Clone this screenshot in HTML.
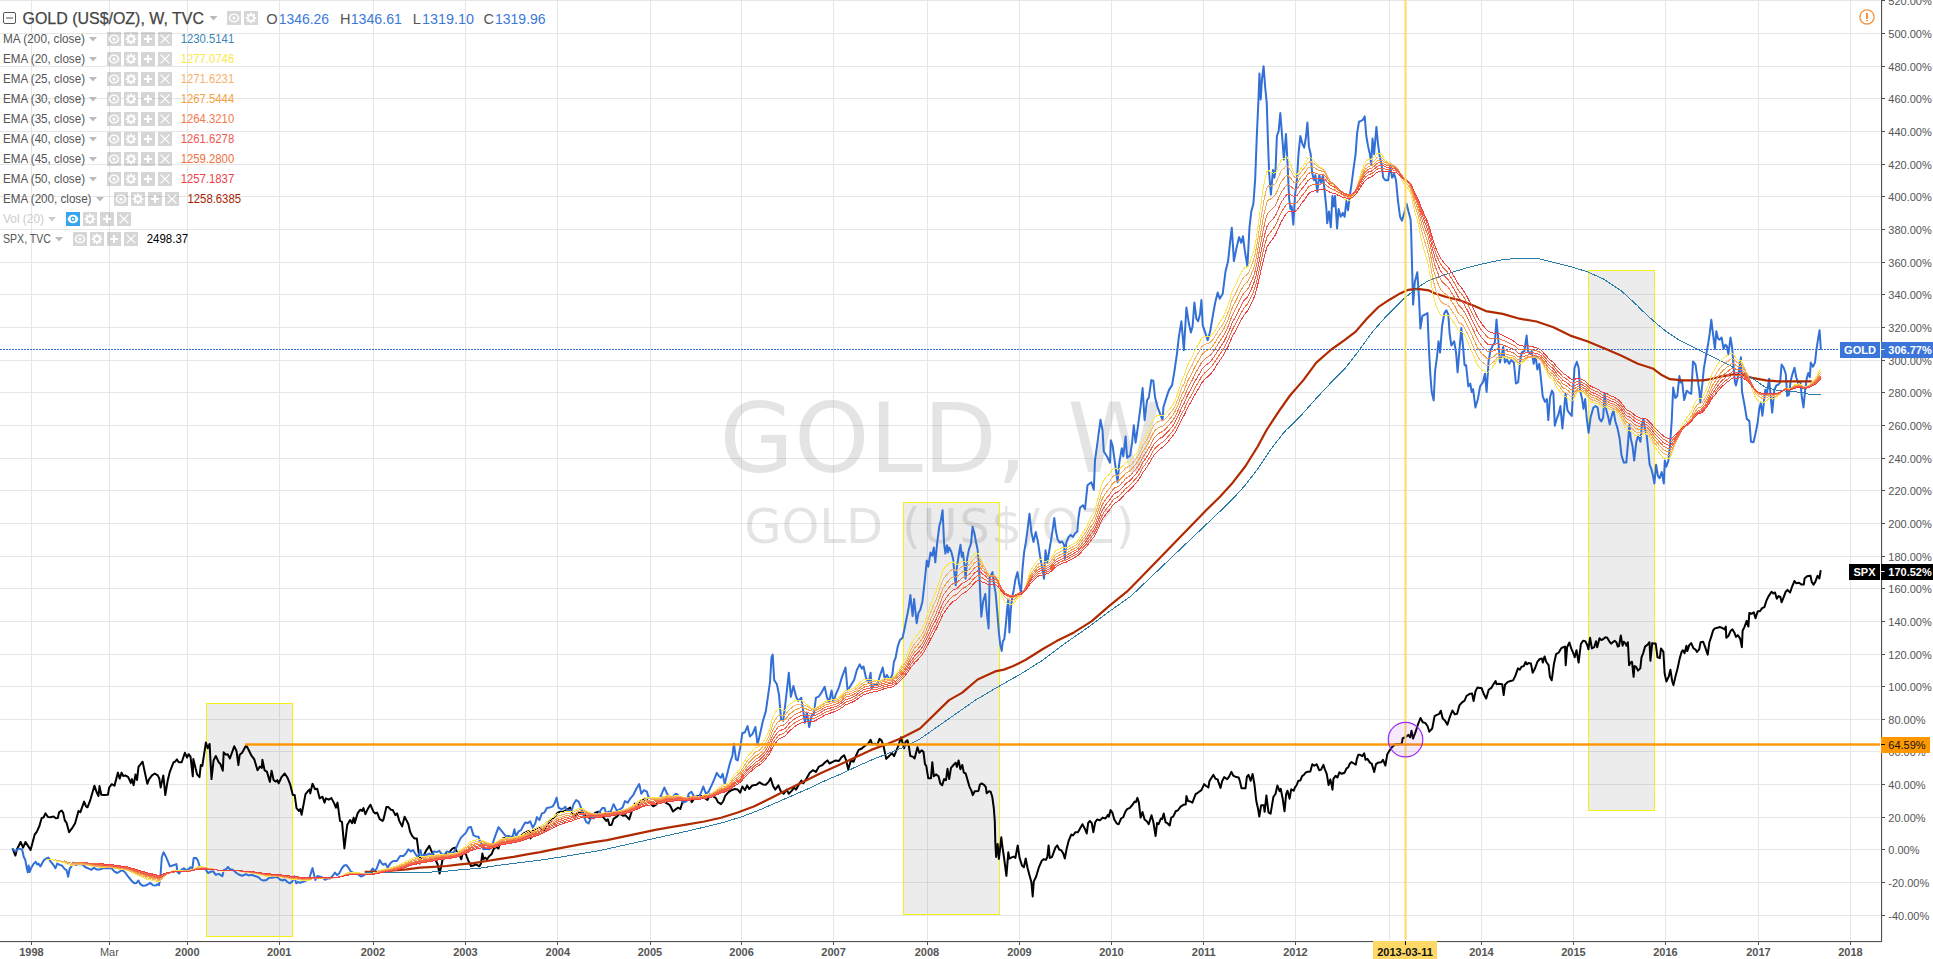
<!DOCTYPE html>
<html lang="en"><head><meta charset="utf-8"><title>GOLD (US$/OZ), W, TVC</title>
<style>html,body{margin:0;padding:0;background:#fff;overflow:hidden}body{width:1933px;height:959px;position:relative;font-family:"Liberation Sans",Arial,sans-serif}</style>
</head><body>
<svg width="1933" height="959" viewBox="0 0 1933 959" style="display:block;position:absolute;left:0;top:0">
<rect width="1933" height="959" fill="#fff"/>
<rect x="0" y="0" width="1880" height="1" fill="#e6e6e6"/>
<rect x="0" y="33" width="1880" height="1" fill="#e6e6e6"/>
<rect x="0" y="66" width="1880" height="1" fill="#e6e6e6"/>
<rect x="0" y="98" width="1880" height="1" fill="#e6e6e6"/>
<rect x="0" y="131" width="1880" height="1" fill="#e6e6e6"/>
<rect x="0" y="164" width="1880" height="1" fill="#e6e6e6"/>
<rect x="0" y="196" width="1880" height="1" fill="#e6e6e6"/>
<rect x="0" y="229" width="1880" height="1" fill="#e6e6e6"/>
<rect x="0" y="262" width="1880" height="1" fill="#e6e6e6"/>
<rect x="0" y="294" width="1880" height="1" fill="#e6e6e6"/>
<rect x="0" y="327" width="1880" height="1" fill="#e6e6e6"/>
<rect x="0" y="360" width="1880" height="1" fill="#e6e6e6"/>
<rect x="0" y="392" width="1880" height="1" fill="#e6e6e6"/>
<rect x="0" y="425" width="1880" height="1" fill="#e6e6e6"/>
<rect x="0" y="458" width="1880" height="1" fill="#e6e6e6"/>
<rect x="0" y="490" width="1880" height="1" fill="#e6e6e6"/>
<rect x="0" y="523" width="1880" height="1" fill="#e6e6e6"/>
<rect x="0" y="556" width="1880" height="1" fill="#e6e6e6"/>
<rect x="0" y="588" width="1880" height="1" fill="#e6e6e6"/>
<rect x="0" y="621" width="1880" height="1" fill="#e6e6e6"/>
<rect x="0" y="654" width="1880" height="1" fill="#e6e6e6"/>
<rect x="0" y="686" width="1880" height="1" fill="#e6e6e6"/>
<rect x="0" y="719" width="1880" height="1" fill="#e6e6e6"/>
<rect x="0" y="751" width="1880" height="1" fill="#e6e6e6"/>
<rect x="0" y="784" width="1880" height="1" fill="#e6e6e6"/>
<rect x="0" y="817" width="1880" height="1" fill="#e6e6e6"/>
<rect x="0" y="849" width="1880" height="1" fill="#e6e6e6"/>
<rect x="0" y="882" width="1880" height="1" fill="#e6e6e6"/>
<rect x="0" y="915" width="1880" height="1" fill="#e6e6e6"/>
<rect x="31" y="0" width="1" height="940" fill="#e6e6e6"/>
<rect x="109" y="0" width="1" height="940" fill="#e6e6e6"/>
<rect x="187" y="0" width="1" height="940" fill="#e6e6e6"/>
<rect x="279" y="0" width="1" height="940" fill="#e6e6e6"/>
<rect x="373" y="0" width="1" height="940" fill="#e6e6e6"/>
<rect x="465" y="0" width="1" height="940" fill="#e6e6e6"/>
<rect x="557" y="0" width="1" height="940" fill="#e6e6e6"/>
<rect x="650" y="0" width="1" height="940" fill="#e6e6e6"/>
<rect x="741" y="0" width="1" height="940" fill="#e6e6e6"/>
<rect x="833" y="0" width="1" height="940" fill="#e6e6e6"/>
<rect x="927" y="0" width="1" height="940" fill="#e6e6e6"/>
<rect x="1019" y="0" width="1" height="940" fill="#e6e6e6"/>
<rect x="1111" y="0" width="1" height="940" fill="#e6e6e6"/>
<rect x="1203" y="0" width="1" height="940" fill="#e6e6e6"/>
<rect x="1295" y="0" width="1" height="940" fill="#e6e6e6"/>
<rect x="1389" y="0" width="1" height="940" fill="#e6e6e6"/>
<rect x="1481" y="0" width="1" height="940" fill="#e6e6e6"/>
<rect x="1573" y="0" width="1" height="940" fill="#e6e6e6"/>
<rect x="1665" y="0" width="1" height="940" fill="#e6e6e6"/>
<rect x="1758" y="0" width="1" height="940" fill="#e6e6e6"/>
<rect x="1850" y="0" width="1" height="940" fill="#e6e6e6"/>
<g font-family="'DejaVu Sans', Verdana, sans-serif" fill="#555" fill-opacity="0.16">
<text x="719.5" y="472.3" font-size="96">GOLD,</text>
<text x="1067.3" y="472.3" font-size="96">W</text>
<text x="744.2" y="542.6" font-size="48">GOLD</text>
<text x="901.9" y="542.6" font-size="48" textLength="232.4">(US$/OZ)</text>
</g>
<rect x="206.5" y="703.5" width="86.0" height="233.0" fill="rgba(120,120,120,0.14)" stroke="#f5f014" stroke-width="1"/>
<rect x="903.5" y="502.5" width="96.0" height="412.0" fill="rgba(120,120,120,0.14)" stroke="#f5f014" stroke-width="1"/>
<rect x="1588.5" y="270.5" width="66.0" height="540.0" fill="rgba(120,120,120,0.14)" stroke="#f5f014" stroke-width="1"/>
<line x1="0" y1="349.5" x2="1839" y2="349.5" stroke="#3370d6" stroke-width="1" stroke-dasharray="2 1"/>
<path d="M12.8 849.1 L15.4 855.5 L16.9 849.5 L20.6 842.0 L23.1 847.6 L25.5 842.0 L30.6 849.9 L34.7 834.5 L36.6 832.2 L39.4 826.0 L41.7 818.0 L43.5 817.6 L45.4 813.3 L47.9 817.0 L50.7 817.2 L53.5 816.5 L55.9 818.3 L57.8 818.0 L59.1 812.3 L61.6 810.5 L63.2 812.9 L64.8 820.4 L66.6 822.9 L69.1 832.2 L72.3 827.9 L75.1 823.2 L78.5 811.0 L80.3 812.3 L84.1 801.6 L86.0 806.3 L87.5 807.3 L90.1 800.7 L94.4 785.7 L96.7 792.3 L98.5 796.0 L99.5 786.1 L101.3 794.7 L104.2 795.1 L107.9 794.7 L109.2 787.6 L111.7 784.2 L114.5 785.7 L117.9 772.6 L119.7 778.6 L121.6 772.6 L123.1 775.9 L125.4 775.4 L128.2 777.2 L130.8 782.9 L131.9 779.1 L133.6 785.3 L135.5 774.4 L137.0 780.1 L138.5 766.9 L142.6 761.7 L144.5 770.7 L147.3 783.8 L149.2 779.1 L152.0 775.4 L154.8 773.5 L157.7 775.4 L159.2 778.2 L160.7 787.6 L163.3 775.4 L165.3 795.1 L167.6 781.0 L169.9 771.6 L173.6 762.2 L175.1 761.7 L177.0 759.4 L178.7 762.2 L181.7 762.2 L184.9 752.8 L187.1 757.5 L188.6 754.2 L190.5 756.6 L192.8 776.3 L193.3 759.0 L197.1 774.4 L199.5 777.2 L200.8 765.0 L202.3 766.0 L205.9 742.5 L207.8 748.2 L209.6 744.0 L211.5 779.1 L213.6 760.4 L215.8 756.0 L218.7 762.2 L220.5 764.1 L222.8 770.7 L223.7 752.3 L225.8 754.7 L227.7 754.3 L229.9 758.5 L234.2 746.3 L236.5 751.0 L238.4 765.0 L239.7 754.7 L242.1 752.8 L246.2 745.3 L248.7 750.0 L251.5 755.7 L254.3 759.4 L257.5 770.3 L259.9 766.5 L261.8 767.9 L262.4 759.8 L264.6 770.3 L266.9 771.6 L269.9 781.9 L271.6 770.7 L273.6 780.1 L275.9 781.6 L277.4 780.1 L278.7 783.4 L281.5 777.2 L284.7 773.5 L287.2 777.2 L290.0 783.8 L292.8 795.1 L294.7 795.1 L296.5 808.2 L299.0 811.0 L300.3 809.1 L301.6 814.8 L305.5 794.1 L307.8 791.3 L309.7 789.4 L310.3 793.4 L312.5 783.7 L315.0 789.2 L317.2 788.7 L319.7 798.4 L322.5 796.7 L324.5 802.6 L325.9 798.4 L328.7 799.7 L331.4 798.1 L334.2 803.4 L335.9 807.6 L337.5 802.6 L340.0 820.9 L342.0 821.8 L344.4 848.4 L347.2 825.1 L350.1 820.1 L352.1 823.1 L353.7 817.6 L354.7 823.1 L357.6 813.4 L360.1 809.7 L362.1 810.9 L363.4 808.1 L365.4 814.2 L368.1 808.4 L370.4 804.7 L373.4 811.7 L375.4 813.4 L377.1 812.6 L379.7 819.2 L382.6 820.9 L383.4 819.7 L386.4 807.1 L388.4 807.1 L390.9 809.7 L392.8 810.1 L395.4 815.1 L397.1 813.4 L399.3 820.9 L402.1 826.4 L404.6 816.7 L406.8 820.9 L408.4 824.3 L410.1 831.8 L412.1 835.9 L414.3 838.4 L416.8 838.4 L418.8 853.5 L419.8 863.5 L421.0 856.8 L423.5 856.0 L426.0 850.9 L429.3 845.9 L431.8 851.8 L433.5 855.1 L436.0 861.0 L437.6 864.3 L439.6 873.5 L441.8 863.5 L443.1 856.8 L446.0 854.3 L448.5 853.5 L451.0 850.1 L452.7 848.4 L455.2 847.6 L456.8 852.1 L459.3 855.1 L461.3 859.3 L463.5 849.3 L465.2 851.8 L466.8 856.8 L468.5 861.0 L471.0 866.0 L473.5 865.5 L476.0 864.3 L479.4 866.3 L481.0 863.5 L482.4 853.5 L483.5 859.3 L485.2 857.6 L486.9 859.3 L489.4 856.0 L491.5 854.3 L493.5 849.3 L496.0 846.8 L498.5 848.4 L500.2 841.8 L502.7 838.4 L505.2 838.1 L508.6 837.1 L511.1 836.8 L513.6 838.4 L516.9 837.6 L520.2 836.8 L523.6 833.4 L526.9 831.8 L529.4 830.9 L530.6 838.4 L531.9 831.4 L535.2 829.3 L537.7 828.4 L540.3 826.8 L543.6 830.9 L546.1 826.8 L549.4 821.8 L551.9 820.1 L554.4 816.7 L557.8 812.6 L560.3 811.7 L563.6 811.7 L566.9 809.7 L570.3 807.6 L571.6 811.7 L573.6 815.1 L575.3 816.7 L577.8 812.6 L581.1 811.7 L583.6 813.4 L587.0 816.7 L590.3 818.4 L592.8 815.1 L595.3 812.6 L598.6 811.7 L601.1 814.2 L603.6 817.6 L606.2 820.9 L607.8 819.2 L609.5 825.1 L611.5 825.0 L613.6 818.8 L616.7 816.7 L619.8 813.6 L622.9 815.7 L625.4 815.2 L629.2 819.4 L631.7 811.5 L634.8 803.6 L637.5 805.2 L641.7 800.6 L644.9 799.4 L646.9 800.0 L650.1 803.1 L653.2 806.3 L655.9 804.8 L659.5 801.1 L662.6 796.9 L665.7 802.7 L669.9 805.2 L673.0 811.5 L675.5 809.4 L678.2 807.7 L680.3 809.0 L682.8 801.1 L685.5 800.6 L688.7 796.9 L691.8 802.1 L693.9 799.0 L696.4 796.5 L700.1 795.8 L703.3 796.9 L707.4 800.0 L710.6 793.8 L713.7 796.9 L715.8 797.9 L717.9 802.1 L721.0 804.2 L723.1 801.5 L725.2 795.8 L728.3 792.3 L731.4 790.2 L734.6 789.0 L737.7 789.6 L740.2 792.7 L742.3 786.5 L745.0 790.2 L747.1 785.4 L749.2 789.0 L752.3 785.4 L756.5 784.8 L759.6 782.3 L762.7 784.4 L765.8 784.8 L768.6 781.9 L770.6 778.1 L773.1 786.0 L775.2 789.6 L778.4 785.4 L780.4 790.6 L783.6 793.8 L786.7 789.6 L788.8 793.8 L791.9 790.6 L794.0 787.5 L796.1 789.6 L799.2 784.0 L801.3 780.6 L803.4 783.3 L806.5 778.5 L809.6 772.9 L812.8 770.2 L815.9 771.9 L819.0 766.6 L822.2 765.2 L824.9 762.5 L827.4 760.4 L829.5 763.5 L832.6 761.8 L835.7 760.4 L838.9 761.0 L841.6 757.2 L844.1 755.2 L846.2 760.4 L848.2 769.3 L851.0 760.4 L853.5 761.8 L856.2 755.2 L858.7 749.9 L861.8 748.5 L864.9 745.8 L868.1 743.7 L870.6 739.9 L872.2 744.3 L874.9 743.7 L877.4 744.7 L879.5 738.9 L881.6 740.6 L883.7 746.8 L886.2 758.9 L888.9 756.2 L892.0 753.1 L894.1 756.2 L896.2 751.0 L898.3 745.8 L901.0 737.4 L904.1 748.2 L905.6 741.6 L907.5 740.3 L909.0 747.2 L910.3 756.0 L912.8 756.6 L914.6 758.5 L917.5 747.2 L919.3 752.8 L921.6 750.4 L923.5 751.9 L925.0 764.1 L926.3 766.0 L928.2 778.2 L931.0 778.2 L932.3 762.2 L933.8 776.3 L936.0 774.4 L938.5 776.3 L940.4 783.8 L942.2 785.3 L944.1 779.1 L946.0 780.1 L947.5 768.8 L949.2 779.1 L951.0 767.9 L953.5 765.0 L955.7 762.8 L956.9 766.9 L958.6 760.4 L960.4 769.2 L962.3 765.0 L963.8 772.6 L965.7 773.5 L967.6 780.1 L969.4 786.6 L971.3 790.4 L972.8 795.1 L974.7 791.3 L978.5 790.9 L979.8 784.8 L981.6 783.4 L984.1 784.8 L985.8 787.2 L986.7 793.2 L989.1 791.3 L990.7 791.7 L992.3 797.0 L993.8 808.2 L994.8 821.3 L995.3 842.0 L996.1 857.0 L997.6 843.9 L998.9 858.9 L1000.0 849.5 L1001.3 837.3 L1002.7 848.6 L1004.2 858.9 L1006.4 875.8 L1008.3 852.3 L1009.4 858.5 L1011.7 857.4 L1013.9 856.6 L1015.4 857.9 L1017.7 845.4 L1019.6 857.9 L1022.0 865.5 L1023.9 867.3 L1025.7 858.5 L1027.6 868.3 L1029.9 876.7 L1031.4 882.3 L1032.7 896.4 L1033.8 881.4 L1036.1 876.7 L1038.9 867.3 L1041.7 860.8 L1043.6 859.3 L1046.0 859.8 L1047.3 857.0 L1048.6 845.4 L1049.8 857.9 L1052.0 857.0 L1055.4 847.6 L1057.3 845.4 L1059.2 849.5 L1061.4 850.4 L1063.3 853.6 L1064.8 858.5 L1066.7 848.6 L1068.9 840.1 L1071.4 834.5 L1073.0 835.4 L1075.5 832.2 L1077.9 832.2 L1079.8 828.9 L1082.4 824.2 L1084.9 828.9 L1086.7 833.5 L1088.2 822.9 L1089.9 821.0 L1091.8 823.2 L1093.3 832.2 L1095.2 822.3 L1097.1 819.5 L1099.9 820.4 L1102.7 817.6 L1105.5 818.5 L1108.0 814.8 L1108.9 816.7 L1110.6 810.1 L1112.5 812.9 L1114.3 819.5 L1116.8 823.6 L1118.7 824.2 L1121.1 818.5 L1123.3 817.2 L1125.2 812.0 L1127.1 809.1 L1129.9 807.8 L1132.7 804.5 L1134.6 801.6 L1135.9 802.2 L1137.4 797.9 L1138.9 802.6 L1140.6 817.6 L1142.5 812.0 L1144.6 819.5 L1146.8 821.3 L1148.7 824.2 L1151.5 815.3 L1153.4 822.3 L1155.6 836.0 L1157.1 822.9 L1158.6 824.2 L1160.9 818.5 L1162.2 819.1 L1163.7 813.5 L1165.6 822.3 L1167.4 823.2 L1169.7 825.5 L1171.2 817.6 L1173.1 816.7 L1175.9 811.0 L1177.8 810.5 L1180.6 806.7 L1183.4 804.8 L1185.7 804.5 L1186.4 796.0 L1188.1 801.1 L1190.5 801.6 L1192.4 802.6 L1195.6 794.1 L1198.4 792.3 L1200.0 791.1 L1201.4 790.2 L1204.2 784.1 L1206.1 786.0 L1208.4 787.4 L1209.4 781.3 L1211.7 777.5 L1213.4 774.9 L1215.5 778.7 L1217.6 779.4 L1218.8 783.2 L1220.5 787.9 L1222.1 781.3 L1224.2 777.1 L1227.2 779.2 L1229.1 776.6 L1231.4 771.9 L1233.3 775.7 L1236.1 777.1 L1238.7 777.5 L1239.9 781.3 L1241.5 788.3 L1245.5 788.3 L1246.9 776.6 L1248.5 774.9 L1250.7 780.8 L1252.6 774.0 L1254.4 784.1 L1256.3 801.0 L1258.0 808.5 L1259.3 816.5 L1261.2 805.2 L1263.8 805.2 L1264.6 811.8 L1266.4 795.4 L1268.5 812.3 L1270.6 813.7 L1273.4 796.8 L1275.5 794.0 L1277.4 785.5 L1279.6 791.1 L1280.7 788.8 L1282.6 798.2 L1284.5 811.3 L1286.1 794.4 L1287.5 790.7 L1289.6 798.7 L1291.2 789.3 L1293.7 790.7 L1295.0 787.4 L1296.7 785.0 L1298.3 780.8 L1300.4 780.4 L1302.1 776.1 L1304.0 774.7 L1305.9 772.4 L1307.9 771.7 L1310.3 771.4 L1312.3 764.2 L1314.3 765.8 L1316.6 764.2 L1319.2 770.2 L1321.1 769.6 L1323.4 764.9 L1324.8 769.1 L1326.7 773.8 L1328.6 785.0 L1330.3 779.4 L1331.4 784.1 L1332.5 789.7 L1333.4 778.9 L1335.6 775.7 L1337.5 777.5 L1339.4 772.4 L1341.7 773.8 L1344.5 772.8 L1346.4 768.6 L1348.3 767.2 L1349.9 763.5 L1351.6 762.1 L1353.9 763.5 L1355.8 764.6 L1356.9 758.8 L1358.3 754.8 L1360.0 754.8 L1362.3 756.1 L1364.2 753.3 L1365.5 759.8 L1367.4 758.9 L1369.9 762.6 L1371.7 763.6 L1374.2 772.0 L1376.0 764.1 L1378.3 762.6 L1381.1 762.3 L1383.0 759.8 L1385.4 765.5 L1387.3 754.2 L1389.6 750.4 L1392.4 746.7 L1395.2 744.2 L1398.9 744.2 L1401.8 743.5 L1402.7 738.2 L1405.5 737.3 L1408.3 734.9 L1410.2 737.3 L1411.5 730.7 L1413.0 738.6 L1415.5 732.2 L1417.7 725.1 L1420.5 718.0 L1422.8 722.3 L1425.2 722.9 L1427.5 726.0 L1429.3 731.7 L1432.2 728.5 L1434.6 716.1 L1436.9 714.8 L1439.3 713.8 L1440.8 710.7 L1442.7 718.5 L1444.9 720.4 L1447.4 724.7 L1449.6 717.6 L1452.4 710.5 L1454.9 714.4 L1457.1 713.8 L1459.4 705.4 L1461.8 702.6 L1464.6 700.7 L1466.5 696.0 L1469.3 694.1 L1472.1 693.6 L1473.6 701.1 L1475.5 691.3 L1477.4 687.6 L1479.6 687.9 L1481.5 687.9 L1483.8 694.1 L1486.2 698.5 L1488.7 689.8 L1491.3 687.9 L1493.7 683.8 L1495.6 681.0 L1496.5 684.2 L1498.4 683.8 L1502.2 684.2 L1503.7 695.1 L1505.0 684.8 L1507.8 681.9 L1510.6 681.0 L1513.1 680.4 L1515.3 675.9 L1518.0 668.4 L1519.8 669.7 L1521.5 666.7 L1523.8 666.1 L1525.6 662.0 L1526.8 664.3 L1528.6 663.1 L1530.9 663.5 L1532.7 672.7 L1534.8 668.8 L1537.5 661.7 L1539.8 659.0 L1541.9 658.5 L1542.8 662.6 L1544.6 656.4 L1546.3 662.0 L1548.6 665.2 L1549.9 676.8 L1551.7 680.3 L1554.0 663.5 L1556.1 654.2 L1558.8 652.5 L1561.1 648.4 L1563.2 647.2 L1565.0 646.6 L1565.7 665.2 L1567.1 647.2 L1569.4 642.5 L1571.2 648.4 L1573.5 653.7 L1574.7 657.3 L1576.5 650.2 L1578.6 662.6 L1580.9 644.0 L1583.0 640.8 L1585.3 641.3 L1587.1 644.8 L1588.4 649.3 L1590.1 637.8 L1591.9 648.4 L1594.2 647.2 L1596.0 641.3 L1597.2 647.2 L1599.5 638.3 L1601.3 640.1 L1603.4 639.0 L1605.4 637.2 L1607.2 637.8 L1609.3 641.3 L1611.1 643.6 L1612.8 642.2 L1614.6 640.8 L1616.4 642.2 L1617.8 646.6 L1619.0 646.1 L1620.8 635.5 L1622.6 645.7 L1623.8 641.8 L1625.2 643.1 L1626.5 645.7 L1627.9 642.2 L1629.1 665.2 L1630.6 662.6 L1632.0 661.7 L1633.6 676.8 L1634.5 666.1 L1636.2 667.0 L1638.0 670.6 L1640.3 668.4 L1641.5 657.3 L1643.3 652.8 L1645.1 646.6 L1647.4 644.8 L1649.5 642.2 L1650.4 660.8 L1652.2 643.1 L1654.0 643.6 L1655.7 643.6 L1657.5 657.3 L1659.8 658.1 L1661.0 648.4 L1663.4 651.9 L1664.6 673.2 L1666.4 681.5 L1668.7 676.8 L1670.4 669.7 L1672.2 681.2 L1673.5 685.1 L1675.2 677.6 L1677.5 668.8 L1679.8 658.1 L1681.6 651.9 L1682.9 650.2 L1684.6 653.2 L1686.4 645.7 L1687.3 651.1 L1689.1 645.4 L1691.2 643.1 L1693.5 648.4 L1695.3 649.3 L1697.0 651.9 L1699.2 649.3 L1700.6 642.2 L1703.2 641.8 L1705.0 646.6 L1707.7 654.6 L1709.4 642.2 L1711.2 636.9 L1713.0 630.7 L1714.8 628.4 L1717.4 627.7 L1720.1 627.1 L1722.4 628.0 L1724.5 629.4 L1725.8 626.6 L1726.3 637.8 L1728.4 636.0 L1730.7 630.7 L1732.5 629.4 L1734.3 632.4 L1736.0 636.9 L1737.8 635.1 L1740.1 638.6 L1741.9 647.2 L1742.6 630.7 L1744.4 627.1 L1746.7 620.9 L1748.4 626.6 L1749.3 612.9 L1751.5 613.8 L1753.8 612.4 L1755.5 618.3 L1757.7 611.2 L1760.0 611.2 L1762.1 608.1 L1764.4 607.1 L1766.5 600.5 L1768.5 596.4 L1771.5 591.7 L1773.3 593.4 L1775.0 592.5 L1776.8 598.8 L1778.6 596.1 L1780.4 597.0 L1781.6 602.3 L1783.4 597.9 L1785.7 591.7 L1787.5 589.9 L1790.1 592.5 L1792.2 586.3 L1794.5 581.0 L1796.3 583.3 L1799.0 582.8 L1801.6 584.6 L1803.8 584.6 L1804.6 578.4 L1807.0 576.2 L1810.5 575.7 L1811.7 581.9 L1813.5 584.6 L1815.3 581.9 L1817.6 575.7 L1819.4 578.4 L1820.6 570.9" fill="none" stroke="#000" stroke-width="2" stroke-linejoin="round" stroke-linecap="round"/>
<path d="M12.8 849.1 L15.4 851.4 L18.8 848.6 L22.1 849.5 L23.8 857.0 L25.3 859.8 L26.8 868.3 L27.8 872.4 L28.7 865.5 L29.7 872.0 L31.0 868.3 L33.8 863.6 L35.7 861.7 L37.2 864.5 L38.5 863.6 L40.4 866.4 L44.1 859.8 L46.5 858.5 L48.4 857.6 L50.7 861.7 L53.1 864.5 L55.4 868.3 L57.2 863.6 L59.7 864.9 L61.9 865.5 L64.8 869.2 L66.6 870.1 L68.1 876.7 L69.8 868.3 L70.9 867.3 L73.2 862.6 L75.1 864.9 L78.8 864.1 L82.6 864.5 L85.4 867.3 L88.2 868.3 L91.6 869.8 L93.8 867.7 L96.7 869.6 L99.5 869.6 L102.9 868.3 L106.0 868.3 L111.7 868.3 L114.5 871.6 L117.3 873.0 L122.0 870.1 L124.8 872.0 L127.6 875.8 L131.4 880.5 L134.2 883.3 L136.6 882.9 L138.3 880.5 L140.4 884.2 L142.6 885.7 L145.5 885.5 L148.3 884.2 L150.1 882.9 L153.0 885.2 L155.8 885.5 L157.3 884.2 L159.0 885.2 L160.5 875.8 L161.8 857.0 L163.5 852.3 L166.1 857.0 L168.0 861.7 L169.9 866.4 L172.7 865.5 L176.4 864.1 L177.4 872.0 L179.2 873.5 L181.1 870.1 L183.9 868.3 L185.8 870.1 L188.6 869.2 L190.5 867.3 L192.4 868.3 L193.7 857.9 L196.1 857.9 L198.0 860.8 L199.9 867.3 L202.7 868.3 L205.5 869.2 L208.0 873.0 L210.2 872.0 L213.0 871.1 L215.8 874.8 L218.7 873.9 L222.4 876.2 L223.7 870.1 L226.2 869.2 L228.0 867.0 L229.9 869.2 L232.7 869.8 L236.5 873.0 L239.3 874.8 L242.1 875.8 L245.9 874.3 L248.7 875.4 L251.5 874.8 L254.3 875.8 L257.1 876.7 L259.0 877.7 L261.3 879.9 L263.7 880.5 L266.5 879.9 L269.3 877.7 L272.1 877.7 L275.0 877.3 L277.8 877.3 L280.0 879.5 L282.5 880.5 L284.7 879.5 L287.2 881.8 L290.0 883.3 L292.4 881.4 L294.3 876.2 L296.2 883.3 L298.4 881.8 L300.3 882.9 L303.1 881.8 L305.9 880.5 L308.7 879.5 L310.0 876.0 L312.5 868.1 L315.3 880.1 L317.5 876.0 L321.7 877.1 L325.0 879.8 L327.5 878.5 L330.0 878.5 L332.5 876.0 L335.0 872.6 L337.0 875.1 L339.2 873.5 L341.7 868.5 L344.2 865.5 L346.4 865.1 L348.4 867.6 L350.9 871.8 L353.4 872.6 L356.7 873.5 L360.9 876.5 L363.4 875.5 L366.7 873.5 L369.7 873.5 L372.6 868.5 L374.7 871.0 L376.7 868.5 L379.7 860.1 L381.8 863.5 L383.4 864.8 L385.4 863.5 L387.6 867.6 L390.9 862.6 L393.4 861.0 L396.8 861.0 L400.1 856.0 L403.4 856.0 L405.9 853.5 L408.4 849.3 L410.9 851.4 L413.1 850.1 L415.1 853.5 L416.8 856.0 L418.8 855.1 L420.6 850.1 L421.8 856.8 L424.3 854.8 L426.8 854.8 L429.3 853.5 L431.8 855.1 L434.3 851.4 L436.8 852.1 L439.3 850.9 L441.8 854.3 L444.3 854.8 L446.8 851.4 L449.3 852.1 L451.8 853.5 L454.3 851.4 L456.0 848.4 L458.5 842.6 L461.0 837.6 L463.5 835.1 L466.0 832.6 L468.5 827.6 L471.0 827.1 L473.5 835.4 L476.0 836.4 L478.5 836.8 L479.9 840.9 L481.9 844.3 L483.5 849.3 L486.0 848.8 L489.4 849.3 L491.9 845.9 L494.4 838.4 L496.9 831.4 L498.5 827.1 L501.0 830.1 L503.5 833.4 L506.0 836.4 L508.6 835.9 L511.1 837.6 L512.7 836.8 L514.4 829.3 L516.1 835.9 L518.6 831.4 L521.1 830.1 L522.7 826.8 L525.2 822.6 L527.7 823.1 L530.2 821.4 L532.7 827.6 L535.2 823.4 L536.9 817.1 L539.4 820.1 L541.9 813.4 L544.4 812.6 L546.9 808.1 L549.4 807.6 L552.8 806.4 L554.9 802.6 L556.6 797.6 L558.6 807.6 L561.1 809.2 L563.6 808.4 L565.3 806.7 L566.9 810.1 L569.4 810.9 L571.9 809.7 L573.6 804.2 L576.1 800.1 L578.6 801.7 L580.3 805.9 L582.0 810.9 L583.6 815.9 L586.1 821.8 L588.6 823.4 L591.1 817.6 L593.6 818.4 L596.1 815.9 L598.6 813.4 L600.3 810.9 L602.3 808.1 L604.5 808.1 L606.2 813.4 L608.7 811.7 L610.8 811.5 L613.6 804.2 L616.7 810.4 L619.8 809.4 L622.5 807.7 L625.0 801.1 L627.7 802.7 L630.2 798.6 L633.4 794.8 L636.5 788.5 L639.2 784.0 L641.3 793.8 L643.8 790.2 L646.9 791.7 L648.4 796.9 L651.1 798.6 L654.7 797.9 L657.4 799.4 L659.5 798.6 L662.2 792.7 L664.3 787.5 L667.2 793.8 L669.9 798.6 L673.0 796.9 L675.5 793.8 L677.6 794.4 L679.3 798.6 L681.8 800.6 L683.4 802.7 L686.6 801.1 L688.7 793.8 L691.4 791.7 L693.5 795.8 L696.0 797.9 L699.1 796.9 L701.8 790.6 L703.3 786.5 L706.0 793.8 L708.5 791.7 L711.6 785.4 L714.3 779.2 L716.8 772.9 L718.9 776.0 L721.0 777.7 L722.7 773.9 L724.7 784.0 L727.2 773.9 L729.8 763.5 L732.5 755.2 L733.9 743.7 L736.0 759.3 L737.7 760.4 L740.2 747.9 L742.3 733.3 L745.0 732.2 L747.5 726.0 L749.8 736.4 L752.3 734.3 L755.4 727.0 L757.5 744.7 L760.2 733.3 L762.7 721.8 L765.8 711.4 L767.9 696.8 L770.0 682.2 L771.5 657.1 L772.7 654.6 L774.2 680.1 L776.9 684.2 L779.0 694.7 L781.1 719.7 L783.2 720.7 L785.2 705.1 L787.1 688.4 L788.8 672.8 L790.9 696.8 L793.4 685.9 L796.1 696.8 L798.2 700.9 L801.3 697.8 L803.4 712.4 L804.9 722.8 L806.9 712.4 L809.2 727.0 L811.7 715.5 L813.8 714.5 L815.9 697.8 L819.0 696.3 L821.5 692.6 L824.7 686.7 L826.8 696.8 L829.0 702.0 L831.6 690.5 L833.2 702.0 L835.7 694.7 L838.9 687.4 L842.0 676.9 L845.5 667.5 L847.6 690.5 L850.3 686.3 L854.1 680.1 L857.0 669.6 L859.7 664.4 L861.8 668.6 L863.5 666.5 L866.0 678.0 L868.7 682.2 L870.6 672.8 L871.6 688.4 L874.3 684.2 L877.4 685.3 L879.5 676.9 L882.7 667.5 L884.7 679.0 L886.8 674.9 L890.0 680.1 L892.5 673.8 L893.9 661.9 L895.5 658.2 L897.7 646.6 L899.9 640.0 L902.5 637.9 L904.2 630.2 L906.4 619.2 L908.6 608.3 L910.4 595.1 L912.6 615.9 L914.1 599.1 L916.7 623.2 L918.5 612.7 L920.2 610.0 L922.4 601.7 L924.6 582.0 L926.8 560.5 L928.3 566.7 L930.5 552.4 L932.3 555.7 L933.8 547.4 L935.3 562.3 L937.1 543.7 L939.3 526.1 L940.8 520.7 L942.6 510.2 L944.1 543.7 L945.4 553.5 L947.0 545.2 L948.0 552.4 L949.1 547.4 L951.3 551.8 L953.1 559.0 L954.2 571.0 L955.7 585.3 L956.8 567.8 L959.0 553.5 L960.5 544.8 L961.8 556.8 L962.9 552.4 L964.5 565.6 L965.6 578.7 L967.1 559.0 L968.9 549.6 L971.0 543.7 L972.6 526.8 L974.3 532.7 L975.9 541.5 L977.6 549.6 L978.7 562.3 L979.8 584.2 L981.3 616.6 L983.1 601.7 L985.3 594.0 L986.8 612.7 L988.6 628.4 L989.7 577.6 L992.5 572.1 L994.0 584.2 L995.6 592.9 L997.3 612.7 L998.9 632.4 L1000.2 644.4 L1001.7 651.0 L1002.8 641.6 L1004.3 638.9 L1005.7 625.8 L1007.2 608.3 L1008.3 599.5 L1009.4 632.4 L1010.9 608.3 L1012.2 597.3 L1013.8 589.7 L1015.3 579.8 L1017.5 572.1 L1019.2 584.2 L1021.0 591.9 L1022.5 568.9 L1024.1 552.4 L1025.8 542.6 L1027.6 529.4 L1029.5 513.7 L1031.3 531.6 L1033.5 542.1 L1035.7 532.1 L1037.9 541.5 L1040.0 555.7 L1041.8 565.6 L1044.0 578.7 L1045.5 550.2 L1047.3 562.3 L1048.8 553.5 L1051.0 540.4 L1053.2 526.1 L1054.3 518.0 L1055.8 530.5 L1057.6 539.3 L1059.8 542.6 L1061.9 541.5 L1064.1 544.8 L1064.8 559.0 L1066.3 542.6 L1068.5 537.1 L1070.7 534.9 L1072.9 537.1 L1075.1 533.4 L1077.3 531.6 L1078.4 518.5 L1080.0 507.8 L1083.0 505.3 L1085.0 509.0 L1087.5 485.2 L1091.3 482.2 L1093.8 489.7 L1095.0 460.2 L1097.5 442.7 L1100.5 419.7 L1102.5 430.2 L1103.8 451.5 L1107.0 456.5 L1110.0 462.7 L1110.8 440.2 L1112.5 445.2 L1114.6 460.2 L1117.6 482.2 L1119.3 462.7 L1121.8 448.2 L1123.3 456.5 L1125.6 436.4 L1127.1 457.7 L1130.1 455.7 L1132.1 442.7 L1133.8 425.2 L1135.6 442.7 L1138.1 425.2 L1140.6 406.4 L1142.6 388.1 L1144.6 420.2 L1147.1 400.1 L1148.8 397.6 L1151.3 380.1 L1153.3 380.6 L1155.1 397.6 L1157.6 407.2 L1160.1 413.9 L1162.6 420.2 L1163.4 407.2 L1166.4 397.6 L1168.9 390.1 L1172.1 385.1 L1174.6 370.1 L1177.1 352.6 L1178.9 336.3 L1181.4 321.3 L1183.9 350.1 L1186.4 307.5 L1188.9 323.8 L1190.9 332.6 L1192.6 326.3 L1194.4 302.5 L1196.4 318.8 L1198.1 321.3 L1200.1 313.8 L1201.4 300.0 L1202.7 325.1 L1205.2 332.6 L1207.7 340.1 L1210.2 331.3 L1212.7 316.3 L1215.2 302.5 L1217.7 292.5 L1219.7 298.8 L1222.7 293.8 L1225.5 271.5 L1228.1 261.1 L1230.0 242.8 L1231.8 227.7 L1233.9 261.1 L1236.5 248.0 L1239.1 237.1 L1241.2 242.8 L1243.0 236.3 L1244.8 250.7 L1247.4 266.3 L1249.5 227.2 L1251.3 211.6 L1253.4 203.7 L1255.2 179.0 L1256.8 136.0 L1258.6 96.9 L1259.4 73.5 L1260.7 99.5 L1262.0 78.7 L1263.6 66.2 L1265.1 86.5 L1266.7 102.1 L1267.8 136.0 L1269.1 172.5 L1270.9 194.6 L1273.0 169.9 L1274.5 177.7 L1275.6 168.6 L1276.9 136.0 L1278.7 130.8 L1280.3 113.1 L1282.1 136.0 L1283.9 159.4 L1286.0 133.9 L1287.6 164.7 L1289.1 198.5 L1290.4 209.0 L1291.7 206.4 L1293.3 224.6 L1295.1 194.6 L1296.9 180.3 L1298.5 154.2 L1300.3 136.0 L1302.4 143.8 L1304.2 147.7 L1306.1 136.0 L1307.4 122.4 L1308.9 146.4 L1310.7 154.2 L1312.1 172.5 L1313.9 180.3 L1315.4 175.1 L1317.3 192.0 L1319.3 175.1 L1321.2 182.9 L1323.0 175.1 L1324.6 190.7 L1326.4 209.0 L1327.2 223.3 L1329.0 211.6 L1330.8 227.2 L1332.4 195.9 L1333.9 206.4 L1335.0 195.9 L1337.1 228.5 L1338.6 209.0 L1340.7 216.8 L1342.8 212.9 L1344.6 216.8 L1346.4 201.1 L1348.0 210.3 L1349.8 195.9 L1351.7 182.9 L1353.7 167.3 L1355.6 154.2 L1357.1 133.4 L1359.0 121.7 L1361.0 120.9 L1362.9 119.8 L1364.7 116.4 L1366.3 136.0 L1368.1 146.4 L1369.9 154.2 L1371.2 164.7 L1372.5 138.6 L1374.1 154.2 L1376.4 126.9 L1378.0 143.8 L1379.8 156.8 L1381.6 164.7 L1383.2 177.7 L1385.5 180.3 L1388.1 180.3 L1390.2 166.0 L1392.1 177.7 L1394.1 173.8 L1396.0 180.3 L1398.0 201.1 L1400.1 216.8 L1402.0 220.7 L1404.6 211.6 L1406.6 203.7 L1408.5 211.6 L1410.6 219.4 L1411.1 230.0 L1412.0 263.8 L1413.1 304.6 L1414.8 282.1 L1417.3 272.3 L1419.0 297.6 L1420.4 328.6 L1422.4 315.9 L1425.2 314.5 L1427.5 313.1 L1428.9 348.3 L1430.3 373.7 L1431.7 392.0 L1433.7 400.4 L1435.1 370.8 L1437.0 356.8 L1438.5 341.3 L1440.1 352.5 L1442.1 325.8 L1444.4 313.1 L1446.3 310.3 L1448.3 314.5 L1449.7 334.2 L1451.4 345.5 L1454.2 341.3 L1456.2 353.9 L1457.6 372.3 L1459.6 348.3 L1461.3 328.0 L1463.2 348.3 L1464.6 365.2 L1466.1 365.2 L1468.3 386.3 L1470.3 383.5 L1471.7 392.0 L1473.1 389.2 L1475.4 407.5 L1477.9 399.0 L1480.1 386.3 L1483.0 382.1 L1484.9 373.7 L1486.6 392.0 L1488.6 361.0 L1490.6 349.7 L1492.8 345.5 L1494.8 342.7 L1496.5 319.6 L1498.5 342.7 L1499.9 362.4 L1501.8 355.4 L1503.2 346.9 L1504.9 362.4 L1506.9 359.6 L1509.2 363.8 L1511.1 360.1 L1513.9 362.4 L1515.9 383.5 L1518.2 382.1 L1520.1 361.0 L1521.8 352.5 L1524.4 351.1 L1526.6 335.6 L1528.0 351.1 L1530.0 353.9 L1531.7 351.1 L1533.7 363.8 L1535.6 355.4 L1537.3 369.4 L1539.3 363.8 L1541.3 382.1 L1542.7 396.2 L1544.9 401.8 L1546.9 399.0 L1548.3 420.1 L1550.0 397.6 L1552.0 390.6 L1553.4 393.4 L1554.8 425.8 L1556.8 418.7 L1558.5 414.5 L1560.4 406.1 L1562.4 428.6 L1564.1 410.3 L1565.5 393.4 L1567.5 410.3 L1569.4 413.1 L1571.7 415.9 L1573.1 390.6 L1574.5 368.0 L1576.8 361.8 L1578.7 368.0 L1580.1 390.6 L1582.1 399.0 L1583.5 408.9 L1585.2 399.0 L1586.6 417.3 L1588.6 432.8 L1590.6 417.3 L1593.4 407.5 L1595.6 406.1 L1597.6 407.5 L1599.3 418.7 L1601.3 421.5 L1603.2 417.3 L1604.6 393.4 L1606.3 410.3 L1608.3 417.3 L1609.7 424.4 L1611.7 415.9 L1613.4 410.3 L1615.4 421.5 L1617.6 428.6 L1619.6 438.5 L1621.5 455.4 L1623.8 462.6 L1626.3 462.6 L1627.9 443.9 L1629.4 425.1 L1630.8 438.7 L1632.5 446.0 L1634.2 460.6 L1636.3 441.8 L1638.3 435.5 L1640.4 441.8 L1641.9 425.1 L1643.4 418.9 L1645.0 429.3 L1646.7 435.5 L1648.2 450.1 L1649.6 464.7 L1651.3 468.9 L1652.9 475.2 L1654.4 483.5 L1656.1 464.7 L1658.0 476.2 L1659.6 478.3 L1661.7 472.0 L1663.8 483.5 L1664.8 460.6 L1666.3 466.8 L1668.4 460.6 L1670.0 446.0 L1671.7 420.9 L1673.2 387.6 L1675.3 398.0 L1677.3 395.9 L1679.4 376.1 L1680.5 382.4 L1682.1 381.3 L1684.2 400.1 L1686.7 390.7 L1689.2 392.8 L1691.3 393.8 L1693.0 361.5 L1695.5 364.6 L1697.6 379.2 L1699.2 389.7 L1700.3 402.2 L1702.4 383.4 L1703.8 368.8 L1705.9 356.3 L1708.0 344.8 L1709.7 333.4 L1711.3 319.8 L1713.2 335.4 L1714.9 349.0 L1716.3 331.3 L1718.0 338.6 L1719.7 339.6 L1721.6 337.5 L1723.6 349.0 L1725.3 344.8 L1726.8 345.9 L1728.4 354.2 L1730.5 337.5 L1732.2 348.0 L1733.6 366.7 L1734.7 380.3 L1735.9 385.5 L1737.4 379.2 L1739.3 368.8 L1740.9 357.3 L1742.0 391.7 L1743.4 399.0 L1745.1 408.4 L1746.8 418.9 L1749.3 420.9 L1751.0 441.8 L1753.5 442.2 L1755.5 433.5 L1757.6 423.0 L1759.3 408.4 L1760.8 403.2 L1762.4 415.7 L1763.9 402.2 L1765.3 389.7 L1767.0 392.8 L1769.1 378.8 L1770.6 395.9 L1772.2 412.6 L1774.3 389.7 L1776.4 385.5 L1778.5 384.5 L1780.1 382.4 L1781.6 364.6 L1783.7 367.8 L1785.8 374.0 L1787.2 395.9 L1788.9 394.9 L1790.6 381.3 L1792.7 373.0 L1794.5 367.8 L1796.2 377.2 L1798.3 383.4 L1800.4 382.4 L1801.8 397.0 L1803.5 407.4 L1805.2 389.7 L1807.0 377.2 L1808.3 373.0 L1809.8 377.2 L1810.8 362.6 L1812.9 366.7 L1815.0 362.6 L1816.4 350.0 L1818.1 338.6 L1819.6 330.2 L1820.8 349.0" fill="none" stroke="#3370d6" stroke-width="2" stroke-linejoin="round" stroke-linecap="round"/>
<path d="M364.7 871.8 L378.4 871.5 L393.4 870.5 L406.8 869.3 L420.1 867.6 L433.5 866.8 L446.8 866.0 L460.2 864.3 L473.5 863.1 L486.9 861.0 L500.2 858.8 L513.6 856.8 L526.9 854.3 L540.3 852.1 L553.6 849.3 L566.9 846.8 L580.3 844.3 L593.6 842.1 L607.0 840.1 L655.3 829.8 L670.9 827.1 L687.6 824.4 L704.3 821.5 L721.0 817.7 L737.7 812.5 L754.4 806.3 L771.1 797.9 L787.7 789.6 L804.4 781.2 L821.1 772.9 L837.8 765.6 L854.5 757.7 L871.2 749.9 L887.9 743.7 L900.4 738.5 L910.8 733.3 L920.0 728.5 L949.1 700.1 L962.3 692.6 L977.6 679.5 L995.1 671.4 L1003.9 669.6 L1012.7 666.3 L1025.8 659.8 L1043.3 648.8 L1056.5 641.1 L1074.0 632.4 L1091.5 621.4 L1109.0 606.1 L1126.6 591.9 L1139.7 578.7 L1206.4 510.0 L1220.2 496.5 L1232.7 482.7 L1245.2 466.5 L1257.7 446.5 L1266.6 430.0 L1278.8 411.4 L1290.0 395.5 L1303.2 380.4 L1316.3 362.6 L1331.3 349.5 L1344.5 340.1 L1355.7 331.6 L1367.0 318.5 L1378.2 307.2 L1389.5 299.7 L1398.9 294.1 L1408.3 289.8 L1417.7 288.9 L1428.9 290.4 L1435.1 293.4 L1446.3 297.0 L1460.4 300.4 L1474.5 306.1 L1485.8 311.1 L1502.7 313.9 L1519.6 318.7 L1536.5 321.5 L1553.4 327.2 L1570.3 335.6 L1587.2 341.3 L1604.1 348.3 L1621.0 355.4 L1637.9 363.8 L1653.4 368.8 L1661.7 375.1 L1670.0 379.2 L1682.6 380.3 L1703.4 380.3 L1711.7 378.8 L1720.1 376.7 L1732.6 374.7 L1743.0 375.1 L1753.5 378.2 L1766.0 380.3 L1778.5 381.3 L1797.2 381.3 L1811.8 381.3" fill="none" stroke="#b02a00" stroke-width="2.2" stroke-linejoin="round"/>
<path d="M364.7 872.1 L393.4 872.6 L420.1 872.3 L440.1 871.8 L460.2 869.8 L480.2 868.1 L500.2 865.1 L520.2 862.6 L540.3 860.1 L560.3 857.1 L580.3 853.8 L600.3 850.4 L691.8 830.1 L708.5 826.1 L725.2 821.9 L741.9 816.7 L758.5 810.4 L775.2 803.1 L791.9 795.8 L808.6 788.5 L825.3 780.6 L842.0 773.5 L858.7 765.6 L875.4 758.3 L892.0 752.0 L904.6 746.8 L920.0 738.9 L975.4 700.1 L999.5 686.0 L1021.4 673.6 L1043.3 659.8 L1065.2 643.3 L1087.1 628.0 L1109.0 611.6 L1130.9 596.2 L1221.4 510.0 L1232.7 499.0 L1245.2 485.2 L1257.7 469.0 L1270.2 450.2 L1282.7 433.9 L1286.3 430.0 L1301.3 415.2 L1316.3 398.3 L1331.3 382.3 L1344.5 369.2 L1357.6 352.3 L1372.6 331.6 L1387.6 314.8 L1402.6 299.7 L1417.7 287.5 L1428.9 280.4 L1452.0 272.3 L1468.9 267.2 L1485.8 263.2 L1502.7 259.6 L1519.6 258.2 L1536.5 258.2 L1553.4 262.4 L1570.3 266.6 L1587.2 271.7 L1604.1 279.3 L1621.0 290.6 L1637.9 306.1 L1640.9 309.4 L1653.4 320.9 L1665.9 331.3 L1678.4 339.6 L1690.9 345.9 L1703.4 352.1 L1715.9 358.4 L1728.4 364.6 L1740.9 371.9 L1753.5 379.2 L1766.0 387.6 L1778.5 390.7 L1791.0 391.3 L1803.5 392.8 L1809.8 394.5 L1820.8 394.5" fill="none" stroke="#2a7ba8" stroke-width="1" stroke-linejoin="round" shape-rendering="crispEdges"/>
<path d="M46.4 859.1 L48.2 859.0 L49.9 859.1 L51.7 859.5 L53.5 860.0 L55.3 860.8 L57.0 861.1 L58.8 861.4 L60.6 861.8 L62.3 862.2 L64.1 862.8 L65.9 863.4 L67.6 864.5 L69.4 865.0 L71.2 865.2 L72.9 865.0 L74.7 865.0 L76.5 864.9 L78.2 864.9 L80.0 864.8 L81.8 864.8 L83.6 864.8 L85.3 865.1 L87.1 865.3 L88.9 865.6 L90.6 866.0 L92.4 866.3 L94.2 866.4 L95.9 866.7 L97.7 867.0 L99.5 867.2 L101.2 867.4 L103.0 867.5 L104.8 867.5 L106.6 867.6 L108.3 867.7 L110.1 867.7 L111.9 867.8 L113.6 868.1 L115.4 868.5 L117.2 868.9 L118.9 869.2 L120.7 869.3 L122.5 869.4 L124.2 869.7 L126.0 870.0 L127.8 870.6 L129.5 871.3 L131.3 872.2 L133.1 873.1 L134.9 874.1 L136.6 874.9 L138.4 875.5 L140.2 876.3 L141.9 877.1 L143.7 877.9 L145.5 878.7 L147.2 879.2 L149.0 879.7 L150.8 880.0 L152.5 880.5 L154.3 880.9 L156.1 881.3 L157.8 881.7 L159.6 881.6 L161.4 879.8 L163.2 877.3 L164.9 875.2 L166.7 873.6 L168.5 872.6 L170.2 872.0 L172.0 871.4 L173.8 870.8 L175.5 870.2 L177.3 870.3 L179.1 870.6 L180.8 870.6 L182.6 870.4 L184.4 870.3 L186.1 870.2 L187.9 870.2 L189.7 870.0 L191.5 869.8 L193.2 869.0 L195.0 867.9 L196.8 867.1 L198.5 866.7 L200.3 866.7 L202.1 866.9 L203.8 867.0 L205.6 867.3 L207.4 867.7 L209.1 868.2 L210.9 868.5 L212.7 868.8 L214.5 869.2 L216.2 869.7 L218.0 870.1 L219.8 870.5 L221.5 871.0 L223.3 871.1 L225.1 871.0 L226.8 870.7 L228.6 870.4 L230.4 870.3 L232.1 870.3 L233.9 870.3 L235.7 870.5 L237.4 870.8 L239.2 871.2 L241.0 871.6 L242.8 872.0 L244.5 872.2 L246.3 872.4 L248.1 872.7 L249.8 872.9 L251.6 873.1 L253.4 873.3 L255.1 873.6 L256.9 873.9 L258.7 874.2 L260.4 874.7 L262.2 875.2 L264.0 875.7 L265.7 876.1 L267.5 876.4 L269.3 876.5 L271.1 876.6 L272.8 876.7 L274.6 876.8 L276.4 876.8 L278.1 876.9 L279.9 877.2 L281.7 877.4 L283.4 877.7 L285.2 877.9 L287.0 878.3 L288.7 878.7 L290.5 879.1 L292.3 879.3 L294.1 879.1 L295.8 879.3 L297.6 879.6 L299.4 879.9 L301.1 880.1 L302.9 880.3 L304.7 880.4 L306.4 880.4 L308.2 880.3 L310.0 879.9 L311.7 879.0 L313.5 878.4 L315.3 878.5 L317.0 878.4 L318.8 878.2 L320.6 878.1 L322.4 878.0 L324.1 878.1 L325.9 878.2 L327.7 878.3 L329.4 878.3 L331.2 878.2 L333.0 877.9 L334.7 877.4 L336.5 877.2 L338.3 876.9 L340.0 876.4 L341.8 875.6 L343.6 874.7 L345.3 873.8 L347.1 873.1 L348.9 872.6 L350.7 872.5 L352.4 872.5 L354.2 872.5 L356.0 872.6 L357.7 872.8 L359.5 873.0 L361.3 873.3 L363.0 873.6 L364.8 873.7 L366.6 873.7 L368.3 873.6 L370.1 873.6 L371.9 873.2 L373.7 872.9 L375.4 872.6 L377.2 872.1 L379.0 871.1 L380.7 870.2 L382.5 869.7 L384.3 869.1 L386.0 868.7 L387.8 868.6 L389.6 868.2 L391.3 867.6 L393.1 867.0 L394.9 866.5 L396.6 865.9 L398.4 865.2 L400.2 864.4 L402.0 863.6 L403.7 862.8 L405.5 862.0 L407.3 860.9 L409.0 859.9 L410.8 859.1 L412.6 858.2 L414.3 857.7 L416.1 857.4 L417.9 857.2 L419.6 856.8 L421.4 856.6 L423.2 856.5 L424.9 856.3 L426.7 856.2 L428.5 856.0 L430.3 855.8 L432.0 855.7 L433.8 855.4 L435.6 855.0 L437.3 854.7 L439.1 854.4 L440.9 854.2 L442.6 854.3 L444.4 854.3 L446.2 854.1 L447.9 853.9 L449.7 853.7 L451.5 853.7 L453.3 853.6 L455.0 853.2 L456.8 852.6 L458.6 851.6 L460.3 850.4 L462.1 849.1 L463.9 847.7 L465.6 846.3 L467.4 844.8 L469.2 843.1 L470.9 841.6 L472.7 840.7 L474.5 840.3 L476.2 839.9 L478.0 839.6 L479.8 839.7 L481.6 840.1 L483.3 840.9 L485.1 841.7 L486.9 842.4 L488.6 843.0 L490.4 843.5 L492.2 843.6 L493.9 843.3 L495.7 842.5 L497.5 841.3 L499.2 840.0 L501.0 839.1 L502.8 838.4 L504.5 838.1 L506.3 837.9 L508.1 837.7 L509.9 837.6 L511.6 837.6 L513.4 837.2 L515.2 836.8 L516.9 836.5 L518.7 836.0 L520.5 835.5 L522.2 834.8 L524.0 833.8 L525.8 832.7 L527.5 831.8 L529.3 830.9 L531.1 830.2 L532.8 829.9 L534.6 829.4 L536.4 828.4 L538.2 827.5 L539.9 826.6 L541.7 825.4 L543.5 824.2 L545.2 823.0 L547.0 821.6 L548.8 820.2 L550.5 819.0 L552.3 817.8 L554.1 816.5 L555.8 814.9 L557.6 813.8 L559.4 813.2 L561.2 812.8 L562.9 812.4 L564.7 811.9 L566.5 811.7 L568.2 811.6 L570.0 811.5 L571.8 811.3 L573.5 810.7 L575.3 809.8 L577.1 808.9 L578.8 808.3 L580.6 808.1 L582.4 808.5 L584.1 809.3 L585.9 810.5 L587.7 811.7 L589.5 812.6 L591.2 813.1 L593.0 813.6 L594.8 813.9 L596.5 814.1 L598.3 814.0 L600.1 813.8 L601.8 813.3 L603.6 812.8 L605.4 812.6 L607.1 812.6 L608.9 812.5 L610.7 812.4 L612.4 811.9 L614.2 811.3 L616.0 811.1 L617.8 811.0 L619.5 810.9 L621.3 810.6 L623.1 810.2 L624.8 809.4 L626.6 808.7 L628.4 808.0 L630.1 807.1 L631.9 806.1 L633.7 805.0 L635.4 803.6 L637.2 802.1 L639.0 800.4 L640.8 799.5 L642.5 798.8 L644.3 798.0 L646.1 797.4 L647.8 797.1 L649.6 797.2 L651.4 797.3 L653.1 797.4 L654.9 797.5 L656.7 797.6 L658.4 797.7 L660.2 797.7 L662.0 797.2 L663.7 796.4 L665.5 795.8 L667.3 795.7 L669.1 795.8 L670.8 796.0 L672.6 796.1 L674.4 796.0 L676.1 795.8 L677.9 795.8 L679.7 796.1 L681.4 796.5 L683.2 797.0 L685.0 797.5 L686.7 797.8 L688.5 797.5 L690.3 797.0 L692.0 796.6 L693.8 796.6 L695.6 796.7 L697.4 796.7 L699.1 796.8 L700.9 796.4 L702.7 795.6 L704.4 795.0 L706.2 794.9 L708.0 794.6 L709.7 794.1 L711.5 793.3 L713.3 792.2 L715.0 790.8 L716.8 789.1 L718.6 787.8 L720.4 786.8 L722.1 785.7 L723.9 785.1 L725.7 784.6 L727.4 783.5 L729.2 781.9 L731.0 779.8 L732.7 777.2 L734.5 774.5 L736.3 773.0 L738.0 771.7 L739.8 769.6 L741.6 766.6 L743.3 763.4 L745.1 760.4 L746.9 757.3 L748.7 754.8 L750.4 753.0 L752.2 751.2 L754.0 749.2 L755.7 747.4 L757.5 747.1 L759.3 746.2 L761.0 744.6 L762.8 742.4 L764.6 739.8 L766.3 736.8 L768.1 732.8 L769.9 728.1 L771.6 721.3 L773.4 716.1 L775.2 712.8 L777.0 710.1 L778.7 708.5 L780.5 708.9 L782.3 710.0 L784.0 710.4 L785.8 709.4 L787.6 707.0 L789.3 704.3 L791.1 703.5 L792.9 702.0 L794.6 701.0 L796.4 700.6 L798.2 700.7 L800.0 700.5 L801.7 700.5 L803.5 701.7 L805.3 703.6 L807.0 704.5 L808.8 706.4 L810.6 707.7 L812.3 708.5 L814.1 708.8 L815.9 707.8 L817.6 706.7 L819.4 705.7 L821.2 704.5 L822.9 703.1 L824.7 701.5 L826.5 701.0 L828.3 700.9 L830.0 700.6 L831.8 699.7 L833.6 699.8 L835.3 699.5 L837.1 698.7 L838.9 697.6 L840.6 696.1 L842.4 694.2 L844.2 692.0 L845.9 690.1 L847.7 690.1 L849.5 689.9 L851.2 689.4 L853.0 688.7 L854.8 687.6 L856.6 686.1 L858.3 684.2 L860.1 682.4 L861.9 681.1 L863.6 679.8 L865.4 679.3 L867.2 679.4 L868.9 679.5 L870.7 679.1 L872.5 679.8 L874.2 680.2 L876.0 680.7 L877.8 681.0 L879.5 680.6 L881.3 679.7 L883.1 678.8 L884.9 678.8 L886.6 678.4 L888.4 678.3 L890.2 678.5 L891.9 678.2 L893.7 676.8 L895.5 675.0 L897.2 672.5 L899.0 669.7 L900.8 666.8 L902.5 664.0 L904.3 660.7 L906.1 656.9 L907.9 652.7 L909.6 647.7 L911.4 643.6 L913.2 640.4 L914.9 637.2 L916.7 635.8 L918.5 633.7 L920.2 631.4 L922.0 628.7 L923.8 625.0 L925.5 620.0 L927.3 614.5 L929.1 609.5 L930.8 604.1 L932.6 599.3 L934.4 594.9 L936.2 591.0 L937.9 585.9 L939.7 580.0 L941.5 574.0 L943.2 569.3 L945.0 567.5 L946.8 565.5 L948.5 564.0 L950.3 562.7 L952.1 561.9 L953.8 562.4 L955.6 564.5 L957.4 564.5 L959.1 563.3 L960.9 561.9 L962.7 561.1 L964.5 561.5 L966.2 562.4 L968.0 561.6 L969.8 560.2 L971.5 558.1 L973.3 555.4 L975.1 553.6 L976.8 552.9 L978.6 553.7 L980.4 557.8 L982.1 562.7 L983.9 566.1 L985.7 569.3 L987.5 573.9 L989.2 576.4 L991.0 576.3 L992.8 576.1 L994.5 577.1 L996.3 579.4 L998.1 583.5 L999.8 588.9 L1001.6 594.8 L1003.4 599.2 L1005.1 602.2 L1006.9 603.1 L1008.7 603.8 L1010.4 605.0 L1012.2 604.2 L1014.0 602.7 L1015.8 600.4 L1017.5 597.7 L1019.3 596.5 L1021.1 595.9 L1022.8 593.0 L1024.6 588.9 L1026.4 584.1 L1028.1 578.5 L1029.9 572.7 L1031.7 568.9 L1033.4 566.4 L1035.2 563.3 L1037.0 560.9 L1038.7 559.6 L1040.5 559.5 L1042.3 560.3 L1044.1 562.0 L1045.8 561.1 L1047.6 561.0 L1049.4 560.0 L1051.1 558.0 L1052.9 555.2 L1054.7 551.9 L1056.4 550.2 L1058.2 549.2 L1060.0 548.6 L1061.7 547.9 L1063.5 547.5 L1065.3 548.1 L1067.1 547.4 L1068.8 546.4 L1070.6 545.3 L1072.4 544.5 L1074.1 543.6 L1075.9 542.6 L1077.7 541.1 L1079.4 538.3 L1081.2 535.3 L1083.0 532.4 L1084.7 530.2 L1086.5 526.8 L1088.3 522.8 L1090.0 519.0 L1091.8 515.6 L1093.6 513.1 L1095.4 507.8 L1097.1 501.9 L1098.9 495.2 L1100.7 488.1 L1102.4 482.6 L1104.2 479.7 L1106.0 477.3 L1107.7 475.5 L1109.5 474.2 L1111.3 471.1 L1113.0 469.0 L1114.8 468.3 L1116.6 468.9 L1118.3 469.3 L1120.1 468.3 L1121.9 466.4 L1123.7 465.2 L1125.4 462.6 L1127.2 462.1 L1129.0 461.6 L1130.7 460.6 L1132.5 458.5 L1134.3 455.8 L1136.0 454.2 L1137.8 451.7 L1139.6 448.1 L1141.3 443.5 L1143.1 439.0 L1144.9 437.0 L1146.7 433.8 L1148.4 430.4 L1150.2 426.4 L1152.0 422.0 L1153.7 418.4 L1155.5 416.6 L1157.3 415.6 L1159.0 415.1 L1160.8 415.2 L1162.6 415.7 L1164.3 414.6 L1166.1 413.0 L1167.9 411.1 L1169.6 409.0 L1171.4 406.9 L1173.2 404.2 L1175.0 400.7 L1176.7 396.4 L1178.5 391.0 L1180.3 385.0 L1182.0 379.6 L1183.8 376.7 L1185.6 371.5 L1187.3 366.0 L1189.1 362.0 L1190.9 359.2 L1192.6 356.0 L1194.4 350.9 L1196.2 347.7 L1197.9 345.2 L1199.7 342.3 L1201.5 338.4 L1203.3 337.3 L1205.0 336.8 L1206.8 336.9 L1208.6 336.9 L1210.3 336.3 L1212.1 334.7 L1213.9 332.4 L1215.6 329.4 L1217.4 326.0 L1219.2 323.2 L1220.9 320.7 L1222.7 318.1 L1224.5 314.5 L1226.2 310.1 L1228.0 305.4 L1229.8 299.7 L1231.6 293.0 L1233.3 289.1 L1235.1 285.9 L1236.9 282.1 L1238.6 278.0 L1240.4 274.5 L1242.2 271.1 L1243.9 268.5 L1245.7 267.3 L1247.5 267.1 L1249.2 263.7 L1251.0 259.0 L1252.8 254.0 L1254.6 247.7 L1256.3 238.3 L1258.1 225.9 L1259.9 212.2 L1261.6 200.1 L1263.4 187.5 L1265.2 177.9 L1266.9 171.4 L1268.7 170.4 L1270.5 172.2 L1272.2 172.9 L1274.0 173.1 L1275.8 172.2 L1277.5 168.6 L1279.3 164.3 L1281.1 160.4 L1282.9 159.0 L1284.6 158.2 L1286.4 156.6 L1288.2 158.6 L1289.9 163.0 L1291.7 167.2 L1293.5 172.4 L1295.2 174.4 L1297.0 174.8 L1298.8 172.6 L1300.5 169.2 L1302.3 166.7 L1304.1 164.9 L1305.8 162.3 L1307.6 158.8 L1309.4 157.8 L1311.2 158.1 L1312.9 159.8 L1314.7 161.5 L1316.5 163.7 L1318.2 165.6 L1320.0 166.8 L1321.8 168.1 L1323.5 169.3 L1325.3 172.0 L1327.1 176.7 L1328.8 180.1 L1330.6 184.4 L1332.4 185.5 L1334.2 187.3 L1335.9 189.5 L1337.7 192.5 L1339.5 194.3 L1341.2 196.4 L1343.0 198.0 L1344.8 199.7 L1346.5 199.9 L1348.3 200.6 L1350.1 200.0 L1351.8 198.3 L1353.6 195.4 L1355.4 191.6 L1357.1 186.0 L1358.9 180.0 L1360.7 174.3 L1362.5 169.2 L1364.2 164.2 L1366.0 161.2 L1367.8 159.6 L1369.5 158.9 L1371.3 159.3 L1373.1 157.8 L1374.8 156.7 L1376.6 154.0 L1378.4 153.3 L1380.1 153.8 L1381.9 155.1 L1383.7 157.3 L1385.4 159.5 L1387.2 161.5 L1389.0 162.7 L1390.8 163.3 L1392.5 164.6 L1394.3 165.5 L1396.1 167.0 L1397.8 170.1 L1399.6 174.2 L1401.4 178.5 L1403.1 182.1 L1404.9 184.8 L1406.7 186.6 L1408.4 189.0 L1410.2 191.8 L1412.0 198.6 L1413.8 207.8 L1415.5 214.6 L1417.3 220.1 L1419.1 227.6 L1420.8 237.0 L1422.6 244.5 L1424.4 251.2 L1426.1 257.2 L1427.9 263.5 L1429.7 272.9 L1431.4 283.9 L1433.2 294.8 L1435.0 302.3 L1436.7 307.7 L1438.5 310.9 L1440.3 314.6 L1442.1 315.7 L1443.8 315.8 L1445.6 315.4 L1447.4 315.1 L1449.1 316.1 L1450.9 318.6 L1452.7 321.0 L1454.4 323.1 L1456.2 326.0 L1458.0 330.0 L1459.7 331.6 L1461.5 331.5 L1463.3 333.1 L1465.0 336.2 L1466.8 339.6 L1468.6 344.0 L1470.4 347.8 L1472.1 351.9 L1473.9 356.1 L1475.7 360.9 L1477.4 364.7 L1479.2 367.2 L1481.0 368.9 L1482.7 370.2 L1484.5 370.7 L1486.3 372.4 L1488.0 372.1 L1489.8 370.4 L1491.6 368.3 L1493.4 366.0 L1495.1 363.4 L1496.9 359.7 L1498.7 358.3 L1500.4 358.5 L1502.2 357.9 L1504.0 357.6 L1505.7 357.9 L1507.5 358.2 L1509.3 358.7 L1511.0 358.8 L1512.8 359.1 L1514.6 360.1 L1516.3 362.3 L1518.1 364.2 L1519.9 364.1 L1521.7 363.1 L1523.4 362.0 L1525.2 360.4 L1527.0 358.4 L1528.7 357.8 L1530.5 357.4 L1532.3 357.1 L1534.0 357.6 L1535.8 357.6 L1537.6 358.6 L1539.3 359.1 L1541.1 361.2 L1542.9 364.5 L1544.6 368.0 L1546.4 371.0 L1548.2 375.6 L1550.0 377.7 L1551.7 379.0 L1553.5 380.6 L1555.3 384.8 L1557.0 387.9 L1558.8 390.3 L1560.6 392.0 L1562.3 395.4 L1564.1 396.8 L1565.9 396.8 L1567.6 398.1 L1569.4 399.5 L1571.2 401.0 L1572.9 400.3 L1574.7 397.2 L1576.5 393.9 L1578.3 391.3 L1580.0 391.1 L1581.8 391.7 L1583.6 393.3 L1585.3 394.0 L1587.1 396.6 L1588.9 399.9 L1590.6 401.5 L1592.4 402.4 L1594.2 402.9 L1595.9 403.2 L1597.7 403.7 L1599.5 405.1 L1601.3 406.7 L1603.0 407.7 L1604.8 406.5 L1606.6 407.0 L1608.3 408.0 L1610.1 409.4 L1611.9 410.0 L1613.6 410.1 L1615.4 411.2 L1617.2 412.7 L1618.9 414.9 L1620.7 418.1 L1622.5 421.9 L1624.2 425.8 L1626.0 429.3 L1627.8 430.8 L1629.6 430.4 L1631.3 431.4 L1633.1 433.3 L1634.9 435.3 L1636.6 435.8 L1638.4 435.8 L1640.2 436.3 L1641.9 435.3 L1643.7 433.9 L1645.5 433.6 L1647.2 434.3 L1649.0 436.6 L1650.8 439.6 L1652.5 442.8 L1654.3 446.7 L1656.1 448.4 L1657.9 451.0 L1659.6 453.5 L1661.4 455.4 L1663.2 457.7 L1664.9 458.1 L1666.7 458.8 L1668.5 458.9 L1670.2 457.3 L1672.0 453.2 L1673.8 447.2 L1675.5 442.5 L1677.3 438.1 L1679.1 432.5 L1680.9 427.7 L1682.6 423.7 L1684.4 421.4 L1686.2 418.7 L1687.9 416.1 L1689.7 413.9 L1691.5 411.7 L1693.2 406.9 L1695.0 402.8 L1696.8 400.0 L1698.5 398.6 L1700.3 399.0 L1702.1 397.8 L1703.8 395.0 L1705.6 391.5 L1707.4 387.3 L1709.2 382.5 L1710.9 376.9 L1712.7 372.5 L1714.5 370.0 L1716.2 366.4 L1718.0 363.7 L1719.8 361.4 L1721.5 359.1 L1723.3 358.0 L1725.1 356.8 L1726.8 355.8 L1728.6 355.5 L1730.4 353.9 L1732.1 353.3 L1733.9 354.9 L1735.7 357.7 L1737.5 359.8 L1739.2 360.7 L1741.0 360.6 L1742.8 364.0 L1744.5 367.9 L1746.3 372.5 L1748.1 377.0 L1749.8 381.8 L1751.6 387.5 L1753.4 392.7 L1755.1 396.7 L1756.9 399.6 L1758.7 400.9 L1760.5 401.3 L1762.2 402.5 L1764.0 402.4 L1765.8 401.3 L1767.5 400.1 L1769.3 398.3 L1771.1 398.5 L1772.8 399.2 L1774.6 398.3 L1776.4 397.0 L1778.1 395.9 L1779.9 394.6 L1781.7 391.8 L1783.4 389.4 L1785.2 387.8 L1787.0 388.3 L1788.8 388.9 L1790.5 388.2 L1792.3 386.9 L1794.1 385.2 L1795.8 384.3 L1797.6 384.0 L1799.4 383.9 L1801.1 384.5 L1802.9 386.3 L1804.7 387.2 L1806.4 386.6 L1808.2 385.3 L1810.0 384.3 L1811.7 382.4 L1813.5 380.8 L1815.3 378.8 L1817.1 375.7 L1818.8 371.7 L1820.6 369.3" fill="none" stroke="#f9e84a" stroke-width="1" stroke-linejoin="round" shape-rendering="crispEdges"/>
<path d="M55.3 859.9 L57.0 860.2 L58.8 860.5 L60.6 860.9 L62.3 861.3 L64.1 861.8 L65.9 862.4 L67.6 863.4 L69.4 863.9 L71.2 864.1 L72.9 864.0 L74.7 864.1 L76.5 864.1 L78.2 864.1 L80.0 864.1 L81.8 864.1 L83.6 864.2 L85.3 864.5 L87.1 864.7 L88.9 865.0 L90.6 865.4 L92.4 865.7 L94.2 865.8 L95.9 866.1 L97.7 866.4 L99.5 866.6 L101.2 866.8 L103.0 866.9 L104.8 867.0 L106.6 867.1 L108.3 867.2 L110.1 867.3 L111.9 867.4 L113.6 867.6 L115.4 868.0 L117.2 868.3 L118.9 868.6 L120.7 868.8 L122.5 868.9 L124.2 869.1 L126.0 869.5 L127.8 870.0 L129.5 870.6 L131.3 871.4 L133.1 872.2 L134.9 873.0 L136.6 873.8 L138.4 874.3 L140.2 875.1 L141.9 875.8 L143.7 876.6 L145.5 877.3 L147.2 877.8 L149.0 878.3 L150.8 878.7 L152.5 879.2 L154.3 879.6 L156.1 880.1 L157.8 880.4 L159.6 880.5 L161.4 879.1 L163.2 877.1 L164.9 875.4 L166.7 874.1 L168.5 873.3 L170.2 872.7 L172.0 872.2 L173.8 871.6 L175.5 871.1 L177.3 871.1 L179.1 871.3 L180.8 871.2 L182.6 871.1 L184.4 870.9 L186.1 870.8 L187.9 870.7 L189.7 870.5 L191.5 870.3 L193.2 869.6 L195.0 868.7 L196.8 868.0 L198.5 867.6 L200.3 867.6 L202.1 867.6 L203.8 867.7 L205.6 867.8 L207.4 868.1 L209.1 868.5 L210.9 868.7 L212.7 868.9 L214.5 869.2 L216.2 869.6 L218.0 870.0 L219.8 870.3 L221.5 870.8 L223.3 870.8 L225.1 870.8 L226.8 870.6 L228.6 870.4 L230.4 870.3 L232.1 870.2 L233.9 870.3 L235.7 870.4 L237.4 870.7 L239.2 871.0 L241.0 871.3 L242.8 871.7 L244.5 871.9 L246.3 872.1 L248.1 872.3 L249.8 872.5 L251.6 872.7 L253.4 872.9 L255.1 873.2 L256.9 873.4 L258.7 873.8 L260.4 874.2 L262.2 874.6 L264.0 875.1 L265.7 875.5 L267.5 875.7 L269.3 875.9 L271.1 876.0 L272.8 876.1 L274.6 876.2 L276.4 876.3 L278.1 876.4 L279.9 876.7 L281.7 876.9 L283.4 877.2 L285.2 877.4 L287.0 877.7 L288.7 878.1 L290.5 878.5 L292.3 878.7 L294.1 878.5 L295.8 878.8 L297.6 879.1 L299.4 879.3 L301.1 879.6 L302.9 879.8 L304.7 879.9 L306.4 879.9 L308.2 879.9 L310.0 879.6 L311.7 878.9 L313.5 878.4 L315.3 878.5 L317.0 878.4 L318.8 878.2 L320.6 878.1 L322.4 878.1 L324.1 878.2 L325.9 878.2 L327.7 878.3 L329.4 878.3 L331.2 878.2 L333.0 878.0 L334.7 877.6 L336.5 877.4 L338.3 877.1 L340.0 876.7 L341.8 876.1 L343.6 875.3 L345.3 874.5 L347.1 873.9 L348.9 873.5 L350.7 873.3 L352.4 873.2 L354.2 873.2 L356.0 873.2 L357.7 873.3 L359.5 873.5 L361.3 873.7 L363.0 873.8 L364.8 873.9 L366.6 873.9 L368.3 873.8 L370.1 873.8 L371.9 873.4 L373.7 873.2 L375.4 872.9 L377.2 872.5 L379.0 871.7 L380.7 870.9 L382.5 870.4 L384.3 869.9 L386.0 869.5 L387.8 869.3 L389.6 869.0 L391.3 868.5 L393.1 867.9 L394.9 867.4 L396.6 866.9 L398.4 866.2 L400.2 865.5 L402.0 864.7 L403.7 864.0 L405.5 863.3 L407.3 862.3 L409.0 861.4 L410.8 860.6 L412.6 859.8 L414.3 859.2 L416.1 858.9 L417.9 858.6 L419.6 858.2 L421.4 857.9 L423.2 857.7 L424.9 857.5 L426.7 857.3 L428.5 857.0 L430.3 856.8 L432.0 856.7 L433.8 856.3 L435.6 856.0 L437.3 855.6 L439.1 855.3 L440.9 855.1 L442.6 855.1 L444.4 855.0 L446.2 854.8 L447.9 854.6 L449.7 854.4 L451.5 854.3 L453.3 854.2 L455.0 853.9 L456.8 853.3 L458.6 852.5 L460.3 851.4 L462.1 850.3 L463.9 849.1 L465.6 847.8 L467.4 846.5 L469.2 845.0 L470.9 843.6 L472.7 842.8 L474.5 842.2 L476.2 841.8 L478.0 841.4 L479.8 841.3 L481.6 841.5 L483.3 842.1 L485.1 842.6 L486.9 843.1 L488.6 843.6 L490.4 843.9 L492.2 844.0 L493.9 843.7 L495.7 843.0 L497.5 842.0 L499.2 840.9 L501.0 840.1 L502.8 839.5 L504.5 839.1 L506.3 838.9 L508.1 838.7 L509.9 838.5 L511.6 838.4 L513.4 838.1 L515.2 837.6 L516.9 837.4 L518.7 836.9 L520.5 836.4 L522.2 835.8 L524.0 834.9 L525.8 834.0 L527.5 833.1 L529.3 832.3 L531.1 831.6 L532.8 831.3 L534.6 830.7 L536.4 829.8 L538.2 829.0 L539.9 828.2 L541.7 827.1 L543.5 826.0 L545.2 824.9 L547.0 823.6 L548.8 822.3 L550.5 821.2 L552.3 820.1 L554.1 818.8 L555.8 817.4 L557.6 816.2 L559.4 815.6 L561.2 815.1 L562.9 814.6 L564.7 814.1 L566.5 813.7 L568.2 813.4 L570.0 813.2 L571.8 813.0 L573.5 812.3 L575.3 811.5 L577.1 810.6 L578.8 810.0 L580.6 809.7 L582.4 809.9 L584.1 810.5 L585.9 811.3 L587.7 812.2 L589.5 812.9 L591.2 813.3 L593.0 813.7 L594.8 813.9 L596.5 814.1 L598.3 814.0 L600.1 813.8 L601.8 813.4 L603.6 813.0 L605.4 812.8 L607.1 812.8 L608.9 812.7 L610.7 812.7 L612.4 812.2 L614.2 811.7 L616.0 811.5 L617.8 811.4 L619.5 811.2 L621.3 811.0 L623.1 810.7 L624.8 810.0 L626.6 809.3 L628.4 808.8 L630.1 808.0 L631.9 807.1 L633.7 806.1 L635.4 804.9 L637.2 803.6 L639.0 802.1 L640.8 801.3 L642.5 800.5 L644.3 799.8 L646.1 799.1 L647.8 798.8 L649.6 798.7 L651.4 798.7 L653.1 798.7 L654.9 798.6 L656.7 798.6 L658.4 798.7 L660.2 798.5 L662.0 798.1 L663.7 797.4 L665.5 796.9 L667.3 796.6 L669.1 796.7 L670.8 796.8 L672.6 796.8 L674.4 796.7 L676.1 796.5 L677.9 796.4 L679.7 796.6 L681.4 796.9 L683.2 797.3 L685.0 797.6 L686.7 797.9 L688.5 797.6 L690.3 797.2 L692.0 796.9 L693.8 796.8 L695.6 796.9 L697.4 796.9 L699.1 796.9 L700.9 796.6 L702.7 796.0 L704.4 795.5 L706.2 795.3 L708.0 795.1 L709.7 794.6 L711.5 793.9 L713.3 793.0 L715.0 791.8 L716.8 790.3 L718.6 789.2 L720.4 788.3 L722.1 787.3 L723.9 786.7 L725.7 786.2 L727.4 785.2 L729.2 783.7 L731.0 781.9 L732.7 779.7 L734.5 777.2 L736.3 775.9 L738.0 774.6 L739.8 772.7 L741.6 770.0 L743.3 767.2 L745.1 764.4 L746.9 761.6 L748.7 759.3 L750.4 757.5 L752.2 755.7 L754.0 753.7 L755.7 751.9 L757.5 751.3 L759.3 750.3 L761.0 748.7 L762.8 746.6 L764.6 744.2 L766.3 741.4 L768.1 737.8 L769.9 733.6 L771.6 727.7 L773.4 723.0 L775.2 719.8 L777.0 717.1 L778.7 715.3 L780.5 715.1 L782.3 715.5 L784.0 715.4 L785.8 714.2 L787.6 711.9 L789.3 709.3 L791.1 708.3 L792.9 706.7 L794.6 705.5 L796.4 704.9 L798.2 704.6 L800.0 704.2 L801.7 703.9 L803.5 704.6 L805.3 705.9 L807.0 706.4 L808.8 707.8 L810.6 708.8 L812.3 709.3 L814.1 709.5 L815.9 708.6 L817.6 707.7 L819.4 706.8 L821.2 705.8 L822.9 704.5 L824.7 703.2 L826.5 702.6 L828.3 702.4 L830.0 702.0 L831.8 701.2 L833.6 701.2 L835.3 700.8 L837.1 700.1 L838.9 699.1 L840.6 697.8 L842.4 696.1 L844.2 694.1 L845.9 692.5 L847.7 692.3 L849.5 691.9 L851.2 691.4 L853.0 690.7 L854.8 689.7 L856.6 688.2 L858.3 686.6 L860.1 685.0 L861.9 683.7 L863.6 682.4 L865.4 681.9 L867.2 681.7 L868.9 681.7 L870.7 681.1 L872.5 681.6 L874.2 681.8 L876.0 682.0 L877.8 682.1 L879.5 681.7 L881.3 680.9 L883.1 680.1 L884.9 680.0 L886.6 679.6 L888.4 679.4 L890.2 679.5 L891.9 679.1 L893.7 677.9 L895.5 676.4 L897.2 674.3 L899.0 671.9 L900.8 669.4 L902.5 666.9 L904.3 664.1 L906.1 660.7 L907.9 657.0 L909.6 652.7 L911.4 649.0 L913.2 645.9 L914.9 642.9 L916.7 641.4 L918.5 639.2 L920.2 637.0 L922.0 634.4 L923.8 630.9 L925.5 626.4 L927.3 621.5 L929.1 616.9 L930.8 612.0 L932.6 607.5 L934.4 603.4 L936.2 599.5 L937.9 594.7 L939.7 589.3 L941.5 583.8 L943.2 579.2 L945.0 577.0 L946.8 574.6 L948.5 572.7 L950.3 571.0 L952.1 569.7 L953.8 569.5 L955.6 570.7 L957.4 570.2 L959.1 568.8 L960.9 567.3 L962.7 566.2 L964.5 566.1 L966.2 566.4 L968.0 565.5 L969.8 564.1 L971.5 562.1 L973.3 559.6 L975.1 557.8 L976.8 556.9 L978.6 557.3 L980.4 560.3 L982.1 564.1 L983.9 566.8 L985.7 569.2 L987.5 573.0 L989.2 575.1 L991.0 575.1 L992.8 575.0 L994.5 575.9 L996.3 577.8 L998.1 581.3 L999.8 585.8 L1001.6 590.8 L1003.4 594.7 L1005.1 597.5 L1006.9 598.5 L1008.7 599.5 L1010.4 600.7 L1012.2 600.5 L1014.0 599.5 L1015.8 597.9 L1017.5 595.9 L1019.3 595.1 L1021.1 594.7 L1022.8 592.5 L1024.6 589.2 L1026.4 585.3 L1028.1 580.6 L1029.9 575.8 L1031.7 572.5 L1033.4 570.2 L1035.2 567.4 L1037.0 565.1 L1038.7 563.7 L1040.5 563.3 L1042.3 563.7 L1044.1 564.8 L1045.8 563.9 L1047.6 563.6 L1049.4 562.6 L1051.1 560.8 L1052.9 558.3 L1054.7 555.4 L1056.4 553.7 L1058.2 552.7 L1060.0 551.9 L1061.7 551.1 L1063.5 550.6 L1065.3 550.8 L1067.1 550.0 L1068.8 549.0 L1070.6 547.9 L1072.4 547.1 L1074.1 546.1 L1075.9 545.1 L1077.7 543.7 L1079.4 541.3 L1081.2 538.6 L1083.0 536.1 L1084.7 533.9 L1086.5 530.9 L1088.3 527.3 L1090.0 524.0 L1091.8 520.9 L1093.6 518.4 L1095.4 513.7 L1097.1 508.5 L1098.9 502.6 L1100.7 496.3 L1102.4 491.2 L1104.2 488.2 L1106.0 485.6 L1107.7 483.5 L1109.5 481.8 L1111.3 478.7 L1113.0 476.4 L1114.8 475.3 L1116.6 475.3 L1118.3 475.1 L1120.1 473.8 L1121.9 471.9 L1123.7 470.5 L1125.4 468.0 L1127.2 467.2 L1129.0 466.3 L1130.7 465.2 L1132.5 463.2 L1134.3 460.6 L1136.0 459.0 L1137.8 456.5 L1139.6 453.3 L1141.3 449.1 L1143.1 445.1 L1144.9 443.0 L1146.7 440.0 L1148.4 436.8 L1150.2 433.0 L1152.0 428.9 L1153.7 425.5 L1155.5 423.5 L1157.3 422.1 L1159.0 421.3 L1160.8 420.9 L1162.6 420.8 L1164.3 419.5 L1166.1 417.9 L1167.9 416.0 L1169.6 413.9 L1171.4 411.8 L1173.2 409.2 L1175.0 406.0 L1176.7 402.1 L1178.5 397.4 L1180.3 392.0 L1182.0 387.1 L1183.8 384.2 L1185.6 379.4 L1187.3 374.3 L1189.1 370.5 L1190.9 367.6 L1192.6 364.4 L1194.4 359.6 L1196.2 356.3 L1197.9 353.6 L1199.7 350.7 L1201.5 346.9 L1203.3 345.4 L1205.0 344.3 L1206.8 343.8 L1208.6 343.3 L1210.3 342.3 L1212.1 340.6 L1213.9 338.2 L1215.6 335.3 L1217.4 332.1 L1219.2 329.4 L1220.9 326.9 L1222.7 324.4 L1224.5 320.9 L1226.2 316.9 L1228.0 312.6 L1229.8 307.4 L1231.6 301.4 L1233.3 297.6 L1235.1 294.4 L1236.9 290.7 L1238.6 286.7 L1240.4 283.2 L1242.2 279.8 L1243.9 277.0 L1245.7 275.4 L1247.5 274.6 L1249.2 271.3 L1251.0 266.9 L1252.8 262.2 L1254.6 256.5 L1256.3 248.2 L1258.1 237.4 L1259.9 225.5 L1261.6 214.7 L1263.4 203.4 L1265.2 194.5 L1266.9 187.9 L1268.7 185.9 L1270.5 186.1 L1272.2 185.6 L1274.0 184.8 L1275.8 183.2 L1277.5 179.4 L1279.3 175.1 L1281.1 171.1 L1282.9 169.2 L1284.6 167.8 L1286.4 165.7 L1288.2 166.6 L1289.9 169.6 L1291.7 172.4 L1293.5 176.2 L1295.2 177.6 L1297.0 177.6 L1298.8 175.6 L1300.5 172.6 L1302.3 170.4 L1304.1 168.6 L1305.8 166.2 L1307.6 163.1 L1309.4 162.0 L1311.2 161.9 L1312.9 163.0 L1314.7 164.1 L1316.5 165.7 L1318.2 167.1 L1320.0 167.9 L1321.8 168.9 L1323.5 169.8 L1325.3 171.9 L1327.1 175.7 L1328.8 178.5 L1330.6 182.2 L1332.4 183.2 L1334.2 184.8 L1335.9 186.8 L1337.7 189.4 L1339.5 191.2 L1341.2 193.1 L1343.0 194.6 L1344.8 196.2 L1346.5 196.6 L1348.3 197.5 L1350.1 197.2 L1351.8 196.1 L1353.6 193.9 L1355.4 191.0 L1357.1 186.5 L1358.9 181.6 L1360.7 176.9 L1362.5 172.5 L1364.2 168.3 L1366.0 165.5 L1367.8 163.9 L1369.5 163.0 L1371.3 163.0 L1373.1 161.6 L1374.8 160.3 L1376.6 157.9 L1378.4 157.0 L1380.1 157.1 L1381.9 157.9 L1383.7 159.5 L1385.4 161.1 L1387.2 162.5 L1389.0 163.4 L1390.8 163.9 L1392.5 164.9 L1394.3 165.6 L1396.1 166.8 L1397.8 169.3 L1399.6 172.7 L1401.4 176.3 L1403.1 179.4 L1404.9 181.8 L1406.7 183.5 L1408.4 185.6 L1410.2 188.1 L1412.0 193.9 L1413.8 201.7 L1415.5 207.7 L1417.3 212.7 L1419.1 219.3 L1420.8 227.5 L1422.6 234.3 L1424.4 240.5 L1426.1 246.1 L1427.9 252.1 L1429.7 260.6 L1431.4 270.4 L1433.2 280.2 L1435.0 287.4 L1436.7 292.9 L1438.5 296.6 L1440.3 300.7 L1442.1 302.7 L1443.8 303.8 L1445.6 304.3 L1447.4 305.0 L1449.1 306.6 L1450.9 309.3 L1452.7 312.0 L1454.4 314.3 L1456.2 317.4 L1458.0 321.3 L1459.7 323.2 L1461.5 323.8 L1463.3 325.7 L1465.0 328.8 L1466.8 332.1 L1468.6 336.2 L1470.4 339.9 L1472.1 343.8 L1473.9 347.8 L1475.7 352.3 L1477.4 356.0 L1479.2 358.8 L1481.0 360.8 L1482.7 362.5 L1484.5 363.5 L1486.3 365.4 L1488.0 365.7 L1489.8 364.8 L1491.6 363.5 L1493.4 362.1 L1495.1 360.2 L1496.9 357.5 L1498.7 356.5 L1500.4 356.8 L1502.2 356.5 L1504.0 356.3 L1505.7 356.7 L1507.5 357.0 L1509.3 357.5 L1511.0 357.7 L1512.8 358.0 L1514.6 358.9 L1516.3 360.8 L1518.1 362.4 L1519.9 362.5 L1521.7 361.8 L1523.4 361.0 L1525.2 359.8 L1527.0 358.3 L1528.7 357.8 L1530.5 357.4 L1532.3 357.2 L1534.0 357.6 L1535.8 357.6 L1537.6 358.4 L1539.3 358.9 L1541.1 360.5 L1542.9 363.3 L1544.6 366.2 L1546.4 368.8 L1548.2 372.6 L1550.0 374.6 L1551.7 375.9 L1553.5 377.4 L1555.3 381.0 L1557.0 383.8 L1558.8 386.1 L1560.6 387.8 L1562.3 390.9 L1564.1 392.4 L1565.9 392.7 L1567.6 394.1 L1569.4 395.5 L1571.2 397.0 L1572.9 396.8 L1574.7 394.5 L1576.5 392.0 L1578.3 390.1 L1580.0 390.0 L1581.8 390.6 L1583.6 392.0 L1585.3 392.7 L1587.1 394.9 L1588.9 397.6 L1590.6 399.1 L1592.4 400.0 L1594.2 400.6 L1595.9 401.0 L1597.7 401.6 L1599.5 402.9 L1601.3 404.3 L1603.0 405.4 L1604.8 404.6 L1606.6 405.1 L1608.3 406.0 L1610.1 407.3 L1611.9 407.9 L1613.6 408.2 L1615.4 409.2 L1617.2 410.6 L1618.9 412.5 L1620.7 415.3 L1622.5 418.6 L1624.2 422.0 L1626.0 425.1 L1627.8 426.7 L1629.6 426.7 L1631.3 427.8 L1633.1 429.5 L1634.9 431.5 L1636.6 432.2 L1638.4 432.5 L1640.2 433.1 L1641.9 432.5 L1643.7 431.6 L1645.5 431.6 L1647.2 432.3 L1649.0 434.3 L1650.8 436.9 L1652.5 439.7 L1654.3 443.0 L1656.1 444.7 L1657.9 447.1 L1659.6 449.5 L1661.4 451.3 L1663.2 453.5 L1664.9 454.1 L1666.7 455.0 L1668.5 455.3 L1670.2 454.4 L1672.0 451.3 L1673.8 446.6 L1675.5 442.8 L1677.3 439.2 L1679.1 434.6 L1680.9 430.5 L1682.6 427.1 L1684.4 425.0 L1686.2 422.5 L1687.9 420.1 L1689.7 418.1 L1691.5 415.9 L1693.2 411.8 L1695.0 408.1 L1696.8 405.4 L1698.5 403.9 L1700.3 403.8 L1702.1 402.4 L1703.8 399.8 L1705.6 396.6 L1707.4 392.9 L1709.2 388.6 L1710.9 383.5 L1712.7 379.5 L1714.5 376.9 L1716.2 373.5 L1718.0 370.8 L1719.8 368.4 L1721.5 366.0 L1723.3 364.6 L1725.1 363.1 L1726.8 361.8 L1728.6 361.1 L1730.4 359.3 L1732.1 358.4 L1733.9 359.4 L1735.7 361.3 L1737.5 362.7 L1739.2 363.2 L1741.0 362.9 L1742.8 365.5 L1744.5 368.5 L1746.3 372.2 L1748.1 375.8 L1749.8 379.8 L1751.6 384.6 L1753.4 389.0 L1755.1 392.6 L1756.9 395.2 L1758.7 396.6 L1760.5 397.2 L1762.2 398.5 L1764.0 398.7 L1765.8 398.1 L1767.5 397.4 L1769.3 396.2 L1771.1 396.5 L1772.8 397.2 L1774.6 396.6 L1776.4 395.7 L1778.1 394.9 L1779.9 394.0 L1781.7 391.7 L1783.4 389.8 L1785.2 388.5 L1787.0 388.8 L1788.8 389.3 L1790.5 388.7 L1792.3 387.6 L1794.1 386.2 L1795.8 385.3 L1797.6 385.0 L1799.4 384.9 L1801.1 385.3 L1802.9 386.7 L1804.7 387.3 L1806.4 386.9 L1808.2 385.8 L1810.0 385.0 L1811.7 383.4 L1813.5 382.0 L1815.3 380.3 L1817.1 377.6 L1818.8 374.3 L1820.6 372.1" fill="none" stroke="#f6b26b" stroke-width="1" stroke-linejoin="round" shape-rendering="crispEdges"/>
<path d="M64.1 860.8 L65.9 861.4 L67.6 862.3 L69.4 862.8 L71.2 863.0 L72.9 863.0 L74.7 863.1 L76.5 863.2 L78.2 863.3 L80.0 863.3 L81.8 863.4 L83.6 863.5 L85.3 863.8 L87.1 864.0 L88.9 864.3 L90.6 864.7 L92.4 864.9 L94.2 865.1 L95.9 865.4 L97.7 865.7 L99.5 865.9 L101.2 866.1 L103.0 866.3 L104.8 866.4 L106.6 866.5 L108.3 866.6 L110.1 866.7 L111.9 866.8 L113.6 867.1 L115.4 867.4 L117.2 867.8 L118.9 868.0 L120.7 868.2 L122.5 868.4 L124.2 868.6 L126.0 868.9 L127.8 869.4 L129.5 869.9 L131.3 870.6 L133.1 871.4 L134.9 872.1 L136.6 872.8 L138.4 873.3 L140.2 874.0 L141.9 874.7 L143.7 875.4 L145.5 876.1 L147.2 876.6 L149.0 877.1 L150.8 877.5 L152.5 878.0 L154.3 878.4 L156.1 878.9 L157.8 879.2 L159.6 879.4 L161.4 878.3 L163.2 876.7 L164.9 875.3 L166.7 874.2 L168.5 873.5 L170.2 873.0 L172.0 872.5 L173.8 872.1 L175.5 871.6 L177.3 871.6 L179.1 871.7 L180.8 871.6 L182.6 871.4 L184.4 871.3 L186.1 871.2 L187.9 871.1 L189.7 870.9 L191.5 870.7 L193.2 870.1 L195.0 869.3 L196.8 868.6 L198.5 868.3 L200.3 868.2 L202.1 868.2 L203.8 868.2 L205.6 868.3 L207.4 868.5 L209.1 868.8 L210.9 869.0 L212.7 869.1 L214.5 869.4 L216.2 869.7 L218.0 870.0 L219.8 870.3 L221.5 870.6 L223.3 870.7 L225.1 870.7 L226.8 870.5 L228.6 870.3 L230.4 870.3 L232.1 870.2 L233.9 870.3 L235.7 870.4 L237.4 870.6 L239.2 870.9 L241.0 871.2 L242.8 871.4 L244.5 871.7 L246.3 871.8 L248.1 872.1 L249.8 872.3 L251.6 872.4 L253.4 872.6 L255.1 872.8 L256.9 873.1 L258.7 873.4 L260.4 873.7 L262.2 874.2 L264.0 874.6 L265.7 874.9 L267.5 875.2 L269.3 875.3 L271.1 875.5 L272.8 875.6 L274.6 875.7 L276.4 875.8 L278.1 876.0 L279.9 876.2 L281.7 876.4 L283.4 876.7 L285.2 876.9 L287.0 877.2 L288.7 877.5 L290.5 877.9 L292.3 878.1 L294.1 878.0 L295.8 878.3 L297.6 878.5 L299.4 878.8 L301.1 879.0 L302.9 879.2 L304.7 879.3 L306.4 879.4 L308.2 879.4 L310.0 879.2 L311.7 878.6 L313.5 878.2 L315.3 878.4 L317.0 878.3 L318.8 878.1 L320.6 878.1 L322.4 878.0 L324.1 878.1 L325.9 878.2 L327.7 878.2 L329.4 878.2 L331.2 878.2 L333.0 878.0 L334.7 877.7 L336.5 877.4 L338.3 877.2 L340.0 876.9 L341.8 876.3 L343.6 875.7 L345.3 875.0 L347.1 874.4 L348.9 874.0 L350.7 873.9 L352.4 873.8 L354.2 873.7 L356.0 873.7 L357.7 873.7 L359.5 873.8 L361.3 874.0 L363.0 874.1 L364.8 874.1 L366.6 874.1 L368.3 874.1 L370.1 874.0 L371.9 873.7 L373.7 873.5 L375.4 873.2 L377.2 872.8 L379.0 872.2 L380.7 871.5 L382.5 871.0 L384.3 870.6 L386.0 870.2 L387.8 870.0 L389.6 869.7 L391.3 869.2 L393.1 868.7 L394.9 868.2 L396.6 867.7 L398.4 867.1 L400.2 866.4 L402.0 865.7 L403.7 865.1 L405.5 864.4 L407.3 863.5 L409.0 862.6 L410.8 861.9 L412.6 861.2 L414.3 860.6 L416.1 860.2 L417.9 859.9 L419.6 859.5 L421.4 859.1 L423.2 858.9 L424.9 858.7 L426.7 858.4 L428.5 858.1 L430.3 857.9 L432.0 857.7 L433.8 857.3 L435.6 856.9 L437.3 856.6 L439.1 856.3 L440.9 856.0 L442.6 855.9 L444.4 855.9 L446.2 855.6 L447.9 855.4 L449.7 855.2 L451.5 855.1 L453.3 854.9 L455.0 854.6 L456.8 854.1 L458.6 853.3 L460.3 852.4 L462.1 851.4 L463.9 850.3 L465.6 849.2 L467.4 847.9 L469.2 846.6 L470.9 845.3 L472.7 844.5 L474.5 844.0 L476.2 843.5 L478.0 843.0 L479.8 842.9 L481.6 842.9 L483.3 843.3 L485.1 843.7 L486.9 844.0 L488.6 844.4 L490.4 844.6 L492.2 844.6 L493.9 844.3 L495.7 843.7 L497.5 842.8 L499.2 841.8 L501.0 841.1 L502.8 840.5 L504.5 840.1 L506.3 839.9 L508.1 839.7 L509.9 839.5 L511.6 839.3 L513.4 839.0 L515.2 838.5 L516.9 838.3 L518.7 837.8 L520.5 837.3 L522.2 836.7 L524.0 835.9 L525.8 835.1 L527.5 834.3 L529.3 833.5 L531.1 832.9 L532.8 832.5 L534.6 832.0 L536.4 831.2 L538.2 830.3 L539.9 829.6 L541.7 828.6 L543.5 827.6 L545.2 826.5 L547.0 825.3 L548.8 824.2 L550.5 823.1 L552.3 822.0 L554.1 820.9 L555.8 819.5 L557.6 818.4 L559.4 817.8 L561.2 817.2 L562.9 816.7 L564.7 816.0 L566.5 815.6 L568.2 815.3 L570.0 815.0 L571.8 814.6 L573.5 814.0 L575.3 813.2 L577.1 812.4 L578.8 811.7 L580.6 811.4 L582.4 811.4 L584.1 811.8 L585.9 812.4 L587.7 813.1 L589.5 813.6 L591.2 813.9 L593.0 814.2 L594.8 814.4 L596.5 814.4 L598.3 814.4 L600.1 814.2 L601.8 813.8 L603.6 813.5 L605.4 813.3 L607.1 813.3 L608.9 813.2 L610.7 813.1 L612.4 812.7 L614.2 812.2 L616.0 812.0 L617.8 811.9 L619.5 811.7 L621.3 811.5 L623.1 811.2 L624.8 810.5 L626.6 810.0 L628.4 809.5 L630.1 808.8 L631.9 808.0 L633.7 807.1 L635.4 806.0 L637.2 804.8 L639.0 803.5 L640.8 802.7 L642.5 802.0 L644.3 801.3 L646.1 800.6 L647.8 800.3 L649.6 800.1 L651.4 800.0 L653.1 799.9 L654.9 799.8 L656.7 799.7 L658.4 799.7 L660.2 799.5 L662.0 799.1 L663.7 798.4 L665.5 797.9 L667.3 797.6 L669.1 797.6 L670.8 797.6 L672.6 797.6 L674.4 797.4 L676.1 797.2 L677.9 797.1 L679.7 797.2 L681.4 797.4 L683.2 797.7 L685.0 798.0 L686.7 798.2 L688.5 797.9 L690.3 797.6 L692.0 797.3 L693.8 797.2 L695.6 797.2 L697.4 797.2 L699.1 797.2 L700.9 796.9 L702.7 796.4 L704.4 795.9 L706.2 795.8 L708.0 795.5 L709.7 795.1 L711.5 794.5 L713.3 793.7 L715.0 792.6 L716.8 791.4 L718.6 790.3 L720.4 789.5 L722.1 788.6 L723.9 788.0 L725.7 787.5 L727.4 786.6 L729.2 785.2 L731.0 783.6 L732.7 781.6 L734.5 779.5 L736.3 778.2 L738.0 776.9 L739.8 775.2 L741.6 772.8 L743.3 770.2 L745.1 767.8 L746.9 765.2 L748.7 763.0 L750.4 761.2 L752.2 759.5 L754.0 757.6 L755.7 755.8 L757.5 755.1 L759.3 753.9 L761.0 752.4 L762.8 750.4 L764.6 748.1 L766.3 745.5 L768.1 742.3 L769.9 738.5 L771.6 733.2 L773.4 728.9 L775.2 725.9 L777.0 723.2 L778.7 721.3 L780.5 720.7 L782.3 720.7 L784.0 720.2 L785.8 718.9 L787.6 716.7 L789.3 714.2 L791.1 713.1 L792.9 711.5 L794.6 710.1 L796.4 709.3 L798.2 708.8 L800.0 708.1 L801.7 707.7 L803.5 708.0 L805.3 708.8 L807.0 709.1 L808.8 710.1 L810.6 710.8 L812.3 711.1 L814.1 711.1 L815.9 710.3 L817.6 709.4 L819.4 708.6 L821.2 707.6 L822.9 706.4 L824.7 705.2 L826.5 704.5 L828.3 704.2 L830.0 703.8 L831.8 703.0 L833.6 702.9 L835.3 702.4 L837.1 701.7 L838.9 700.8 L840.6 699.6 L842.4 698.0 L844.2 696.3 L845.9 694.8 L847.7 694.5 L849.5 694.0 L851.2 693.4 L853.0 692.7 L854.8 691.7 L856.6 690.4 L858.3 688.9 L860.1 687.4 L861.9 686.1 L863.6 684.9 L865.4 684.3 L867.2 684.0 L868.9 683.8 L870.7 683.2 L872.5 683.4 L874.2 683.5 L876.0 683.6 L877.8 683.6 L879.5 683.2 L881.3 682.4 L883.1 681.6 L884.9 681.4 L886.6 681.0 L888.4 680.8 L890.2 680.7 L891.9 680.4 L893.7 679.3 L895.5 677.9 L897.2 676.1 L899.0 673.9 L900.8 671.7 L902.5 669.5 L904.3 666.9 L906.1 663.9 L907.9 660.6 L909.6 656.7 L911.4 653.4 L913.2 650.5 L914.9 647.7 L916.7 646.1 L918.5 644.0 L920.2 641.8 L922.0 639.3 L923.8 636.1 L925.5 632.0 L927.3 627.5 L929.1 623.3 L930.8 618.7 L932.6 614.6 L934.4 610.6 L936.2 606.9 L937.9 602.4 L939.7 597.4 L941.5 592.2 L943.2 587.8 L945.0 585.4 L946.8 582.9 L948.5 580.8 L950.3 578.8 L952.1 577.2 L953.8 576.6 L955.6 577.1 L957.4 576.2 L959.1 574.7 L960.9 573.0 L962.7 571.8 L964.5 571.3 L966.2 571.3 L968.0 570.2 L969.8 568.7 L971.5 566.7 L973.3 564.3 L975.1 562.5 L976.8 561.5 L978.6 561.5 L980.4 563.7 L982.1 566.7 L983.9 568.8 L985.7 570.7 L987.5 573.8 L989.2 575.5 L991.0 575.4 L992.8 575.3 L994.5 576.1 L996.3 577.7 L998.1 580.6 L999.8 584.5 L1001.6 588.7 L1003.4 592.1 L1005.1 594.6 L1006.9 595.7 L1008.7 596.7 L1010.4 597.9 L1012.2 597.8 L1014.0 597.2 L1015.8 596.0 L1017.5 594.5 L1019.3 593.8 L1021.1 593.7 L1022.8 591.8 L1024.6 589.1 L1026.4 585.8 L1028.1 581.9 L1029.9 577.8 L1031.7 574.9 L1033.4 572.8 L1035.2 570.3 L1037.0 568.2 L1038.7 566.8 L1040.5 566.3 L1042.3 566.4 L1044.1 567.2 L1045.8 566.2 L1047.6 565.8 L1049.4 564.8 L1051.1 563.2 L1052.9 560.9 L1054.7 558.4 L1056.4 556.8 L1058.2 555.7 L1060.0 554.8 L1061.7 554.0 L1063.5 553.3 L1065.3 553.4 L1067.1 552.6 L1068.8 551.5 L1070.6 550.5 L1072.4 549.6 L1074.1 548.6 L1075.9 547.6 L1077.7 546.3 L1079.4 544.1 L1081.2 541.7 L1083.0 539.3 L1084.7 537.3 L1086.5 534.6 L1088.3 531.3 L1090.0 528.2 L1091.8 525.4 L1093.6 523.0 L1095.4 518.8 L1097.1 514.1 L1098.9 508.8 L1100.7 503.1 L1102.4 498.4 L1104.2 495.4 L1106.0 492.8 L1107.7 490.5 L1109.5 488.7 L1111.3 485.6 L1113.0 483.3 L1114.8 481.9 L1116.6 481.4 L1118.3 480.9 L1120.1 479.4 L1121.9 477.4 L1123.7 475.9 L1125.4 473.4 L1127.2 472.4 L1129.0 471.4 L1130.7 470.1 L1132.5 468.1 L1134.3 465.6 L1136.0 463.9 L1137.8 461.6 L1139.6 458.5 L1141.3 454.7 L1143.1 450.9 L1144.9 448.8 L1146.7 445.9 L1148.4 442.8 L1150.2 439.3 L1152.0 435.5 L1153.7 432.2 L1155.5 430.1 L1157.3 428.5 L1159.0 427.4 L1160.8 426.6 L1162.6 426.2 L1164.3 424.8 L1166.1 423.1 L1167.9 421.2 L1169.6 419.1 L1171.4 417.0 L1173.2 414.5 L1175.0 411.5 L1176.7 407.8 L1178.5 403.5 L1180.3 398.6 L1182.0 394.1 L1183.8 391.2 L1185.6 386.7 L1187.3 382.0 L1189.1 378.3 L1190.9 375.3 L1192.6 372.1 L1194.4 367.6 L1196.2 364.4 L1197.9 361.6 L1199.7 358.6 L1201.5 354.9 L1203.3 353.1 L1205.0 351.7 L1206.8 350.8 L1208.6 349.9 L1210.3 348.7 L1212.1 346.8 L1213.9 344.4 L1215.6 341.6 L1217.4 338.5 L1219.2 335.9 L1220.9 333.3 L1222.7 330.8 L1224.5 327.5 L1226.2 323.7 L1228.0 319.7 L1229.8 314.8 L1231.6 309.3 L1233.3 305.6 L1235.1 302.4 L1236.9 298.8 L1238.6 294.9 L1240.4 291.4 L1242.2 288.1 L1243.9 285.2 L1245.7 283.3 L1247.5 282.1 L1249.2 278.9 L1251.0 274.7 L1252.8 270.3 L1254.6 265.0 L1256.3 257.5 L1258.1 247.8 L1259.9 237.2 L1261.6 227.3 L1263.4 217.0 L1265.2 208.7 L1266.9 202.3 L1268.7 199.6 L1270.5 199.0 L1272.2 197.7 L1274.0 196.2 L1275.8 194.1 L1277.5 190.3 L1279.3 186.0 L1281.1 181.9 L1282.9 179.6 L1284.6 177.7 L1286.4 175.4 L1288.2 175.5 L1289.9 177.4 L1291.7 179.3 L1293.5 182.0 L1295.2 182.8 L1297.0 182.5 L1298.8 180.5 L1300.5 177.7 L1302.3 175.5 L1304.1 173.7 L1305.8 171.3 L1307.6 168.4 L1309.4 167.1 L1311.2 166.7 L1312.9 167.3 L1314.7 167.9 L1316.5 169.0 L1318.2 170.0 L1320.0 170.5 L1321.8 171.1 L1323.5 171.7 L1325.3 173.4 L1327.1 176.5 L1328.8 178.8 L1330.6 181.8 L1332.4 182.8 L1334.2 184.1 L1335.9 185.8 L1337.7 188.1 L1339.5 189.6 L1341.2 191.3 L1343.0 192.7 L1344.8 194.2 L1346.5 194.7 L1348.3 195.6 L1350.1 195.5 L1351.8 194.6 L1353.6 192.9 L1355.4 190.5 L1357.1 186.8 L1358.9 182.6 L1360.7 178.6 L1362.5 174.8 L1364.2 171.1 L1366.0 168.6 L1367.8 167.1 L1369.5 166.1 L1371.3 165.9 L1373.1 164.5 L1374.8 163.3 L1376.6 161.1 L1378.4 160.1 L1380.1 160.0 L1381.9 160.5 L1383.7 161.6 L1385.4 162.8 L1387.2 164.0 L1389.0 164.6 L1390.8 164.9 L1392.5 165.7 L1394.3 166.3 L1396.1 167.2 L1397.8 169.3 L1399.6 172.1 L1401.4 175.2 L1403.1 177.8 L1404.9 179.9 L1406.7 181.5 L1408.4 183.4 L1410.2 185.6 L1412.0 190.6 L1413.8 197.4 L1415.5 202.7 L1417.3 207.2 L1419.1 213.1 L1420.8 220.4 L1422.6 226.6 L1424.4 232.3 L1426.1 237.5 L1427.9 243.1 L1429.7 250.7 L1431.4 259.6 L1433.2 268.6 L1435.0 275.3 L1436.7 280.7 L1438.5 284.6 L1440.3 288.9 L1442.1 291.3 L1443.8 292.9 L1445.6 294.1 L1447.4 295.3 L1449.1 297.3 L1450.9 300.2 L1452.7 303.0 L1454.4 305.5 L1456.2 308.7 L1458.0 312.5 L1459.7 314.7 L1461.5 315.7 L1463.3 317.8 L1465.0 320.9 L1466.8 324.2 L1468.6 328.2 L1470.4 331.8 L1472.1 335.6 L1473.9 339.5 L1475.7 343.8 L1477.4 347.5 L1479.2 350.3 L1481.0 352.5 L1482.7 354.5 L1484.5 355.8 L1486.3 357.9 L1488.0 358.7 L1489.8 358.4 L1491.6 357.7 L1493.4 356.9 L1495.1 355.7 L1496.9 353.6 L1498.7 353.1 L1500.4 353.6 L1502.2 353.5 L1504.0 353.5 L1505.7 354.0 L1507.5 354.5 L1509.3 355.1 L1511.0 355.4 L1512.8 355.8 L1514.6 356.7 L1516.3 358.4 L1518.1 359.9 L1519.9 360.1 L1521.7 359.7 L1523.4 359.2 L1525.2 358.3 L1527.0 357.1 L1528.7 356.8 L1530.5 356.5 L1532.3 356.4 L1534.0 356.8 L1535.8 356.8 L1537.6 357.6 L1539.3 358.0 L1541.1 359.4 L1542.9 361.8 L1544.6 364.4 L1546.4 366.7 L1548.2 370.0 L1550.0 371.8 L1551.7 373.1 L1553.5 374.5 L1555.3 377.7 L1557.0 380.3 L1558.8 382.5 L1560.6 384.1 L1562.3 386.9 L1564.1 388.4 L1565.9 389.0 L1567.6 390.4 L1569.4 391.8 L1571.2 393.3 L1572.9 393.3 L1574.7 391.7 L1576.5 389.8 L1578.3 388.3 L1580.0 388.4 L1581.8 389.0 L1583.6 390.2 L1585.3 390.9 L1587.1 392.9 L1588.9 395.3 L1590.6 396.7 L1592.4 397.6 L1594.2 398.2 L1595.9 398.8 L1597.7 399.4 L1599.5 400.6 L1601.3 402.0 L1603.0 403.0 L1604.8 402.5 L1606.6 403.1 L1608.3 404.0 L1610.1 405.2 L1611.9 405.8 L1613.6 406.2 L1615.4 407.2 L1617.2 408.5 L1618.9 410.2 L1620.7 412.7 L1622.5 415.6 L1624.2 418.7 L1626.0 421.5 L1627.8 423.0 L1629.6 423.3 L1631.3 424.4 L1633.1 426.1 L1634.9 428.0 L1636.6 428.8 L1638.4 429.2 L1640.2 430.0 L1641.9 429.7 L1643.7 429.1 L1645.5 429.2 L1647.2 430.0 L1649.0 431.8 L1650.8 434.1 L1652.5 436.7 L1654.3 439.7 L1656.1 441.3 L1657.9 443.5 L1659.6 445.7 L1661.4 447.5 L1663.2 449.6 L1664.9 450.3 L1666.7 451.3 L1668.5 451.9 L1670.2 451.3 L1672.0 448.9 L1673.8 445.1 L1675.5 442.1 L1677.3 439.1 L1679.1 435.2 L1680.9 431.8 L1682.6 428.8 L1684.4 426.9 L1686.2 424.7 L1687.9 422.6 L1689.7 420.7 L1691.5 418.7 L1693.2 415.1 L1695.0 411.8 L1696.8 409.3 L1698.5 407.8 L1700.3 407.4 L1702.1 406.0 L1703.8 403.6 L1705.6 400.7 L1707.4 397.3 L1709.2 393.4 L1710.9 388.9 L1712.7 385.1 L1714.5 382.6 L1716.2 379.3 L1718.0 376.7 L1719.8 374.3 L1721.5 371.9 L1723.3 370.3 L1725.1 368.7 L1726.8 367.3 L1728.6 366.3 L1730.4 364.5 L1732.1 363.4 L1733.9 363.9 L1735.7 365.2 L1737.5 366.1 L1739.2 366.3 L1741.0 365.9 L1742.8 367.8 L1744.5 370.3 L1746.3 373.2 L1748.1 376.2 L1749.8 379.5 L1751.6 383.5 L1753.4 387.3 L1755.1 390.4 L1756.9 392.7 L1758.7 394.1 L1760.5 394.7 L1762.2 396.0 L1764.0 396.4 L1765.8 396.0 L1767.5 395.6 L1769.3 394.6 L1771.1 395.0 L1772.8 395.7 L1774.6 395.3 L1776.4 394.6 L1778.1 394.0 L1779.9 393.3 L1781.7 391.4 L1783.4 389.9 L1785.2 388.7 L1787.0 389.0 L1788.8 389.4 L1790.5 388.9 L1792.3 388.0 L1794.1 386.8 L1795.8 386.0 L1797.6 385.7 L1799.4 385.5 L1801.1 385.8 L1802.9 387.0 L1804.7 387.5 L1806.4 387.1 L1808.2 386.2 L1810.0 385.4 L1811.7 384.1 L1813.5 382.9 L1815.3 381.4 L1817.1 379.1 L1818.8 376.2 L1820.6 374.3" fill="none" stroke="#f5a142" stroke-width="1" stroke-linejoin="round" shape-rendering="crispEdges"/>
<path d="M72.9 862.0 L74.7 862.1 L76.5 862.3 L78.2 862.4 L80.0 862.5 L81.8 862.6 L83.6 862.7 L85.3 863.0 L87.1 863.3 L88.9 863.6 L90.6 863.9 L92.4 864.2 L94.2 864.4 L95.9 864.6 L97.7 864.9 L99.5 865.2 L101.2 865.4 L103.0 865.5 L104.8 865.7 L106.6 865.8 L108.3 866.0 L110.1 866.1 L111.9 866.2 L113.6 866.5 L115.4 866.8 L117.2 867.1 L118.9 867.4 L120.7 867.6 L122.5 867.8 L124.2 868.0 L126.0 868.3 L127.8 868.7 L129.5 869.2 L131.3 869.9 L133.1 870.5 L134.9 871.2 L136.6 871.9 L138.4 872.4 L140.2 873.0 L141.9 873.7 L143.7 874.4 L145.5 875.0 L147.2 875.5 L149.0 876.0 L150.8 876.4 L152.5 876.9 L154.3 877.3 L156.1 877.8 L157.8 878.1 L159.6 878.3 L161.4 877.5 L163.2 876.1 L164.9 874.9 L166.7 874.0 L168.5 873.4 L170.2 873.0 L172.0 872.6 L173.8 872.2 L175.5 871.8 L177.3 871.7 L179.1 871.8 L180.8 871.8 L182.6 871.6 L184.4 871.4 L186.1 871.4 L187.9 871.3 L189.7 871.1 L191.5 870.9 L193.2 870.4 L195.0 869.7 L196.8 869.1 L198.5 868.7 L200.3 868.7 L202.1 868.6 L203.8 868.6 L205.6 868.7 L207.4 868.9 L209.1 869.1 L210.9 869.2 L212.7 869.3 L214.5 869.5 L216.2 869.8 L218.0 870.1 L219.8 870.3 L221.5 870.6 L223.3 870.7 L225.1 870.6 L226.8 870.5 L228.6 870.3 L230.4 870.3 L232.1 870.3 L233.9 870.3 L235.7 870.4 L237.4 870.6 L239.2 870.8 L241.0 871.1 L242.8 871.3 L244.5 871.5 L246.3 871.7 L248.1 871.9 L249.8 872.0 L251.6 872.2 L253.4 872.4 L255.1 872.6 L256.9 872.8 L258.7 873.1 L260.4 873.4 L262.2 873.8 L264.0 874.2 L265.7 874.5 L267.5 874.7 L269.3 874.9 L271.1 875.1 L272.8 875.2 L274.6 875.3 L276.4 875.4 L278.1 875.6 L279.9 875.8 L281.7 876.0 L283.4 876.2 L285.2 876.4 L287.0 876.7 L288.7 877.1 L290.5 877.4 L292.3 877.6 L294.1 877.6 L295.8 877.8 L297.6 878.1 L299.4 878.3 L301.1 878.5 L302.9 878.7 L304.7 878.9 L306.4 878.9 L308.2 879.0 L310.0 878.8 L311.7 878.4 L313.5 878.0 L315.3 878.1 L317.0 878.1 L318.8 878.0 L320.6 877.9 L322.4 877.9 L324.1 878.0 L325.9 878.0 L327.7 878.1 L329.4 878.1 L331.2 878.0 L333.0 877.9 L334.7 877.6 L336.5 877.4 L338.3 877.3 L340.0 877.0 L341.8 876.5 L343.6 875.9 L345.3 875.3 L347.1 874.8 L348.9 874.4 L350.7 874.3 L352.4 874.2 L354.2 874.1 L356.0 874.0 L357.7 874.1 L359.5 874.1 L361.3 874.3 L363.0 874.3 L364.8 874.4 L366.6 874.3 L368.3 874.3 L370.1 874.2 L371.9 873.9 L373.7 873.7 L375.4 873.5 L377.2 873.2 L379.0 872.5 L380.7 871.9 L382.5 871.5 L384.3 871.1 L386.0 870.7 L387.8 870.6 L389.6 870.2 L391.3 869.8 L393.1 869.3 L394.9 868.8 L396.6 868.4 L398.4 867.9 L400.2 867.2 L402.0 866.6 L403.7 866.0 L405.5 865.3 L407.3 864.5 L409.0 863.7 L410.8 863.0 L412.6 862.3 L414.3 861.8 L416.1 861.4 L417.9 861.1 L419.6 860.6 L421.4 860.3 L423.2 860.0 L424.9 859.7 L426.7 859.4 L428.5 859.1 L430.3 858.9 L432.0 858.6 L433.8 858.3 L435.6 857.9 L437.3 857.6 L439.1 857.2 L440.9 857.0 L442.6 856.8 L444.4 856.7 L446.2 856.5 L447.9 856.2 L449.7 856.0 L451.5 855.8 L453.3 855.6 L455.0 855.3 L456.8 854.8 L458.6 854.2 L460.3 853.3 L462.1 852.4 L463.9 851.4 L465.6 850.4 L467.4 849.2 L469.2 848.0 L470.9 846.9 L472.7 846.1 L474.5 845.5 L476.2 845.0 L478.0 844.5 L479.8 844.3 L481.6 844.3 L483.3 844.5 L485.1 844.8 L486.9 845.0 L488.6 845.2 L490.4 845.4 L492.2 845.4 L493.9 845.1 L495.7 844.5 L497.5 843.7 L499.2 842.8 L501.0 842.1 L502.8 841.6 L504.5 841.2 L506.3 840.9 L508.1 840.6 L509.9 840.4 L511.6 840.3 L513.4 839.9 L515.2 839.5 L516.9 839.2 L518.7 838.8 L520.5 838.3 L522.2 837.7 L524.0 837.0 L525.8 836.2 L527.5 835.5 L529.3 834.7 L531.1 834.1 L532.8 833.7 L534.6 833.2 L536.4 832.4 L538.2 831.6 L539.9 830.9 L541.7 830.0 L543.5 829.0 L545.2 828.0 L547.0 826.9 L548.8 825.9 L550.5 824.8 L552.3 823.8 L554.1 822.7 L555.8 821.4 L557.6 820.4 L559.4 819.7 L561.2 819.1 L562.9 818.5 L564.7 817.9 L566.5 817.4 L568.2 817.1 L570.0 816.7 L571.8 816.3 L573.5 815.6 L575.3 814.9 L577.1 814.1 L578.8 813.4 L580.6 813.1 L582.4 813.0 L584.1 813.2 L585.9 813.7 L587.7 814.2 L589.5 814.6 L591.2 814.8 L593.0 815.0 L594.8 815.1 L596.5 815.1 L598.3 815.0 L600.1 814.8 L601.8 814.5 L603.6 814.1 L605.4 813.9 L607.1 813.9 L608.9 813.8 L610.7 813.6 L612.4 813.3 L614.2 812.8 L616.0 812.6 L617.8 812.5 L619.5 812.3 L621.3 812.1 L623.1 811.8 L624.8 811.2 L626.6 810.7 L628.4 810.2 L630.1 809.6 L631.9 808.8 L633.7 808.0 L635.4 807.1 L637.2 806.0 L639.0 804.8 L640.8 804.0 L642.5 803.3 L644.3 802.6 L646.1 802.0 L647.8 801.6 L649.6 801.4 L651.4 801.2 L653.1 801.1 L654.9 800.9 L656.7 800.8 L658.4 800.7 L660.2 800.5 L662.0 800.1 L663.7 799.5 L665.5 798.9 L667.3 798.7 L669.1 798.6 L670.8 798.5 L672.6 798.5 L674.4 798.3 L676.1 798.0 L677.9 797.9 L679.7 797.9 L681.4 798.1 L683.2 798.3 L685.0 798.5 L686.7 798.6 L688.5 798.4 L690.3 798.1 L692.0 797.8 L693.8 797.7 L695.6 797.7 L697.4 797.7 L699.1 797.6 L700.9 797.4 L702.7 796.9 L704.4 796.4 L706.2 796.3 L708.0 796.1 L709.7 795.7 L711.5 795.1 L713.3 794.4 L715.0 793.4 L716.8 792.3 L718.6 791.3 L720.4 790.6 L722.1 789.7 L723.9 789.2 L725.7 788.7 L727.4 787.8 L729.2 786.6 L731.0 785.1 L732.7 783.3 L734.5 781.4 L736.3 780.2 L738.0 779.0 L739.8 777.3 L741.6 775.2 L743.3 772.8 L745.1 770.6 L746.9 768.2 L748.7 766.1 L750.4 764.4 L752.2 762.8 L754.0 761.0 L755.7 759.2 L757.5 758.4 L759.3 757.2 L761.0 755.7 L762.8 753.8 L764.6 751.7 L766.3 749.2 L768.1 746.2 L769.9 742.7 L771.6 737.9 L773.4 734.0 L775.2 731.1 L777.0 728.5 L778.7 726.5 L780.5 725.8 L782.3 725.5 L784.0 724.8 L785.8 723.4 L787.6 721.3 L789.3 718.9 L791.1 717.6 L792.9 716.0 L794.6 714.6 L796.4 713.6 L798.2 712.9 L800.0 712.2 L801.7 711.5 L803.5 711.6 L805.3 712.1 L807.0 712.2 L808.8 712.9 L810.6 713.3 L812.3 713.4 L814.1 713.3 L815.9 712.5 L817.6 711.6 L819.4 710.7 L821.2 709.8 L822.9 708.7 L824.7 707.4 L826.5 706.8 L828.3 706.4 L830.0 705.9 L831.8 705.1 L833.6 704.9 L835.3 704.4 L837.1 703.7 L838.9 702.8 L840.6 701.6 L842.4 700.2 L844.2 698.5 L845.9 697.1 L847.7 696.7 L849.5 696.2 L851.2 695.6 L853.0 694.8 L854.8 693.9 L856.6 692.6 L858.3 691.2 L860.1 689.7 L861.9 688.6 L863.6 687.4 L865.4 686.7 L867.2 686.3 L868.9 686.0 L870.7 685.4 L872.5 685.5 L874.2 685.4 L876.0 685.4 L877.8 685.3 L879.5 684.8 L881.3 684.1 L883.1 683.3 L884.9 683.0 L886.6 682.6 L888.4 682.3 L890.2 682.2 L891.9 681.8 L893.7 680.8 L895.5 679.5 L897.2 677.8 L899.0 675.9 L900.8 673.8 L902.5 671.8 L904.3 669.5 L906.1 666.8 L907.9 663.7 L909.6 660.2 L911.4 657.1 L913.2 654.5 L914.9 651.8 L916.7 650.3 L918.5 648.2 L920.2 646.1 L922.0 643.7 L923.8 640.7 L925.5 636.9 L927.3 632.8 L929.1 628.8 L930.8 624.6 L932.6 620.7 L934.4 616.9 L936.2 613.4 L937.9 609.2 L939.7 604.5 L941.5 599.6 L943.2 595.4 L945.0 592.9 L946.8 590.3 L948.5 588.1 L950.3 586.0 L952.1 584.2 L953.8 583.3 L955.6 583.4 L957.4 582.3 L959.1 580.6 L960.9 578.9 L962.7 577.4 L964.5 576.8 L966.2 576.4 L968.0 575.2 L969.8 573.6 L971.5 571.7 L973.3 569.3 L975.1 567.5 L976.8 566.3 L978.6 566.0 L980.4 567.7 L982.1 570.0 L983.9 571.6 L985.7 573.2 L987.5 575.7 L989.2 577.0 L991.0 576.9 L992.8 576.7 L994.5 577.3 L996.3 578.6 L998.1 581.1 L999.8 584.4 L1001.6 588.1 L1003.4 591.0 L1005.1 593.2 L1006.9 594.2 L1008.7 595.2 L1010.4 596.3 L1012.2 596.3 L1014.0 595.9 L1015.8 594.9 L1017.5 593.7 L1019.3 593.2 L1021.1 593.0 L1022.8 591.5 L1024.6 589.2 L1026.4 586.4 L1028.1 582.9 L1029.9 579.3 L1031.7 576.8 L1033.4 574.8 L1035.2 572.6 L1037.0 570.6 L1038.7 569.3 L1040.5 568.7 L1042.3 568.7 L1044.1 569.2 L1045.8 568.3 L1047.6 567.9 L1049.4 566.9 L1051.1 565.4 L1052.9 563.3 L1054.7 560.9 L1056.4 559.4 L1058.2 558.4 L1060.0 557.5 L1061.7 556.6 L1063.5 555.9 L1065.3 555.8 L1067.1 554.9 L1068.8 553.9 L1070.6 552.9 L1072.4 552.0 L1074.1 551.0 L1075.9 550.0 L1077.7 548.7 L1079.4 546.7 L1081.2 544.5 L1083.0 542.3 L1084.7 540.4 L1086.5 537.9 L1088.3 534.9 L1090.0 532.0 L1091.8 529.4 L1093.6 527.1 L1095.4 523.3 L1097.1 518.9 L1098.9 514.1 L1100.7 508.9 L1102.4 504.5 L1104.2 501.6 L1106.0 499.0 L1107.7 496.7 L1109.5 494.8 L1111.3 491.8 L1113.0 489.5 L1114.8 487.9 L1116.6 487.2 L1118.3 486.4 L1120.1 484.8 L1121.9 482.8 L1123.7 481.2 L1125.4 478.8 L1127.2 477.6 L1129.0 476.4 L1130.7 475.1 L1132.5 473.0 L1134.3 470.6 L1136.0 468.9 L1137.8 466.6 L1139.6 463.7 L1141.3 460.1 L1143.1 456.6 L1144.9 454.4 L1146.7 451.6 L1148.4 448.6 L1150.2 445.3 L1152.0 441.7 L1153.7 438.5 L1155.5 436.3 L1157.3 434.6 L1159.0 433.3 L1160.8 432.3 L1162.6 431.6 L1164.3 430.1 L1166.1 428.4 L1167.9 426.4 L1169.6 424.3 L1171.4 422.2 L1173.2 419.8 L1175.0 416.9 L1176.7 413.5 L1178.5 409.4 L1180.3 404.9 L1182.0 400.6 L1183.8 397.8 L1185.6 393.5 L1187.3 389.1 L1189.1 385.5 L1190.9 382.6 L1192.6 379.4 L1194.4 375.1 L1196.2 371.9 L1197.9 369.1 L1199.7 366.1 L1201.5 362.5 L1203.3 360.5 L1205.0 358.9 L1206.8 357.7 L1208.6 356.6 L1210.3 355.2 L1212.1 353.2 L1213.9 350.8 L1215.6 348.0 L1217.4 345.0 L1219.2 342.3 L1220.9 339.8 L1222.7 337.2 L1224.5 334.0 L1226.2 330.4 L1228.0 326.6 L1229.8 322.0 L1231.6 316.9 L1233.3 313.3 L1235.1 310.1 L1236.9 306.5 L1238.6 302.8 L1240.4 299.3 L1242.2 296.0 L1243.9 293.1 L1245.7 291.0 L1247.5 289.6 L1249.2 286.4 L1251.0 282.4 L1252.8 278.1 L1254.6 273.1 L1256.3 266.2 L1258.1 257.4 L1259.9 247.7 L1261.6 238.7 L1263.4 229.2 L1265.2 221.3 L1266.9 215.1 L1268.7 212.1 L1270.5 210.8 L1272.2 209.0 L1274.0 207.1 L1275.8 204.8 L1277.5 200.8 L1279.3 196.6 L1281.1 192.5 L1282.9 189.9 L1284.6 187.7 L1286.4 185.1 L1288.2 184.7 L1289.9 185.8 L1291.7 187.0 L1293.5 188.9 L1295.2 189.2 L1297.0 188.6 L1298.8 186.5 L1300.5 183.8 L1302.3 181.5 L1304.1 179.6 L1305.8 177.3 L1307.6 174.4 L1309.4 173.0 L1311.2 172.3 L1312.9 172.5 L1314.7 172.8 L1316.5 173.4 L1318.2 174.0 L1320.0 174.2 L1321.8 174.6 L1323.5 174.9 L1325.3 176.2 L1327.1 178.7 L1328.8 180.6 L1330.6 183.1 L1332.4 183.8 L1334.2 184.9 L1335.9 186.3 L1337.7 188.2 L1339.5 189.6 L1341.2 191.0 L1343.0 192.3 L1344.8 193.6 L1346.5 194.0 L1348.3 194.8 L1350.1 194.7 L1351.8 194.0 L1353.6 192.6 L1355.4 190.5 L1357.1 187.3 L1358.9 183.7 L1360.7 180.2 L1362.5 176.9 L1364.2 173.6 L1366.0 171.3 L1367.8 169.8 L1369.5 168.8 L1371.3 168.5 L1373.1 167.1 L1374.8 165.9 L1376.6 163.9 L1378.4 162.9 L1380.1 162.7 L1381.9 162.9 L1383.7 163.8 L1385.4 164.7 L1387.2 165.6 L1389.0 166.0 L1390.8 166.2 L1392.5 166.8 L1394.3 167.2 L1396.1 168.0 L1397.8 169.7 L1399.6 172.2 L1401.4 174.8 L1403.1 177.1 L1404.9 179.0 L1406.7 180.3 L1408.4 182.1 L1410.2 184.1 L1412.0 188.5 L1413.8 194.4 L1415.5 199.1 L1417.3 203.2 L1419.1 208.5 L1420.8 215.0 L1422.6 220.6 L1424.4 225.9 L1426.1 230.8 L1427.9 235.9 L1429.7 242.9 L1431.4 251.0 L1433.2 259.2 L1435.0 265.5 L1436.7 270.7 L1438.5 274.6 L1440.3 278.8 L1442.1 281.5 L1443.8 283.4 L1445.6 285.0 L1447.4 286.5 L1449.1 288.7 L1450.9 291.7 L1452.7 294.6 L1454.4 297.2 L1456.2 300.4 L1458.0 304.1 L1459.7 306.5 L1461.5 307.8 L1463.3 310.1 L1465.0 313.2 L1466.8 316.4 L1468.6 320.3 L1470.4 323.8 L1472.1 327.6 L1473.9 331.3 L1475.7 335.5 L1477.4 339.1 L1479.2 342.1 L1481.0 344.4 L1482.7 346.6 L1484.5 348.2 L1486.3 350.4 L1488.0 351.5 L1489.8 351.6 L1491.6 351.4 L1493.4 351.0 L1495.1 350.3 L1496.9 348.9 L1498.7 348.7 L1500.4 349.3 L1502.2 349.5 L1504.0 349.8 L1505.7 350.4 L1507.5 351.0 L1509.3 351.7 L1511.0 352.1 L1512.8 352.7 L1514.6 353.6 L1516.3 355.2 L1518.1 356.7 L1519.9 357.1 L1521.7 356.9 L1523.4 356.6 L1525.2 356.0 L1527.0 355.1 L1528.7 354.9 L1530.5 354.8 L1532.3 354.8 L1534.0 355.2 L1535.8 355.3 L1537.6 356.1 L1539.3 356.5 L1541.1 357.8 L1542.9 360.0 L1544.6 362.3 L1546.4 364.4 L1548.2 367.4 L1550.0 369.1 L1551.7 370.3 L1553.5 371.7 L1555.3 374.6 L1557.0 377.1 L1558.8 379.1 L1560.6 380.7 L1562.3 383.3 L1564.1 384.8 L1565.9 385.4 L1567.6 386.8 L1569.4 388.3 L1571.2 389.8 L1572.9 390.0 L1574.7 388.7 L1576.5 387.3 L1578.3 386.1 L1580.0 386.3 L1581.8 386.9 L1583.6 388.1 L1585.3 388.8 L1587.1 390.6 L1588.9 392.9 L1590.6 394.2 L1592.4 395.1 L1594.2 395.8 L1595.9 396.4 L1597.7 397.1 L1599.5 398.3 L1601.3 399.6 L1603.0 400.6 L1604.8 400.3 L1606.6 400.9 L1608.3 401.8 L1610.1 403.0 L1611.9 403.6 L1613.6 404.1 L1615.4 405.1 L1617.2 406.3 L1618.9 407.9 L1620.7 410.1 L1622.5 412.8 L1624.2 415.6 L1626.0 418.2 L1627.8 419.7 L1629.6 420.1 L1631.3 421.2 L1633.1 422.9 L1634.9 424.7 L1636.6 425.6 L1638.4 426.1 L1640.2 427.0 L1641.9 426.9 L1643.7 426.5 L1645.5 426.8 L1647.2 427.6 L1649.0 429.3 L1650.8 431.4 L1652.5 433.8 L1654.3 436.5 L1656.1 438.1 L1657.9 440.1 L1659.6 442.3 L1661.4 444.0 L1663.2 446.0 L1664.9 446.8 L1666.7 447.9 L1668.5 448.5 L1670.2 448.2 L1672.0 446.3 L1673.8 443.2 L1675.5 440.7 L1677.3 438.2 L1679.1 434.9 L1680.9 432.0 L1682.6 429.4 L1684.4 427.7 L1686.2 425.8 L1687.9 423.9 L1689.7 422.2 L1691.5 420.4 L1693.2 417.2 L1695.0 414.2 L1696.8 412.0 L1698.5 410.5 L1700.3 410.0 L1702.1 408.7 L1703.8 406.5 L1705.6 403.8 L1707.4 400.7 L1709.2 397.1 L1710.9 393.0 L1712.7 389.6 L1714.5 387.1 L1716.2 384.1 L1718.0 381.6 L1719.8 379.2 L1721.5 376.9 L1723.3 375.3 L1725.1 373.6 L1726.8 372.1 L1728.6 371.0 L1730.4 369.2 L1732.1 368.0 L1733.9 368.1 L1735.7 369.1 L1737.5 369.6 L1739.2 369.6 L1741.0 369.1 L1742.8 370.5 L1744.5 372.5 L1746.3 374.9 L1748.1 377.4 L1749.8 380.2 L1751.6 383.6 L1753.4 386.8 L1755.1 389.5 L1756.9 391.6 L1758.7 392.8 L1760.5 393.4 L1762.2 394.6 L1764.0 395.0 L1765.8 394.7 L1767.5 394.4 L1769.3 393.7 L1771.1 394.1 L1772.8 394.7 L1774.6 394.4 L1776.4 393.9 L1778.1 393.4 L1779.9 392.8 L1781.7 391.2 L1783.4 389.9 L1785.2 388.9 L1787.0 389.1 L1788.8 389.5 L1790.5 389.0 L1792.3 388.2 L1794.1 387.2 L1795.8 386.5 L1797.6 386.2 L1799.4 386.0 L1801.1 386.3 L1802.9 387.2 L1804.7 387.7 L1806.4 387.3 L1808.2 386.5 L1810.0 385.9 L1811.7 384.7 L1813.5 383.6 L1815.3 382.3 L1817.1 380.3 L1818.8 377.7 L1820.6 375.9" fill="none" stroke="#f07a4a" stroke-width="1" stroke-linejoin="round" shape-rendering="crispEdges"/>
<path d="M81.8 862.3 L83.6 862.4 L85.3 862.7 L87.1 862.9 L88.9 863.2 L90.6 863.5 L92.4 863.8 L94.2 864.0 L95.9 864.2 L97.7 864.5 L99.5 864.7 L101.2 864.9 L103.0 865.1 L104.8 865.3 L106.6 865.4 L108.3 865.6 L110.1 865.7 L111.9 865.8 L113.6 866.1 L115.4 866.3 L117.2 866.7 L118.9 866.9 L120.7 867.1 L122.5 867.3 L124.2 867.5 L126.0 867.8 L127.8 868.2 L129.5 868.7 L131.3 869.3 L133.1 869.9 L134.9 870.5 L136.6 871.1 L138.4 871.6 L140.2 872.2 L141.9 872.8 L143.7 873.5 L145.5 874.0 L147.2 874.6 L149.0 875.0 L150.8 875.4 L152.5 875.9 L154.3 876.3 L156.1 876.8 L157.8 877.2 L159.6 877.4 L161.4 876.7 L163.2 875.5 L164.9 874.5 L166.7 873.7 L168.5 873.2 L170.2 872.9 L172.0 872.5 L173.8 872.1 L175.5 871.8 L177.3 871.7 L179.1 871.8 L180.8 871.8 L182.6 871.6 L184.4 871.5 L186.1 871.4 L187.9 871.3 L189.7 871.2 L191.5 871.0 L193.2 870.5 L195.0 869.9 L196.8 869.4 L198.5 869.1 L200.3 869.0 L202.1 868.9 L203.8 868.9 L205.6 868.9 L207.4 869.1 L209.1 869.3 L210.9 869.4 L212.7 869.5 L214.5 869.6 L216.2 869.9 L218.0 870.1 L219.8 870.3 L221.5 870.6 L223.3 870.6 L225.1 870.6 L226.8 870.5 L228.6 870.4 L230.4 870.3 L232.1 870.3 L233.9 870.3 L235.7 870.4 L237.4 870.6 L239.2 870.8 L241.0 871.0 L242.8 871.2 L244.5 871.4 L246.3 871.5 L248.1 871.7 L249.8 871.9 L251.6 872.0 L253.4 872.2 L255.1 872.4 L256.9 872.6 L258.7 872.8 L260.4 873.1 L262.2 873.5 L264.0 873.8 L265.7 874.1 L267.5 874.4 L269.3 874.5 L271.1 874.7 L272.8 874.8 L274.6 874.9 L276.4 875.1 L278.1 875.2 L279.9 875.4 L281.7 875.6 L283.4 875.8 L285.2 876.0 L287.0 876.3 L288.7 876.6 L290.5 876.9 L292.3 877.2 L294.1 877.1 L295.8 877.4 L297.6 877.6 L299.4 877.8 L301.1 878.1 L302.9 878.3 L304.7 878.4 L306.4 878.5 L308.2 878.5 L310.0 878.4 L311.7 878.0 L313.5 877.8 L315.3 877.9 L317.0 877.8 L318.8 877.8 L320.6 877.7 L322.4 877.7 L324.1 877.8 L325.9 877.8 L327.7 877.9 L329.4 877.9 L331.2 877.9 L333.0 877.8 L334.7 877.5 L336.5 877.4 L338.3 877.2 L340.0 877.0 L341.8 876.5 L343.6 876.0 L345.3 875.5 L347.1 875.0 L348.9 874.7 L350.7 874.6 L352.4 874.4 L354.2 874.4 L356.0 874.3 L357.7 874.3 L359.5 874.4 L361.3 874.5 L363.0 874.5 L364.8 874.5 L366.6 874.5 L368.3 874.4 L370.1 874.4 L371.9 874.1 L373.7 873.9 L375.4 873.7 L377.2 873.4 L379.0 872.9 L380.7 872.3 L382.5 871.9 L384.3 871.5 L386.0 871.2 L387.8 871.0 L389.6 870.7 L391.3 870.3 L393.1 869.9 L394.9 869.4 L396.6 869.0 L398.4 868.5 L400.2 867.9 L402.0 867.3 L403.7 866.7 L405.5 866.1 L407.3 865.4 L409.0 864.6 L410.8 864.0 L412.6 863.3 L414.3 862.8 L416.1 862.4 L417.9 862.1 L419.6 861.6 L421.4 861.3 L423.2 861.0 L424.9 860.7 L426.7 860.4 L428.5 860.1 L430.3 859.8 L432.0 859.6 L433.8 859.2 L435.6 858.8 L437.3 858.5 L439.1 858.1 L440.9 857.9 L442.6 857.7 L444.4 857.6 L446.2 857.3 L447.9 857.0 L449.7 856.8 L451.5 856.6 L453.3 856.4 L455.0 856.1 L456.8 855.6 L458.6 855.0 L460.3 854.2 L462.1 853.4 L463.9 852.4 L465.6 851.5 L467.4 850.4 L469.2 849.3 L470.9 848.2 L472.7 847.5 L474.5 846.9 L476.2 846.4 L478.0 845.9 L479.8 845.7 L481.6 845.6 L483.3 845.7 L485.1 845.9 L486.9 846.0 L488.6 846.2 L490.4 846.3 L492.2 846.2 L493.9 845.9 L495.7 845.4 L497.5 844.6 L499.2 843.8 L501.0 843.1 L502.8 842.6 L504.5 842.2 L506.3 841.9 L508.1 841.6 L509.9 841.4 L511.6 841.2 L513.4 840.8 L515.2 840.4 L516.9 840.1 L518.7 839.7 L520.5 839.2 L522.2 838.7 L524.0 838.0 L525.8 837.3 L527.5 836.6 L529.3 835.9 L531.1 835.3 L532.8 834.9 L534.6 834.4 L536.4 833.6 L538.2 832.9 L539.9 832.2 L541.7 831.3 L543.5 830.4 L545.2 829.5 L547.0 828.4 L548.8 827.4 L550.5 826.4 L552.3 825.5 L554.1 824.4 L555.8 823.2 L557.6 822.2 L559.4 821.5 L561.2 820.9 L562.9 820.3 L564.7 819.7 L566.5 819.2 L568.2 818.7 L570.0 818.4 L571.8 817.9 L573.5 817.3 L575.3 816.5 L577.1 815.7 L578.8 815.1 L580.6 814.7 L582.4 814.5 L584.1 814.7 L585.9 815.0 L587.7 815.4 L589.5 815.7 L591.2 815.8 L593.0 815.9 L594.8 816.0 L596.5 815.9 L598.3 815.8 L600.1 815.6 L601.8 815.3 L603.6 814.9 L605.4 814.7 L607.1 814.6 L608.9 814.5 L610.7 814.3 L612.4 814.0 L614.2 813.6 L616.0 813.3 L617.8 813.2 L619.5 813.0 L621.3 812.8 L623.1 812.5 L624.8 811.9 L626.6 811.4 L628.4 811.0 L630.1 810.4 L631.9 809.7 L633.7 808.9 L635.4 808.0 L637.2 807.0 L639.0 805.9 L640.8 805.2 L642.5 804.6 L644.3 803.9 L646.1 803.3 L647.8 802.9 L649.6 802.6 L651.4 802.4 L653.1 802.2 L654.9 802.0 L656.7 801.9 L658.4 801.7 L660.2 801.5 L662.0 801.1 L663.7 800.5 L665.5 800.0 L667.3 799.7 L669.1 799.6 L670.8 799.5 L672.6 799.4 L674.4 799.2 L676.1 798.9 L677.9 798.7 L679.7 798.7 L681.4 798.8 L683.2 799.0 L685.0 799.1 L686.7 799.2 L688.5 799.0 L690.3 798.7 L692.0 798.4 L693.8 798.3 L695.6 798.2 L697.4 798.2 L699.1 798.1 L700.9 797.9 L702.7 797.4 L704.4 797.0 L706.2 796.9 L708.0 796.6 L709.7 796.3 L711.5 795.7 L713.3 795.0 L715.0 794.2 L716.8 793.1 L718.6 792.3 L720.4 791.5 L722.1 790.8 L723.9 790.2 L725.7 789.7 L727.4 788.9 L729.2 787.8 L731.0 786.4 L732.7 784.8 L734.5 783.0 L736.3 781.9 L738.0 780.7 L739.8 779.2 L741.6 777.2 L743.3 775.1 L745.1 773.0 L746.9 770.8 L748.7 768.8 L750.4 767.2 L752.2 765.6 L754.0 763.9 L755.7 762.2 L757.5 761.4 L759.3 760.2 L761.0 758.7 L762.8 756.9 L764.6 754.9 L766.3 752.6 L768.1 749.8 L769.9 746.5 L771.6 742.1 L773.4 738.5 L775.2 735.7 L777.0 733.2 L778.7 731.2 L780.5 730.3 L782.3 729.8 L784.0 729.1 L785.8 727.7 L787.6 725.5 L789.3 723.3 L791.1 721.9 L792.9 720.3 L794.6 718.8 L796.4 717.8 L798.2 717.0 L800.0 716.1 L801.7 715.4 L803.5 715.2 L805.3 715.5 L807.0 715.4 L808.8 715.8 L810.6 716.1 L812.3 716.0 L814.1 715.8 L815.9 715.0 L817.6 714.1 L819.4 713.2 L821.2 712.2 L822.9 711.1 L824.7 709.9 L826.5 709.2 L828.3 708.8 L830.0 708.2 L831.8 707.4 L833.6 707.1 L835.3 706.6 L837.1 705.8 L838.9 704.9 L840.6 703.8 L842.4 702.4 L844.2 700.9 L845.9 699.5 L847.7 699.1 L849.5 698.5 L851.2 697.8 L853.0 697.1 L854.8 696.1 L856.6 694.9 L858.3 693.5 L860.1 692.1 L861.9 691.0 L863.6 689.8 L865.4 689.1 L867.2 688.7 L868.9 688.3 L870.7 687.6 L872.5 687.6 L874.2 687.4 L876.0 687.3 L877.8 687.1 L879.5 686.6 L881.3 685.9 L883.1 685.1 L884.9 684.8 L886.6 684.3 L888.4 684.0 L890.2 683.8 L891.9 683.4 L893.7 682.4 L895.5 681.2 L897.2 679.6 L899.0 677.8 L900.8 676.0 L902.5 674.1 L904.3 671.9 L906.1 669.4 L907.9 666.6 L909.6 663.4 L911.4 660.5 L913.2 658.1 L914.9 655.6 L916.7 654.0 L918.5 652.0 L920.2 649.9 L922.0 647.6 L923.8 644.8 L925.5 641.3 L927.3 637.5 L929.1 633.8 L930.8 629.8 L932.6 626.1 L934.4 622.6 L936.2 619.2 L937.9 615.2 L939.7 610.8 L941.5 606.2 L943.2 602.2 L945.0 599.7 L946.8 597.1 L948.5 594.8 L950.3 592.6 L952.1 590.7 L953.8 589.6 L955.6 589.3 L957.4 588.1 L959.1 586.4 L960.9 584.5 L962.7 583.0 L964.5 582.1 L966.2 581.6 L968.0 580.2 L969.8 578.6 L971.5 576.7 L973.3 574.3 L975.1 572.5 L976.8 571.2 L978.6 570.7 L980.4 572.0 L982.1 573.8 L983.9 575.1 L985.7 576.2 L987.5 578.3 L989.2 579.3 L991.0 579.1 L992.8 578.9 L994.5 579.3 L996.3 580.3 L998.1 582.4 L999.8 585.2 L1001.6 588.4 L1003.4 591.0 L1005.1 592.9 L1006.9 593.8 L1008.7 594.7 L1010.4 595.7 L1012.2 595.8 L1014.0 595.4 L1015.8 594.6 L1017.5 593.5 L1019.3 593.0 L1021.1 592.9 L1022.8 591.6 L1024.6 589.5 L1026.4 587.1 L1028.1 584.0 L1029.9 580.8 L1031.7 578.5 L1033.4 576.7 L1035.2 574.6 L1037.0 572.8 L1038.7 571.6 L1040.5 570.9 L1042.3 570.8 L1044.1 571.1 L1045.8 570.2 L1047.6 569.8 L1049.4 568.8 L1051.1 567.4 L1052.9 565.5 L1054.7 563.3 L1056.4 561.8 L1058.2 560.8 L1060.0 559.9 L1061.7 559.0 L1063.5 558.3 L1065.3 558.0 L1067.1 557.2 L1068.8 556.2 L1070.6 555.2 L1072.4 554.3 L1074.1 553.3 L1075.9 552.3 L1077.7 551.1 L1079.4 549.2 L1081.2 547.1 L1083.0 545.1 L1084.7 543.3 L1086.5 540.9 L1088.3 538.2 L1090.0 535.5 L1091.8 533.0 L1093.6 530.8 L1095.4 527.3 L1097.1 523.3 L1098.9 518.8 L1100.7 514.0 L1102.4 509.9 L1104.2 507.1 L1106.0 504.5 L1107.7 502.3 L1109.5 500.3 L1111.3 497.4 L1113.0 495.1 L1114.8 493.4 L1116.6 492.5 L1118.3 491.6 L1120.1 490.0 L1121.9 488.0 L1123.7 486.3 L1125.4 483.9 L1127.2 482.6 L1129.0 481.4 L1130.7 479.9 L1132.5 477.9 L1134.3 475.5 L1136.0 473.8 L1137.8 471.5 L1139.6 468.7 L1141.3 465.3 L1143.1 462.0 L1144.9 459.8 L1146.7 457.1 L1148.4 454.2 L1150.2 451.0 L1152.0 447.5 L1153.7 444.5 L1155.5 442.3 L1157.3 440.5 L1159.0 439.0 L1160.8 437.9 L1162.6 437.0 L1164.3 435.4 L1166.1 433.6 L1167.9 431.7 L1169.6 429.6 L1171.4 427.5 L1173.2 425.1 L1175.0 422.3 L1176.7 419.0 L1178.5 415.2 L1180.3 410.9 L1182.0 406.9 L1183.8 404.1 L1185.6 400.0 L1187.3 395.8 L1189.1 392.4 L1190.9 389.4 L1192.6 386.3 L1194.4 382.2 L1196.2 379.1 L1197.9 376.2 L1199.7 373.3 L1201.5 369.8 L1203.3 367.7 L1205.0 365.9 L1206.8 364.5 L1208.6 363.2 L1210.3 361.6 L1212.1 359.6 L1213.9 357.1 L1215.6 354.4 L1217.4 351.4 L1219.2 348.8 L1220.9 346.2 L1222.7 343.7 L1224.5 340.6 L1226.2 337.0 L1228.0 333.4 L1229.8 329.0 L1231.6 324.2 L1233.3 320.7 L1235.1 317.5 L1236.9 314.0 L1238.6 310.4 L1240.4 306.9 L1242.2 303.6 L1243.9 300.7 L1245.7 298.6 L1247.5 296.9 L1249.2 293.7 L1251.0 289.9 L1252.8 285.8 L1254.6 281.0 L1256.3 274.5 L1258.1 266.4 L1259.9 257.5 L1261.6 249.0 L1263.4 240.2 L1265.2 232.7 L1266.9 226.7 L1268.7 223.5 L1270.5 221.8 L1272.2 219.8 L1274.0 217.6 L1275.8 215.0 L1277.5 211.0 L1279.3 206.8 L1281.1 202.7 L1282.9 199.9 L1284.6 197.5 L1286.4 194.8 L1288.2 193.9 L1289.9 194.5 L1291.7 195.1 L1293.5 196.4 L1295.2 196.2 L1297.0 195.4 L1298.8 193.2 L1300.5 190.5 L1302.3 188.2 L1304.1 186.2 L1305.8 183.8 L1307.6 181.0 L1309.4 179.4 L1311.2 178.5 L1312.9 178.4 L1314.7 178.3 L1316.5 178.6 L1318.2 178.9 L1320.0 178.8 L1321.8 178.9 L1323.5 179.0 L1325.3 179.9 L1327.1 181.9 L1328.8 183.4 L1330.6 185.5 L1332.4 186.0 L1334.2 186.9 L1335.9 188.0 L1337.7 189.6 L1339.5 190.7 L1341.2 191.9 L1343.0 193.0 L1344.8 194.1 L1346.5 194.5 L1348.3 195.1 L1350.1 195.1 L1351.8 194.4 L1353.6 193.1 L1355.4 191.3 L1357.1 188.5 L1358.9 185.2 L1360.7 182.1 L1362.5 179.1 L1364.2 176.1 L1366.0 173.9 L1367.8 172.5 L1369.5 171.5 L1371.3 171.1 L1373.1 169.8 L1374.8 168.6 L1376.6 166.7 L1378.4 165.7 L1380.1 165.3 L1381.9 165.4 L1383.7 166.0 L1385.4 166.7 L1387.2 167.4 L1389.0 167.7 L1390.8 167.8 L1392.5 168.2 L1394.3 168.6 L1396.1 169.2 L1397.8 170.6 L1399.6 172.7 L1401.4 175.0 L1403.1 177.0 L1404.9 178.6 L1406.7 179.9 L1408.4 181.4 L1410.2 183.2 L1412.0 187.1 L1413.8 192.4 L1415.5 196.6 L1417.3 200.3 L1419.1 205.1 L1420.8 211.0 L1422.6 216.1 L1424.4 221.0 L1426.1 225.5 L1427.9 230.3 L1429.7 236.7 L1431.4 244.1 L1433.2 251.6 L1435.0 257.6 L1436.7 262.5 L1438.5 266.4 L1440.3 270.4 L1442.1 273.2 L1443.8 275.3 L1445.6 277.0 L1447.4 278.8 L1449.1 281.1 L1450.9 284.1 L1452.7 287.0 L1454.4 289.7 L1456.2 292.8 L1458.0 296.5 L1459.7 298.9 L1461.5 300.5 L1463.3 302.8 L1465.0 305.9 L1466.8 309.1 L1468.6 312.8 L1470.4 316.3 L1472.1 320.0 L1473.9 323.6 L1475.7 327.7 L1477.4 331.3 L1479.2 334.2 L1481.0 336.7 L1482.7 338.9 L1484.5 340.7 L1486.3 343.0 L1488.0 344.3 L1489.8 344.8 L1491.6 344.9 L1493.4 344.9 L1495.1 344.6 L1496.9 343.6 L1498.7 343.7 L1500.4 344.5 L1502.2 344.9 L1504.0 345.3 L1505.7 346.1 L1507.5 346.8 L1509.3 347.7 L1511.0 348.3 L1512.8 348.9 L1514.6 349.9 L1516.3 351.5 L1518.1 353.0 L1519.9 353.5 L1521.7 353.5 L1523.4 353.4 L1525.2 353.0 L1527.0 352.4 L1528.7 352.4 L1530.5 352.4 L1532.3 352.5 L1534.0 353.0 L1535.8 353.2 L1537.6 354.0 L1539.3 354.5 L1541.1 355.7 L1542.9 357.7 L1544.6 359.8 L1546.4 361.8 L1548.2 364.5 L1550.0 366.2 L1551.7 367.4 L1553.5 368.8 L1555.3 371.5 L1557.0 373.8 L1558.8 375.7 L1560.6 377.3 L1562.3 379.7 L1564.1 381.2 L1565.9 382.0 L1567.6 383.4 L1569.4 384.8 L1571.2 386.3 L1572.9 386.6 L1574.7 385.7 L1576.5 384.6 L1578.3 383.7 L1580.0 384.0 L1581.8 384.6 L1583.6 385.8 L1585.3 386.5 L1587.1 388.2 L1588.9 390.3 L1590.6 391.6 L1592.4 392.6 L1594.2 393.3 L1595.9 393.9 L1597.7 394.6 L1599.5 395.8 L1601.3 397.0 L1603.0 398.0 L1604.8 397.9 L1606.6 398.6 L1608.3 399.5 L1610.1 400.6 L1611.9 401.3 L1613.6 401.8 L1615.4 402.8 L1617.2 404.0 L1618.9 405.5 L1620.7 407.6 L1622.5 410.1 L1624.2 412.6 L1626.0 415.1 L1627.8 416.6 L1629.6 417.0 L1631.3 418.2 L1633.1 419.8 L1634.9 421.5 L1636.6 422.5 L1638.4 423.1 L1640.2 424.0 L1641.9 424.0 L1643.7 423.9 L1645.5 424.2 L1647.2 425.0 L1649.0 426.7 L1650.8 428.7 L1652.5 430.9 L1654.3 433.4 L1656.1 434.9 L1657.9 436.9 L1659.6 438.9 L1661.4 440.6 L1663.2 442.5 L1664.9 443.4 L1666.7 444.5 L1668.5 445.3 L1670.2 445.1 L1672.0 443.6 L1673.8 441.0 L1675.5 438.9 L1677.3 436.8 L1679.1 434.0 L1680.9 431.5 L1682.6 429.2 L1684.4 427.8 L1686.2 426.1 L1687.9 424.4 L1689.7 422.9 L1691.5 421.3 L1693.2 418.4 L1695.0 415.7 L1696.8 413.7 L1698.5 412.3 L1700.3 411.8 L1702.1 410.6 L1703.8 408.5 L1705.6 406.0 L1707.4 403.2 L1709.2 400.0 L1710.9 396.2 L1712.7 393.1 L1714.5 390.7 L1716.2 387.9 L1718.0 385.5 L1719.8 383.2 L1721.5 381.0 L1723.3 379.4 L1725.1 377.7 L1726.8 376.2 L1728.6 375.0 L1730.4 373.2 L1732.1 372.0 L1733.9 371.9 L1735.7 372.5 L1737.5 372.8 L1739.2 372.7 L1741.0 372.1 L1742.8 373.2 L1744.5 374.8 L1746.3 376.8 L1748.1 378.9 L1749.8 381.3 L1751.6 384.2 L1753.4 387.0 L1755.1 389.4 L1756.9 391.2 L1758.7 392.3 L1760.5 392.9 L1762.2 393.9 L1764.0 394.3 L1765.8 394.1 L1767.5 393.9 L1769.3 393.2 L1771.1 393.6 L1772.8 394.2 L1774.6 394.0 L1776.4 393.5 L1778.1 393.1 L1779.9 392.6 L1781.7 391.2 L1783.4 390.1 L1785.2 389.2 L1787.0 389.4 L1788.8 389.6 L1790.5 389.3 L1792.3 388.6 L1794.1 387.6 L1795.8 387.0 L1797.6 386.7 L1799.4 386.5 L1801.1 386.7 L1802.9 387.5 L1804.7 387.9 L1806.4 387.6 L1808.2 386.9 L1810.0 386.3 L1811.7 385.2 L1813.5 384.3 L1815.3 383.1 L1817.1 381.2 L1818.8 379.0 L1820.6 377.3" fill="none" stroke="#f0564f" stroke-width="1" stroke-linejoin="round" shape-rendering="crispEdges"/>
<path d="M90.6 862.9 L92.4 863.2 L94.2 863.4 L95.9 863.6 L97.7 863.9 L99.5 864.1 L101.2 864.3 L103.0 864.5 L104.8 864.7 L106.6 864.8 L108.3 865.0 L110.1 865.1 L111.9 865.3 L113.6 865.5 L115.4 865.8 L117.2 866.1 L118.9 866.3 L120.7 866.5 L122.5 866.7 L124.2 866.9 L126.0 867.2 L127.8 867.6 L129.5 868.1 L131.3 868.6 L133.1 869.2 L134.9 869.8 L136.6 870.4 L138.4 870.8 L140.2 871.4 L141.9 872.0 L143.7 872.6 L145.5 873.1 L147.2 873.6 L149.0 874.1 L150.8 874.5 L152.5 874.9 L154.3 875.4 L156.1 875.8 L157.8 876.2 L159.6 876.4 L161.4 875.8 L163.2 874.9 L164.9 874.0 L166.7 873.3 L168.5 872.9 L170.2 872.6 L172.0 872.3 L173.8 872.0 L175.5 871.6 L177.3 871.6 L179.1 871.7 L180.8 871.6 L182.6 871.5 L184.4 871.4 L186.1 871.4 L187.9 871.3 L189.7 871.1 L191.5 871.0 L193.2 870.6 L195.0 870.0 L196.8 869.5 L198.5 869.2 L200.3 869.2 L202.1 869.1 L203.8 869.1 L205.6 869.1 L207.4 869.2 L209.1 869.4 L210.9 869.5 L212.7 869.6 L214.5 869.7 L216.2 869.9 L218.0 870.1 L219.8 870.3 L221.5 870.5 L223.3 870.6 L225.1 870.6 L226.8 870.5 L228.6 870.3 L230.4 870.3 L232.1 870.3 L233.9 870.3 L235.7 870.4 L237.4 870.5 L239.2 870.7 L241.0 870.9 L242.8 871.1 L244.5 871.3 L246.3 871.4 L248.1 871.6 L249.8 871.7 L251.6 871.9 L253.4 872.0 L255.1 872.2 L256.9 872.4 L258.7 872.6 L260.4 872.9 L262.2 873.2 L264.0 873.5 L265.7 873.8 L267.5 874.0 L269.3 874.2 L271.1 874.3 L272.8 874.5 L274.6 874.6 L276.4 874.7 L278.1 874.9 L279.9 875.1 L281.7 875.3 L283.4 875.5 L285.2 875.7 L287.0 875.9 L288.7 876.2 L290.5 876.5 L292.3 876.7 L294.1 876.7 L295.8 877.0 L297.6 877.2 L299.4 877.4 L301.1 877.6 L302.9 877.8 L304.7 878.0 L306.4 878.1 L308.2 878.1 L310.0 878.1 L311.7 877.7 L313.5 877.5 L315.3 877.6 L317.0 877.6 L318.8 877.5 L320.6 877.5 L322.4 877.5 L324.1 877.6 L325.9 877.6 L327.7 877.7 L329.4 877.7 L331.2 877.7 L333.0 877.6 L334.7 877.4 L336.5 877.3 L338.3 877.1 L340.0 876.9 L341.8 876.5 L343.6 876.1 L345.3 875.6 L347.1 875.2 L348.9 874.9 L350.7 874.7 L352.4 874.6 L354.2 874.6 L356.0 874.5 L357.7 874.5 L359.5 874.5 L361.3 874.6 L363.0 874.7 L364.8 874.7 L366.6 874.6 L368.3 874.6 L370.1 874.5 L371.9 874.3 L373.7 874.1 L375.4 873.9 L377.2 873.6 L379.0 873.1 L380.7 872.6 L382.5 872.3 L384.3 871.9 L386.0 871.6 L387.8 871.4 L389.6 871.1 L391.3 870.7 L393.1 870.3 L394.9 869.9 L396.6 869.5 L398.4 869.0 L400.2 868.5 L402.0 867.9 L403.7 867.4 L405.5 866.8 L407.3 866.1 L409.0 865.4 L410.8 864.8 L412.6 864.2 L414.3 863.7 L416.1 863.3 L417.9 863.0 L419.6 862.5 L421.4 862.2 L423.2 861.9 L424.9 861.6 L426.7 861.3 L428.5 861.0 L430.3 860.7 L432.0 860.4 L433.8 860.0 L435.6 859.7 L437.3 859.3 L439.1 859.0 L440.9 858.7 L442.6 858.5 L444.4 858.4 L446.2 858.1 L447.9 857.8 L449.7 857.6 L451.5 857.4 L453.3 857.2 L455.0 856.9 L456.8 856.4 L458.6 855.8 L460.3 855.1 L462.1 854.3 L463.9 853.4 L465.6 852.5 L467.4 851.5 L469.2 850.5 L470.9 849.5 L472.7 848.8 L474.5 848.2 L476.2 847.7 L478.0 847.2 L479.8 846.9 L481.6 846.8 L483.3 846.9 L485.1 847.0 L486.9 847.0 L488.6 847.1 L490.4 847.2 L492.2 847.1 L493.9 846.8 L495.7 846.2 L497.5 845.5 L499.2 844.8 L501.0 844.1 L502.8 843.6 L504.5 843.2 L506.3 842.9 L508.1 842.6 L509.9 842.4 L511.6 842.2 L513.4 841.8 L515.2 841.4 L516.9 841.1 L518.7 840.7 L520.5 840.2 L522.2 839.7 L524.0 839.0 L525.8 838.3 L527.5 837.6 L529.3 837.0 L531.1 836.4 L532.8 836.0 L534.6 835.5 L536.4 834.8 L538.2 834.1 L539.9 833.4 L541.7 832.5 L543.5 831.7 L545.2 830.8 L547.0 829.8 L548.8 828.9 L550.5 827.9 L552.3 827.0 L554.1 826.0 L555.8 824.8 L557.6 823.9 L559.4 823.2 L561.2 822.6 L562.9 822.0 L564.7 821.3 L566.5 820.8 L568.2 820.4 L570.0 819.9 L571.8 819.5 L573.5 818.8 L575.3 818.1 L577.1 817.3 L578.8 816.7 L580.6 816.2 L582.4 816.1 L584.1 816.1 L585.9 816.3 L587.7 816.6 L589.5 816.8 L591.2 816.9 L593.0 816.9 L594.8 816.9 L596.5 816.9 L598.3 816.7 L600.1 816.5 L601.8 816.2 L603.6 815.8 L605.4 815.6 L607.1 815.5 L608.9 815.3 L610.7 815.1 L612.4 814.8 L614.2 814.4 L616.0 814.2 L617.8 814.0 L619.5 813.8 L621.3 813.5 L623.1 813.2 L624.8 812.7 L626.6 812.3 L628.4 811.8 L630.1 811.2 L631.9 810.6 L633.7 809.9 L635.4 809.0 L637.2 808.1 L639.0 807.1 L640.8 806.4 L642.5 805.8 L644.3 805.1 L646.1 804.5 L647.8 804.1 L649.6 803.8 L651.4 803.6 L653.1 803.3 L654.9 803.1 L656.7 802.9 L658.4 802.8 L660.2 802.5 L662.0 802.1 L663.7 801.5 L665.5 801.0 L667.3 800.7 L669.1 800.6 L670.8 800.5 L672.6 800.3 L674.4 800.1 L676.1 799.8 L677.9 799.6 L679.7 799.6 L681.4 799.6 L683.2 799.7 L685.0 799.8 L686.7 799.9 L688.5 799.6 L690.3 799.3 L692.0 799.1 L693.8 798.9 L695.6 798.9 L697.4 798.8 L699.1 798.7 L700.9 798.5 L702.7 798.0 L704.4 797.6 L706.2 797.5 L708.0 797.2 L709.7 796.9 L711.5 796.4 L713.3 795.8 L715.0 794.9 L716.8 794.0 L718.6 793.2 L720.4 792.5 L722.1 791.7 L723.9 791.2 L725.7 790.7 L727.4 790.0 L729.2 788.9 L731.0 787.7 L732.7 786.2 L734.5 784.5 L736.3 783.4 L738.0 782.4 L739.8 780.9 L741.6 779.1 L743.3 777.1 L745.1 775.1 L746.9 773.0 L748.7 771.2 L750.4 769.7 L752.2 768.2 L754.0 766.5 L755.7 764.9 L757.5 764.0 L759.3 762.9 L761.0 761.4 L762.8 759.7 L764.6 757.8 L766.3 755.6 L768.1 753.0 L769.9 749.9 L771.6 745.9 L773.4 742.4 L775.2 739.8 L777.0 737.4 L778.7 735.5 L780.5 734.5 L782.3 733.9 L784.0 733.0 L785.8 731.6 L787.6 729.5 L789.3 727.3 L791.1 725.9 L792.9 724.3 L794.6 722.8 L796.4 721.7 L798.2 720.8 L800.0 719.9 L801.7 719.0 L803.5 718.8 L805.3 718.9 L807.0 718.6 L808.8 718.9 L810.6 719.0 L812.3 718.8 L814.1 718.5 L815.9 717.6 L817.6 716.7 L819.4 715.8 L821.2 714.8 L822.9 713.7 L824.7 712.6 L826.5 711.8 L828.3 711.3 L830.0 710.7 L831.8 709.9 L833.6 709.5 L835.3 708.9 L837.1 708.1 L838.9 707.2 L840.6 706.1 L842.4 704.8 L844.2 703.3 L845.9 702.0 L847.7 701.5 L849.5 700.9 L851.2 700.2 L853.0 699.4 L854.8 698.4 L856.6 697.3 L858.3 695.9 L860.1 694.6 L861.9 693.5 L863.6 692.3 L865.4 691.6 L867.2 691.1 L868.9 690.6 L870.7 689.9 L872.5 689.8 L874.2 689.6 L876.0 689.4 L877.8 689.1 L879.5 688.6 L881.3 687.8 L883.1 687.1 L884.9 686.7 L886.6 686.2 L888.4 685.8 L890.2 685.5 L891.9 685.1 L893.7 684.2 L895.5 683.0 L897.2 681.6 L899.0 679.9 L900.8 678.1 L902.5 676.3 L904.3 674.3 L906.1 672.0 L907.9 669.4 L909.6 666.4 L911.4 663.7 L913.2 661.4 L914.9 659.0 L916.7 657.4 L918.5 655.5 L920.2 653.5 L922.0 651.3 L923.8 648.6 L925.5 645.3 L927.3 641.7 L929.1 638.3 L930.8 634.5 L932.6 631.0 L934.4 627.7 L936.2 624.4 L937.9 620.6 L939.7 616.5 L941.5 612.1 L943.2 608.3 L945.0 605.8 L946.8 603.2 L948.5 600.9 L950.3 598.7 L952.1 596.8 L953.8 595.5 L955.6 595.0 L957.4 593.7 L959.1 591.9 L960.9 590.0 L962.7 588.4 L964.5 587.4 L966.2 586.7 L968.0 585.3 L969.8 583.6 L971.5 581.6 L973.3 579.3 L975.1 577.5 L976.8 576.1 L978.6 575.5 L980.4 576.4 L982.1 577.8 L983.9 578.8 L985.7 579.6 L987.5 581.3 L989.2 582.1 L991.0 581.8 L992.8 581.5 L994.5 581.7 L996.3 582.6 L998.1 584.3 L999.8 586.7 L1001.6 589.5 L1003.4 591.7 L1005.1 593.4 L1006.9 594.2 L1008.7 595.0 L1010.4 595.9 L1012.2 595.9 L1014.0 595.6 L1015.8 594.8 L1017.5 593.9 L1019.3 593.5 L1021.1 593.3 L1022.8 592.1 L1024.6 590.3 L1026.4 588.0 L1028.1 585.3 L1029.9 582.3 L1031.7 580.2 L1033.4 578.6 L1035.2 576.6 L1037.0 574.9 L1038.7 573.7 L1040.5 573.1 L1042.3 572.9 L1044.1 573.1 L1045.8 572.2 L1047.6 571.7 L1049.4 570.7 L1051.1 569.4 L1052.9 567.6 L1054.7 565.6 L1056.4 564.2 L1058.2 563.1 L1060.0 562.2 L1061.7 561.3 L1063.5 560.6 L1065.3 560.3 L1067.1 559.4 L1068.8 558.4 L1070.6 557.4 L1072.4 556.5 L1074.1 555.6 L1075.9 554.6 L1077.7 553.4 L1079.4 551.6 L1081.2 549.6 L1083.0 547.7 L1084.7 546.0 L1086.5 543.8 L1088.3 541.2 L1090.0 538.7 L1091.8 536.3 L1093.6 534.2 L1095.4 530.9 L1097.1 527.2 L1098.9 523.1 L1100.7 518.6 L1102.4 514.7 L1104.2 512.0 L1106.0 509.5 L1107.7 507.3 L1109.5 505.3 L1111.3 502.5 L1113.0 500.2 L1114.8 498.5 L1116.6 497.5 L1118.3 496.5 L1120.1 494.8 L1121.9 492.8 L1123.7 491.1 L1125.4 488.8 L1127.2 487.4 L1129.0 486.1 L1130.7 484.6 L1132.5 482.6 L1134.3 480.3 L1136.0 478.5 L1137.8 476.3 L1139.6 473.6 L1141.3 470.4 L1143.1 467.1 L1144.9 465.0 L1146.7 462.3 L1148.4 459.5 L1150.2 456.4 L1152.0 453.1 L1153.7 450.1 L1155.5 447.9 L1157.3 446.1 L1159.0 444.6 L1160.8 443.3 L1162.6 442.3 L1164.3 440.6 L1166.1 438.8 L1167.9 436.8 L1169.6 434.8 L1171.4 432.6 L1173.2 430.3 L1175.0 427.6 L1176.7 424.4 L1178.5 420.8 L1180.3 416.7 L1182.0 412.9 L1183.8 410.1 L1185.6 406.3 L1187.3 402.2 L1189.1 398.9 L1190.9 396.0 L1192.6 392.9 L1194.4 389.0 L1196.2 385.9 L1197.9 383.0 L1199.7 380.1 L1201.5 376.7 L1203.3 374.5 L1205.0 372.7 L1206.8 371.1 L1208.6 369.7 L1210.3 368.0 L1212.1 365.9 L1213.9 363.4 L1215.6 360.7 L1217.4 357.8 L1219.2 355.2 L1220.9 352.6 L1222.7 350.1 L1224.5 347.0 L1226.2 343.6 L1228.0 340.0 L1229.8 335.9 L1231.6 331.3 L1233.3 327.8 L1235.1 324.6 L1236.9 321.2 L1238.6 317.7 L1240.4 314.3 L1242.2 311.1 L1243.9 308.1 L1245.7 305.9 L1247.5 304.1 L1249.2 301.0 L1251.0 297.2 L1252.8 293.2 L1254.6 288.6 L1256.3 282.6 L1258.1 275.0 L1259.9 266.6 L1261.6 258.7 L1263.4 250.4 L1265.2 243.3 L1266.9 237.5 L1268.7 234.2 L1270.5 232.2 L1272.2 229.9 L1274.0 227.5 L1275.8 224.8 L1277.5 220.8 L1279.3 216.6 L1281.1 212.5 L1282.9 209.6 L1284.6 207.1 L1286.4 204.2 L1288.2 203.1 L1289.9 203.1 L1291.7 203.3 L1293.5 204.1 L1295.2 203.6 L1297.0 202.5 L1298.8 200.3 L1300.5 197.6 L1302.3 195.2 L1304.1 193.1 L1305.8 190.7 L1307.6 187.9 L1309.4 186.2 L1311.2 185.1 L1312.9 184.7 L1314.7 184.4 L1316.5 184.4 L1318.2 184.4 L1320.0 184.1 L1321.8 183.9 L1323.5 183.8 L1325.3 184.4 L1327.1 186.0 L1328.8 187.1 L1330.6 188.8 L1332.4 189.1 L1334.2 189.8 L1335.9 190.7 L1337.7 192.0 L1339.5 192.9 L1341.2 193.9 L1343.0 194.7 L1344.8 195.6 L1346.5 195.9 L1348.3 196.4 L1350.1 196.3 L1351.8 195.7 L1353.6 194.5 L1355.4 192.8 L1357.1 190.2 L1358.9 187.2 L1360.7 184.3 L1362.5 181.6 L1364.2 178.8 L1366.0 176.7 L1367.8 175.3 L1369.5 174.3 L1371.3 173.8 L1373.1 172.5 L1374.8 171.4 L1376.6 169.5 L1378.4 168.5 L1380.1 168.1 L1381.9 168.0 L1383.7 168.5 L1385.4 169.0 L1387.2 169.5 L1389.0 169.7 L1390.8 169.7 L1392.5 170.0 L1394.3 170.2 L1396.1 170.7 L1397.8 171.9 L1399.6 173.7 L1401.4 175.7 L1403.1 177.5 L1404.9 178.9 L1406.7 180.0 L1408.4 181.4 L1410.2 182.9 L1412.0 186.4 L1413.8 191.2 L1415.5 195.0 L1417.3 198.4 L1419.1 202.8 L1420.8 208.1 L1422.6 212.8 L1424.4 217.2 L1426.1 221.4 L1427.9 225.9 L1429.7 231.8 L1431.4 238.6 L1433.2 245.6 L1435.0 251.1 L1436.7 255.8 L1438.5 259.5 L1440.3 263.4 L1442.1 266.2 L1443.8 268.4 L1445.6 270.2 L1447.4 272.1 L1449.1 274.4 L1450.9 277.4 L1452.7 280.2 L1454.4 283.0 L1456.2 286.1 L1458.0 289.6 L1459.7 292.1 L1461.5 293.7 L1463.3 296.2 L1465.0 299.2 L1466.8 302.3 L1468.6 306.0 L1470.4 309.4 L1472.1 312.9 L1473.9 316.5 L1475.7 320.4 L1477.4 323.9 L1479.2 326.8 L1481.0 329.4 L1482.7 331.7 L1484.5 333.6 L1486.3 336.0 L1488.0 337.4 L1489.8 338.2 L1491.6 338.6 L1493.4 338.8 L1495.1 338.8 L1496.9 338.2 L1498.7 338.5 L1500.4 339.4 L1502.2 340.0 L1504.0 340.6 L1505.7 341.5 L1507.5 342.4 L1509.3 343.3 L1511.0 344.0 L1512.8 344.8 L1514.6 345.9 L1516.3 347.5 L1518.1 349.0 L1519.9 349.6 L1521.7 349.8 L1523.4 349.9 L1525.2 349.7 L1527.0 349.2 L1528.7 349.4 L1530.5 349.5 L1532.3 349.7 L1534.0 350.3 L1535.8 350.6 L1537.6 351.4 L1539.3 351.9 L1541.1 353.2 L1542.9 355.1 L1544.6 357.1 L1546.4 358.9 L1548.2 361.5 L1550.0 363.1 L1551.7 364.3 L1553.5 365.7 L1555.3 368.2 L1557.0 370.4 L1558.8 372.3 L1560.6 373.8 L1562.3 376.2 L1564.1 377.6 L1565.9 378.5 L1567.6 379.9 L1569.4 381.3 L1571.2 382.8 L1572.9 383.2 L1574.7 382.6 L1576.5 381.7 L1578.3 381.0 L1580.0 381.4 L1581.8 382.1 L1583.6 383.3 L1585.3 384.0 L1587.1 385.6 L1588.9 387.6 L1590.6 388.9 L1592.4 389.8 L1594.2 390.6 L1595.9 391.3 L1597.7 392.0 L1599.5 393.2 L1601.3 394.4 L1603.0 395.4 L1604.8 395.4 L1606.6 396.1 L1608.3 397.0 L1610.1 398.1 L1611.9 398.9 L1613.6 399.4 L1615.4 400.4 L1617.2 401.6 L1618.9 403.0 L1620.7 405.0 L1622.5 407.3 L1624.2 409.7 L1626.0 412.0 L1627.8 413.5 L1629.6 414.0 L1631.3 415.2 L1633.1 416.8 L1634.9 418.4 L1636.6 419.4 L1638.4 420.1 L1640.2 421.0 L1641.9 421.2 L1643.7 421.2 L1645.5 421.6 L1647.2 422.4 L1649.0 424.0 L1650.8 425.9 L1652.5 428.0 L1654.3 430.4 L1656.1 431.9 L1657.9 433.8 L1659.6 435.7 L1661.4 437.3 L1663.2 439.2 L1664.9 440.1 L1666.7 441.2 L1668.5 442.1 L1670.2 442.1 L1672.0 440.9 L1673.8 438.7 L1675.5 436.9 L1677.3 435.1 L1679.1 432.7 L1680.9 430.5 L1682.6 428.5 L1684.4 427.3 L1686.2 425.8 L1687.9 424.3 L1689.7 422.9 L1691.5 421.5 L1693.2 418.9 L1695.0 416.5 L1696.8 414.7 L1698.5 413.4 L1700.3 412.9 L1702.1 411.7 L1703.8 409.9 L1705.6 407.6 L1707.4 405.0 L1709.2 402.1 L1710.9 398.6 L1712.7 395.7 L1714.5 393.5 L1716.2 390.9 L1718.0 388.6 L1719.8 386.4 L1721.5 384.3 L1723.3 382.7 L1725.1 381.1 L1726.8 379.6 L1728.6 378.4 L1730.4 376.7 L1732.1 375.4 L1733.9 375.2 L1735.7 375.6 L1737.5 375.7 L1739.2 375.5 L1741.0 374.8 L1742.8 375.7 L1744.5 377.0 L1746.3 378.7 L1748.1 380.5 L1749.8 382.5 L1751.6 385.1 L1753.4 387.6 L1755.1 389.6 L1756.9 391.2 L1758.7 392.2 L1760.5 392.7 L1762.2 393.7 L1764.0 394.0 L1765.8 393.9 L1767.5 393.7 L1769.3 393.1 L1771.1 393.5 L1772.8 394.0 L1774.6 393.8 L1776.4 393.4 L1778.1 393.0 L1779.9 392.6 L1781.7 391.4 L1783.4 390.3 L1785.2 389.5 L1787.0 389.7 L1788.8 389.9 L1790.5 389.6 L1792.3 388.9 L1794.1 388.0 L1795.8 387.5 L1797.6 387.2 L1799.4 387.0 L1801.1 387.2 L1802.9 387.9 L1804.7 388.2 L1806.4 387.9 L1808.2 387.3 L1810.0 386.7 L1811.7 385.7 L1813.5 384.9 L1815.3 383.8 L1817.1 382.1 L1818.8 380.0 L1820.6 378.6" fill="none" stroke="#f06f3c" stroke-width="1" stroke-linejoin="round" shape-rendering="crispEdges"/>
<path d="M99.5 863.5 L101.2 863.7 L103.0 863.9 L104.8 864.1 L106.6 864.2 L108.3 864.4 L110.1 864.5 L111.9 864.7 L113.6 864.9 L115.4 865.2 L117.2 865.5 L118.9 865.8 L120.7 866.0 L122.5 866.1 L124.2 866.4 L126.0 866.6 L127.8 867.0 L129.5 867.4 L131.3 868.0 L133.1 868.5 L134.9 869.1 L136.6 869.6 L138.4 870.1 L140.2 870.6 L141.9 871.2 L143.7 871.7 L145.5 872.3 L147.2 872.8 L149.0 873.2 L150.8 873.6 L152.5 874.0 L154.3 874.5 L156.1 874.9 L157.8 875.3 L159.6 875.5 L161.4 875.0 L163.2 874.2 L164.9 873.4 L166.7 872.8 L168.5 872.4 L170.2 872.2 L172.0 871.9 L173.8 871.7 L175.5 871.4 L177.3 871.4 L179.1 871.5 L180.8 871.4 L182.6 871.3 L184.4 871.2 L186.1 871.2 L187.9 871.1 L189.7 871.0 L191.5 870.9 L193.2 870.5 L195.0 870.0 L196.8 869.6 L198.5 869.3 L200.3 869.2 L202.1 869.2 L203.8 869.2 L205.6 869.2 L207.4 869.3 L209.1 869.4 L210.9 869.5 L212.7 869.6 L214.5 869.7 L216.2 869.9 L218.0 870.1 L219.8 870.2 L221.5 870.5 L223.3 870.5 L225.1 870.5 L226.8 870.4 L228.6 870.3 L230.4 870.3 L232.1 870.2 L233.9 870.3 L235.7 870.3 L237.4 870.5 L239.2 870.6 L241.0 870.8 L242.8 871.0 L244.5 871.2 L246.3 871.3 L248.1 871.4 L249.8 871.6 L251.6 871.7 L253.4 871.9 L255.1 872.0 L256.9 872.2 L258.7 872.4 L260.4 872.7 L262.2 873.0 L264.0 873.3 L265.7 873.5 L267.5 873.7 L269.3 873.9 L271.1 874.0 L272.8 874.2 L274.6 874.3 L276.4 874.4 L278.1 874.6 L279.9 874.7 L281.7 875.0 L283.4 875.2 L285.2 875.3 L287.0 875.6 L288.7 875.9 L290.5 876.1 L292.3 876.4 L294.1 876.4 L295.8 876.6 L297.6 876.8 L299.4 877.0 L301.1 877.3 L302.9 877.4 L304.7 877.6 L306.4 877.7 L308.2 877.8 L310.0 877.7 L311.7 877.4 L313.5 877.2 L315.3 877.3 L317.0 877.3 L318.8 877.3 L320.6 877.3 L322.4 877.3 L324.1 877.3 L325.9 877.4 L327.7 877.5 L329.4 877.5 L331.2 877.5 L333.0 877.4 L334.7 877.2 L336.5 877.1 L338.3 877.0 L340.0 876.8 L341.8 876.5 L343.6 876.1 L345.3 875.7 L347.1 875.3 L348.9 875.0 L350.7 874.9 L352.4 874.8 L354.2 874.7 L356.0 874.6 L357.7 874.6 L359.5 874.6 L361.3 874.7 L363.0 874.8 L364.8 874.7 L366.6 874.7 L368.3 874.7 L370.1 874.6 L371.9 874.4 L373.7 874.2 L375.4 874.0 L377.2 873.8 L379.0 873.3 L380.7 872.9 L382.5 872.5 L384.3 872.2 L386.0 871.9 L387.8 871.7 L389.6 871.4 L391.3 871.1 L393.1 870.7 L394.9 870.3 L396.6 870.0 L398.4 869.5 L400.2 869.0 L402.0 868.5 L403.7 868.0 L405.5 867.4 L407.3 866.8 L409.0 866.1 L410.8 865.5 L412.6 864.9 L414.3 864.4 L416.1 864.1 L417.9 863.7 L419.6 863.3 L421.4 863.0 L423.2 862.7 L424.9 862.4 L426.7 862.1 L428.5 861.8 L430.3 861.5 L432.0 861.2 L433.8 860.8 L435.6 860.5 L437.3 860.1 L439.1 859.8 L440.9 859.5 L442.6 859.3 L444.4 859.1 L446.2 858.9 L447.9 858.6 L449.7 858.3 L451.5 858.1 L453.3 857.9 L455.0 857.6 L456.8 857.2 L458.6 856.6 L460.3 855.9 L462.1 855.1 L463.9 854.3 L465.6 853.5 L467.4 852.6 L469.2 851.6 L470.9 850.6 L472.7 849.9 L474.5 849.4 L476.2 848.9 L478.0 848.4 L479.8 848.1 L481.6 847.9 L483.3 847.9 L485.1 848.0 L486.9 848.0 L488.6 848.1 L490.4 848.1 L492.2 848.0 L493.9 847.6 L495.7 847.1 L497.5 846.4 L499.2 845.7 L501.0 845.1 L502.8 844.6 L504.5 844.2 L506.3 843.9 L508.1 843.6 L509.9 843.3 L511.6 843.1 L513.4 842.7 L515.2 842.3 L516.9 842.0 L518.7 841.6 L520.5 841.2 L522.2 840.6 L524.0 840.0 L525.8 839.3 L527.5 838.7 L529.3 838.0 L531.1 837.5 L532.8 837.1 L534.6 836.6 L536.4 835.9 L538.2 835.2 L539.9 834.6 L541.7 833.7 L543.5 832.9 L545.2 832.1 L547.0 831.1 L548.8 830.2 L550.5 829.3 L552.3 828.4 L554.1 827.5 L555.8 826.4 L557.6 825.5 L559.4 824.8 L561.2 824.2 L562.9 823.6 L564.7 822.9 L566.5 822.4 L568.2 821.9 L570.0 821.5 L571.8 821.0 L573.5 820.4 L575.3 819.6 L577.1 818.9 L578.8 818.2 L580.6 817.8 L582.4 817.6 L584.1 817.5 L585.9 817.7 L587.7 817.9 L589.5 818.0 L591.2 818.0 L593.0 818.0 L594.8 818.0 L596.5 817.9 L598.3 817.7 L600.1 817.5 L601.8 817.1 L603.6 816.8 L605.4 816.5 L607.1 816.4 L608.9 816.2 L610.7 816.0 L612.4 815.7 L614.2 815.3 L616.0 815.0 L617.8 814.8 L619.5 814.6 L621.3 814.4 L623.1 814.1 L624.8 813.6 L626.6 813.1 L628.4 812.7 L630.1 812.1 L631.9 811.5 L633.7 810.8 L635.4 810.0 L637.2 809.2 L639.0 808.2 L640.8 807.5 L642.5 806.9 L644.3 806.3 L646.1 805.7 L647.8 805.3 L649.6 805.0 L651.4 804.7 L653.1 804.4 L654.9 804.2 L656.7 804.0 L658.4 803.8 L660.2 803.5 L662.0 803.1 L663.7 802.6 L665.5 802.1 L667.3 801.8 L669.1 801.6 L670.8 801.4 L672.6 801.3 L674.4 801.0 L676.1 800.8 L677.9 800.5 L679.7 800.5 L681.4 800.5 L683.2 800.5 L685.0 800.6 L686.7 800.6 L688.5 800.4 L690.3 800.1 L692.0 799.8 L693.8 799.6 L695.6 799.5 L697.4 799.5 L699.1 799.4 L700.9 799.1 L702.7 798.7 L704.4 798.3 L706.2 798.1 L708.0 797.9 L709.7 797.6 L711.5 797.1 L713.3 796.5 L715.0 795.7 L716.8 794.8 L718.6 794.1 L720.4 793.4 L722.1 792.7 L723.9 792.2 L725.7 791.7 L727.4 791.0 L729.2 790.0 L731.0 788.8 L732.7 787.4 L734.5 785.9 L736.3 784.9 L738.0 783.8 L739.8 782.5 L741.6 780.8 L743.3 778.9 L745.1 777.0 L746.9 775.1 L748.7 773.4 L750.4 771.9 L752.2 770.4 L754.0 768.9 L755.7 767.3 L757.5 766.4 L759.3 765.3 L761.0 763.9 L762.8 762.2 L764.6 760.4 L766.3 758.3 L768.1 755.9 L769.9 753.0 L771.6 749.2 L773.4 746.0 L775.2 743.5 L777.0 741.2 L778.7 739.3 L780.5 738.2 L782.3 737.5 L784.0 736.6 L785.8 735.2 L787.6 733.2 L789.3 731.0 L791.1 729.7 L792.9 728.0 L794.6 726.6 L796.4 725.4 L798.2 724.5 L800.0 723.5 L801.7 722.6 L803.5 722.2 L805.3 722.2 L807.0 721.8 L808.8 721.9 L810.6 721.9 L812.3 721.6 L814.1 721.2 L815.9 720.3 L817.6 719.4 L819.4 718.5 L821.2 717.5 L822.9 716.4 L824.7 715.2 L826.5 714.5 L828.3 713.9 L830.0 713.3 L831.8 712.4 L833.6 712.0 L835.3 711.3 L837.1 710.6 L838.9 709.6 L840.6 708.5 L842.4 707.3 L844.2 705.8 L845.9 704.5 L847.7 704.0 L849.5 703.3 L851.2 702.6 L853.0 701.8 L854.8 700.8 L856.6 699.7 L858.3 698.4 L860.1 697.1 L861.9 696.0 L863.6 694.8 L865.4 694.1 L867.2 693.5 L868.9 693.0 L870.7 692.3 L872.5 692.1 L874.2 691.8 L876.0 691.5 L877.8 691.2 L879.5 690.6 L881.3 689.9 L883.1 689.1 L884.9 688.7 L886.6 688.2 L888.4 687.7 L890.2 687.4 L891.9 687.0 L893.7 686.0 L895.5 684.9 L897.2 683.5 L899.0 681.9 L900.8 680.3 L902.5 678.6 L904.3 676.7 L906.1 674.5 L907.9 672.0 L909.6 669.2 L911.4 666.7 L913.2 664.5 L914.9 662.2 L916.7 660.7 L918.5 658.8 L920.2 656.9 L922.0 654.8 L923.8 652.2 L925.5 649.1 L927.3 645.7 L929.1 642.4 L930.8 638.9 L932.6 635.6 L934.4 632.3 L936.2 629.2 L937.9 625.6 L939.7 621.7 L941.5 617.6 L943.2 613.9 L945.0 611.4 L946.8 608.9 L948.5 606.6 L950.3 604.3 L952.1 602.4 L953.8 601.0 L955.6 600.4 L957.4 598.9 L959.1 597.1 L960.9 595.2 L962.7 593.6 L964.5 592.5 L966.2 591.6 L968.0 590.1 L969.8 588.5 L971.5 586.5 L973.3 584.2 L975.1 582.4 L976.8 581.0 L978.6 580.2 L980.4 580.8 L982.1 582.0 L983.9 582.6 L985.7 583.2 L987.5 584.6 L989.2 585.2 L991.0 584.8 L992.8 584.4 L994.5 584.5 L996.3 585.2 L998.1 586.6 L999.8 588.7 L1001.6 591.2 L1003.4 593.1 L1005.1 594.6 L1006.9 595.3 L1008.7 595.9 L1010.4 596.6 L1012.2 596.7 L1014.0 596.3 L1015.8 595.6 L1017.5 594.7 L1019.3 594.3 L1021.1 594.2 L1022.8 593.1 L1024.6 591.4 L1026.4 589.3 L1028.1 586.8 L1029.9 584.1 L1031.7 582.1 L1033.4 580.5 L1035.2 578.7 L1037.0 577.1 L1038.7 575.9 L1040.5 575.2 L1042.3 575.0 L1044.1 575.1 L1045.8 574.2 L1047.6 573.6 L1049.4 572.7 L1051.1 571.4 L1052.9 569.7 L1054.7 567.8 L1056.4 566.5 L1058.2 565.4 L1060.0 564.5 L1061.7 563.6 L1063.5 562.9 L1065.3 562.5 L1067.1 561.7 L1068.8 560.7 L1070.6 559.7 L1072.4 558.8 L1074.1 557.8 L1075.9 556.8 L1077.7 555.7 L1079.4 554.0 L1081.2 552.1 L1083.0 550.3 L1084.7 548.6 L1086.5 546.5 L1088.3 544.1 L1090.0 541.7 L1091.8 539.4 L1093.6 537.5 L1095.4 534.3 L1097.1 530.8 L1098.9 527.0 L1100.7 522.8 L1102.4 519.1 L1104.2 516.5 L1106.0 514.1 L1107.7 511.9 L1109.5 509.9 L1111.3 507.3 L1113.0 505.0 L1114.8 503.3 L1116.6 502.2 L1118.3 501.0 L1120.1 499.3 L1121.9 497.4 L1123.7 495.6 L1125.4 493.4 L1127.2 492.0 L1129.0 490.6 L1130.7 489.0 L1132.5 487.1 L1134.3 484.8 L1136.0 483.1 L1137.8 480.9 L1139.6 478.2 L1141.3 475.2 L1143.1 472.1 L1144.9 469.9 L1146.7 467.3 L1148.4 464.6 L1150.2 461.6 L1152.0 458.4 L1153.7 455.5 L1155.5 453.3 L1157.3 451.5 L1159.0 449.9 L1160.8 448.5 L1162.6 447.4 L1164.3 445.7 L1166.1 443.9 L1167.9 441.9 L1169.6 439.8 L1171.4 437.7 L1173.2 435.4 L1175.0 432.7 L1176.7 429.7 L1178.5 426.2 L1180.3 422.3 L1182.0 418.7 L1183.8 415.9 L1185.6 412.2 L1187.3 408.4 L1189.1 405.1 L1190.9 402.2 L1192.6 399.2 L1194.4 395.4 L1196.2 392.4 L1197.9 389.6 L1199.7 386.7 L1201.5 383.3 L1203.3 381.1 L1205.0 379.2 L1206.8 377.5 L1208.6 376.0 L1210.3 374.2 L1212.1 372.0 L1213.9 369.6 L1215.6 366.9 L1217.4 364.0 L1219.2 361.4 L1220.9 358.9 L1222.7 356.3 L1224.5 353.3 L1226.2 350.0 L1228.0 346.5 L1229.8 342.5 L1231.6 338.1 L1233.3 334.7 L1235.1 331.6 L1236.9 328.3 L1238.6 324.8 L1240.4 321.5 L1242.2 318.2 L1243.9 315.3 L1245.7 313.0 L1247.5 311.1 L1249.2 308.0 L1251.0 304.3 L1252.8 300.5 L1254.6 296.1 L1256.3 290.3 L1258.1 283.1 L1259.9 275.3 L1261.6 267.8 L1263.4 260.0 L1265.2 253.2 L1266.9 247.5 L1268.7 244.2 L1270.5 242.0 L1272.2 239.5 L1274.0 237.0 L1275.8 234.1 L1277.5 230.2 L1279.3 226.1 L1281.1 222.0 L1282.9 219.0 L1284.6 216.3 L1286.4 213.4 L1288.2 212.0 L1289.9 211.7 L1291.7 211.5 L1293.5 211.9 L1295.2 211.2 L1297.0 209.9 L1298.8 207.6 L1300.5 204.9 L1302.3 202.4 L1304.1 200.3 L1305.8 197.8 L1307.6 195.0 L1309.4 193.2 L1311.2 191.9 L1312.9 191.3 L1314.7 190.7 L1316.5 190.5 L1318.2 190.2 L1320.0 189.8 L1321.8 189.4 L1323.5 189.0 L1325.3 189.4 L1327.1 190.6 L1328.8 191.5 L1330.6 192.8 L1332.4 193.0 L1334.2 193.4 L1335.9 194.1 L1337.7 195.1 L1339.5 195.8 L1341.2 196.6 L1343.0 197.2 L1344.8 197.9 L1346.5 198.1 L1348.3 198.5 L1350.1 198.3 L1351.8 197.6 L1353.6 196.5 L1355.4 194.9 L1357.1 192.5 L1358.9 189.7 L1360.7 187.0 L1362.5 184.4 L1364.2 181.8 L1366.0 179.8 L1367.8 178.4 L1369.5 177.4 L1371.3 176.8 L1373.1 175.6 L1374.8 174.4 L1376.6 172.6 L1378.4 171.6 L1380.1 171.1 L1381.9 170.9 L1383.7 171.2 L1385.4 171.5 L1387.2 171.9 L1389.0 172.0 L1390.8 171.9 L1392.5 172.1 L1394.3 172.2 L1396.1 172.5 L1397.8 173.6 L1399.6 175.1 L1401.4 176.9 L1403.1 178.4 L1404.9 179.7 L1406.7 180.6 L1408.4 181.8 L1410.2 183.2 L1412.0 186.4 L1413.8 190.7 L1415.5 194.2 L1417.3 197.2 L1419.1 201.2 L1420.8 206.1 L1422.6 210.4 L1424.4 214.5 L1426.1 218.4 L1427.9 222.5 L1429.7 228.0 L1431.4 234.3 L1433.2 240.7 L1435.0 245.9 L1436.7 250.3 L1438.5 253.9 L1440.3 257.7 L1442.1 260.4 L1443.8 262.6 L1445.6 264.5 L1447.4 266.4 L1449.1 268.7 L1450.9 271.6 L1452.7 274.4 L1454.4 277.1 L1456.2 280.1 L1458.0 283.6 L1459.7 286.0 L1461.5 287.8 L1463.3 290.2 L1465.0 293.1 L1466.8 296.2 L1468.6 299.7 L1470.4 303.0 L1472.1 306.5 L1473.9 310.0 L1475.7 313.8 L1477.4 317.2 L1479.2 320.1 L1481.0 322.6 L1482.7 325.0 L1484.5 327.0 L1486.3 329.4 L1488.0 330.9 L1489.8 331.9 L1491.6 332.5 L1493.4 333.0 L1495.1 333.2 L1496.9 332.8 L1498.7 333.3 L1500.4 334.4 L1502.2 335.1 L1504.0 335.8 L1505.7 336.8 L1507.5 337.8 L1509.3 338.8 L1511.0 339.6 L1512.8 340.5 L1514.6 341.6 L1516.3 343.2 L1518.1 344.8 L1519.9 345.5 L1521.7 345.8 L1523.4 346.0 L1525.2 346.0 L1527.0 345.8 L1528.7 346.0 L1530.5 346.3 L1532.3 346.6 L1534.0 347.2 L1535.8 347.6 L1537.6 348.4 L1539.3 349.1 L1541.1 350.3 L1542.9 352.1 L1544.6 354.0 L1546.4 355.8 L1548.2 358.3 L1550.0 359.8 L1551.7 361.1 L1553.5 362.4 L1555.3 364.9 L1557.0 366.9 L1558.8 368.8 L1560.6 370.3 L1562.3 372.6 L1564.1 374.0 L1565.9 374.9 L1567.6 376.3 L1569.4 377.8 L1571.2 379.2 L1572.9 379.8 L1574.7 379.3 L1576.5 378.6 L1578.3 378.2 L1580.0 378.6 L1581.8 379.4 L1583.6 380.5 L1585.3 381.3 L1587.1 382.9 L1588.9 384.7 L1590.6 386.0 L1592.4 387.0 L1594.2 387.8 L1595.9 388.5 L1597.7 389.3 L1599.5 390.4 L1601.3 391.7 L1603.0 392.7 L1604.8 392.8 L1606.6 393.5 L1608.3 394.4 L1610.1 395.5 L1611.9 396.3 L1613.6 396.9 L1615.4 397.9 L1617.2 399.0 L1618.9 400.5 L1620.7 402.3 L1622.5 404.5 L1624.2 406.8 L1626.0 409.0 L1627.8 410.4 L1629.6 411.1 L1631.3 412.2 L1633.1 413.8 L1634.9 415.4 L1636.6 416.4 L1638.4 417.1 L1640.2 418.1 L1641.9 418.3 L1643.7 418.4 L1645.5 418.9 L1647.2 419.8 L1649.0 421.3 L1650.8 423.1 L1652.5 425.1 L1654.3 427.4 L1656.1 428.8 L1657.9 430.7 L1659.6 432.5 L1661.4 434.1 L1663.2 435.9 L1664.9 436.9 L1666.7 438.0 L1668.5 438.9 L1670.2 439.0 L1672.0 438.1 L1673.8 436.2 L1675.5 434.7 L1677.3 433.2 L1679.1 431.0 L1680.9 429.1 L1682.6 427.4 L1684.4 426.3 L1686.2 425.0 L1687.9 423.7 L1689.7 422.5 L1691.5 421.3 L1693.2 418.9 L1695.0 416.8 L1696.8 415.1 L1698.5 413.9 L1700.3 413.4 L1702.1 412.4 L1703.8 410.7 L1705.6 408.6 L1707.4 406.2 L1709.2 403.5 L1710.9 400.4 L1712.7 397.6 L1714.5 395.6 L1716.2 393.1 L1718.0 391.0 L1719.8 389.0 L1721.5 386.9 L1723.3 385.4 L1725.1 383.8 L1726.8 382.3 L1728.6 381.2 L1730.4 379.5 L1732.1 378.2 L1733.9 377.9 L1735.7 378.2 L1737.5 378.2 L1739.2 377.9 L1741.0 377.2 L1742.8 377.9 L1744.5 379.0 L1746.3 380.4 L1748.1 382.0 L1749.8 383.8 L1751.6 386.0 L1753.4 388.2 L1755.1 390.1 L1756.9 391.5 L1758.7 392.4 L1760.5 392.8 L1762.2 393.7 L1764.0 394.0 L1765.8 393.9 L1767.5 393.7 L1769.3 393.2 L1771.1 393.5 L1772.8 394.0 L1774.6 393.8 L1776.4 393.4 L1778.1 393.1 L1779.9 392.7 L1781.7 391.6 L1783.4 390.6 L1785.2 389.9 L1787.0 390.0 L1788.8 390.2 L1790.5 389.9 L1792.3 389.3 L1794.1 388.5 L1795.8 388.0 L1797.6 387.7 L1799.4 387.5 L1801.1 387.6 L1802.9 388.3 L1804.7 388.5 L1806.4 388.2 L1808.2 387.7 L1810.0 387.1 L1811.7 386.3 L1813.5 385.4 L1815.3 384.4 L1817.1 382.9 L1818.8 381.0 L1820.6 379.6" fill="none" stroke="#ee3f47" stroke-width="1" stroke-linejoin="round" shape-rendering="crispEdges"/>
<rect x="1404.5" y="0" width="2" height="940" fill="#ffd966"/>
<rect x="245" y="743.3" width="1635" height="2.4" fill="#ff9800"/>
<circle cx="1405.5" cy="739.6" r="17.3" fill="rgba(156,39,224,0.1)" stroke="#9b2cf0" stroke-width="1.2"/>
<rect x="1882" y="0" width="51" height="959" fill="#fff"/>
<rect x="0" y="942" width="1933" height="17" fill="#fff"/>
<rect x="1881" y="0" width="1.1" height="942" fill="#4f4f4f"/>
<rect x="0" y="941" width="1882" height="1.1" fill="#4f4f4f"/>
<g font-family="'Liberation Sans', Arial, sans-serif" font-size="11" fill="#555">
<rect x="1882" y="0" width="3" height="1" fill="#4f4f4f"/>
<text x="1888.3" y="4.8">520.00%</text>
<rect x="1882" y="33" width="3" height="1" fill="#4f4f4f"/>
<text x="1888.3" y="37.8">500.00%</text>
<rect x="1882" y="66" width="3" height="1" fill="#4f4f4f"/>
<text x="1888.3" y="70.8">480.00%</text>
<rect x="1882" y="98" width="3" height="1" fill="#4f4f4f"/>
<text x="1888.3" y="102.8">460.00%</text>
<rect x="1882" y="131" width="3" height="1" fill="#4f4f4f"/>
<text x="1888.3" y="135.8">440.00%</text>
<rect x="1882" y="164" width="3" height="1" fill="#4f4f4f"/>
<text x="1888.3" y="168.8">420.00%</text>
<rect x="1882" y="196" width="3" height="1" fill="#4f4f4f"/>
<text x="1888.3" y="200.8">400.00%</text>
<rect x="1882" y="229" width="3" height="1" fill="#4f4f4f"/>
<text x="1888.3" y="233.8">380.00%</text>
<rect x="1882" y="262" width="3" height="1" fill="#4f4f4f"/>
<text x="1888.3" y="266.8">360.00%</text>
<rect x="1882" y="294" width="3" height="1" fill="#4f4f4f"/>
<text x="1888.3" y="298.8">340.00%</text>
<rect x="1882" y="327" width="3" height="1" fill="#4f4f4f"/>
<text x="1888.3" y="331.8">320.00%</text>
<rect x="1882" y="360" width="3" height="1" fill="#4f4f4f"/>
<text x="1888.3" y="364.8">300.00%</text>
<rect x="1882" y="392" width="3" height="1" fill="#4f4f4f"/>
<text x="1888.3" y="396.8">280.00%</text>
<rect x="1882" y="425" width="3" height="1" fill="#4f4f4f"/>
<text x="1888.3" y="429.8">260.00%</text>
<rect x="1882" y="458" width="3" height="1" fill="#4f4f4f"/>
<text x="1888.3" y="462.8">240.00%</text>
<rect x="1882" y="490" width="3" height="1" fill="#4f4f4f"/>
<text x="1888.3" y="494.8">220.00%</text>
<rect x="1882" y="523" width="3" height="1" fill="#4f4f4f"/>
<text x="1888.3" y="527.8">200.00%</text>
<rect x="1882" y="556" width="3" height="1" fill="#4f4f4f"/>
<text x="1888.3" y="560.8">180.00%</text>
<rect x="1882" y="588" width="3" height="1" fill="#4f4f4f"/>
<text x="1888.3" y="592.8">160.00%</text>
<rect x="1882" y="621" width="3" height="1" fill="#4f4f4f"/>
<text x="1888.3" y="625.8">140.00%</text>
<rect x="1882" y="654" width="3" height="1" fill="#4f4f4f"/>
<text x="1888.3" y="658.8">120.00%</text>
<rect x="1882" y="686" width="3" height="1" fill="#4f4f4f"/>
<text x="1888.3" y="690.8">100.00%</text>
<rect x="1882" y="719" width="3" height="1" fill="#4f4f4f"/>
<text x="1888.3" y="723.8">80.00%</text>
<rect x="1882" y="751" width="3" height="1" fill="#4f4f4f"/>
<text x="1888.3" y="755.8">60.00%</text>
<rect x="1882" y="784" width="3" height="1" fill="#4f4f4f"/>
<text x="1888.3" y="788.8">40.00%</text>
<rect x="1882" y="817" width="3" height="1" fill="#4f4f4f"/>
<text x="1888.3" y="821.8">20.00%</text>
<rect x="1882" y="849" width="3" height="1" fill="#4f4f4f"/>
<text x="1888.3" y="853.8">0.00%</text>
<rect x="1882" y="882" width="3" height="1" fill="#4f4f4f"/>
<text x="1888.3" y="886.8">-20.00%</text>
<rect x="1882" y="915" width="3" height="1" fill="#4f4f4f"/>
<text x="1888.3" y="919.8">-40.00%</text>
</g>
<g font-family="'Liberation Sans', Arial, sans-serif" font-size="11" font-weight="bold" fill="#555" text-anchor="middle">
<rect x="31" y="941" width="1" height="4" fill="#4f4f4f"/>
<text x="31.5" y="955.7">1998</text>
<rect x="109" y="941" width="1" height="4" fill="#4f4f4f"/>
<text x="109.4" y="955.7" font-weight="normal">Mar</text>
<rect x="187" y="941" width="1" height="4" fill="#4f4f4f"/>
<text x="187.3" y="955.7">2000</text>
<rect x="279" y="941" width="1" height="4" fill="#4f4f4f"/>
<text x="279.2" y="955.7">2001</text>
<rect x="373" y="941" width="1" height="4" fill="#4f4f4f"/>
<text x="373.0" y="955.7">2002</text>
<rect x="465" y="941" width="1" height="4" fill="#4f4f4f"/>
<text x="465.4" y="955.7">2003</text>
<rect x="557" y="941" width="1" height="4" fill="#4f4f4f"/>
<text x="557.8" y="955.7">2004</text>
<rect x="650" y="941" width="1" height="4" fill="#4f4f4f"/>
<text x="650.0" y="955.7">2005</text>
<rect x="741" y="941" width="1" height="4" fill="#4f4f4f"/>
<text x="741.6" y="955.7">2006</text>
<rect x="833" y="941" width="1" height="4" fill="#4f4f4f"/>
<text x="833.6" y="955.7">2007</text>
<rect x="927" y="941" width="1" height="4" fill="#4f4f4f"/>
<text x="927.0" y="955.7">2008</text>
<rect x="1019" y="941" width="1" height="4" fill="#4f4f4f"/>
<text x="1019.4" y="955.7">2009</text>
<rect x="1111" y="941" width="1" height="4" fill="#4f4f4f"/>
<text x="1111.4" y="955.7">2010</text>
<rect x="1203" y="941" width="1" height="4" fill="#4f4f4f"/>
<text x="1203.8" y="955.7">2011</text>
<rect x="1295" y="941" width="1" height="4" fill="#4f4f4f"/>
<text x="1295.5" y="955.7">2012</text>
<rect x="1389" y="941" width="1" height="4" fill="#4f4f4f"/>
<rect x="1481" y="941" width="1" height="4" fill="#4f4f4f"/>
<text x="1481.5" y="955.7">2014</text>
<rect x="1573" y="941" width="1" height="4" fill="#4f4f4f"/>
<text x="1573.5" y="955.7">2015</text>
<rect x="1665" y="941" width="1" height="4" fill="#4f4f4f"/>
<text x="1665.5" y="955.7">2016</text>
<rect x="1758" y="941" width="1" height="4" fill="#4f4f4f"/>
<text x="1758.5" y="955.7">2017</text>
<rect x="1850" y="941" width="1" height="4" fill="#4f4f4f"/>
<text x="1850.5" y="955.7">2018</text>
</g>
<rect x="1373" y="941" width="64" height="18" fill="#ffd966"/><rect x="1405" y="941" width="1" height="4" fill="#000"/>
<text x="1405" y="955.7" font-family="'Liberation Sans', Arial, sans-serif" font-size="11" font-weight="bold" fill="#111" text-anchor="middle">2013-03-11</text>
<rect x="1840" y="342" width="40" height="16" fill="#3b75d9"/>
<rect x="1881" y="342" width="52" height="16" fill="#3b75d9"/>
<rect x="1881" y="349" width="3.5" height="1" fill="#fff"/>
<g font-family="'Liberation Sans', Arial, sans-serif" font-size="11" font-weight="bold" fill="#fff">
<text x="1860.0" y="353.7" text-anchor="middle">GOLD</text>
<text x="1888.3" y="353.7">306.77%</text></g>
<rect x="1849" y="564" width="31" height="16" fill="#000"/>
<rect x="1881" y="564" width="52" height="16" fill="#000"/>
<rect x="1881" y="571" width="3.5" height="1" fill="#fff"/>
<g font-family="'Liberation Sans', Arial, sans-serif" font-size="11" font-weight="bold" fill="#fff">
<text x="1864.5" y="575.7" text-anchor="middle">SPX</text>
<text x="1888.3" y="575.7">170.52%</text></g>
<rect x="1881" y="737" width="49" height="16" fill="#ff9800"/><rect x="1881" y="744" width="4" height="1" fill="#000"/>
<text x="1888.3" y="748.8" font-family="'Liberation Sans', Arial, sans-serif" font-size="11" fill="#111">64.59%</text>
<circle cx="1867" cy="16.9" r="7.1" fill="none" stroke="#f5923e" stroke-width="1.3"/>
<rect x="1866" y="12.9" width="2" height="5.9" fill="#f5923e"/><rect x="1866" y="20" width="2" height="1.1" fill="#f5923e"/>
<rect x="3.5" y="12.5" width="12" height="11" rx="1.5" fill="#fff" stroke="#555" stroke-width="1"/><rect x="6" y="17.5" width="7" height="1" fill="#555"/>
<text x="22.5" y="23.6" font-family="'Liberation Sans', Arial, sans-serif" font-size="17" fill="#444" stroke="#444" stroke-width="0.25" textLength="181.5" lengthAdjust="spacingAndGlyphs">GOLD (US$/OZ), W, TVC</text>
<path d="M209.5 16 L217.5 16 L213.5 20.5Z" fill="#bbb"/>
<g transform="translate(227 11)"><rect width="14" height="14" fill="rgba(140,140,140,0.36)"/><path d="M2.3 7 C3.9 1.8 10.1 1.8 11.7 7 C10.1 12.2 3.9 12.2 2.3 7Z" fill="none" stroke="#fff" stroke-width="1.4"/><circle cx="7" cy="7" r="1.6" fill="#fff"/></g>
<g transform="translate(244 11)"><rect width="14" height="14" fill="rgba(140,140,140,0.36)"/><g stroke="#fff" stroke-width="2" stroke-linecap="butt"><line x1="9.60" y1="7.00" x2="12.20" y2="7.00"/><line x1="8.84" y1="8.84" x2="10.68" y2="10.68"/><line x1="7.00" y1="9.60" x2="7.00" y2="12.20"/><line x1="5.16" y1="8.84" x2="3.32" y2="10.68"/><line x1="4.40" y1="7.00" x2="1.80" y2="7.00"/><line x1="5.16" y1="5.16" x2="3.32" y2="3.32"/><line x1="7.00" y1="4.40" x2="7.00" y2="1.80"/><line x1="8.84" y1="5.16" x2="10.68" y2="3.32"/></g><circle cx="7" cy="7" r="2.9" fill="none" stroke="#fff" stroke-width="1.7"/></g>
<text x="266.3" y="24" font-family="'Liberation Sans', Arial, sans-serif" font-size="14.6" fill="#555">O</text>
<text x="278.7" y="24" font-family="'Liberation Sans', Arial, sans-serif" font-size="14.6" fill="#3c78d8" textLength="50.3" lengthAdjust="spacingAndGlyphs">1346.26</text>
<text x="339.9" y="24" font-family="'Liberation Sans', Arial, sans-serif" font-size="14.6" fill="#555">H</text>
<text x="350.7" y="24" font-family="'Liberation Sans', Arial, sans-serif" font-size="14.6" fill="#3c78d8" textLength="51.3" lengthAdjust="spacingAndGlyphs">1346.61</text>
<text x="412.8" y="24" font-family="'Liberation Sans', Arial, sans-serif" font-size="14.6" fill="#555">L</text>
<text x="422" y="24" font-family="'Liberation Sans', Arial, sans-serif" font-size="14.6" fill="#3c78d8" textLength="52.0" lengthAdjust="spacingAndGlyphs">1319.10</text>
<text x="483.5" y="24" font-family="'Liberation Sans', Arial, sans-serif" font-size="14.6" fill="#555">C</text>
<text x="495" y="24" font-family="'Liberation Sans', Arial, sans-serif" font-size="14.6" fill="#3c78d8" textLength="50.6" lengthAdjust="spacingAndGlyphs">1319.96</text>
<text x="3" y="42.8" font-family="'Liberation Sans', Arial, sans-serif" font-size="12.8" fill="#555" textLength="82" lengthAdjust="spacingAndGlyphs">MA (200, close)</text>
<path d="M89 37 L97 37 L93 41.5Z" fill="#bbb"/>
<g transform="translate(107 32)"><rect width="14" height="14" fill="rgba(140,140,140,0.36)"/><path d="M2.3 7 C3.9 1.8 10.1 1.8 11.7 7 C10.1 12.2 3.9 12.2 2.3 7Z" fill="none" stroke="#fff" stroke-width="1.4"/><circle cx="7" cy="7" r="1.6" fill="#fff"/></g>
<g transform="translate(124 32)"><rect width="14" height="14" fill="rgba(140,140,140,0.36)"/><g stroke="#fff" stroke-width="2" stroke-linecap="butt"><line x1="9.60" y1="7.00" x2="12.20" y2="7.00"/><line x1="8.84" y1="8.84" x2="10.68" y2="10.68"/><line x1="7.00" y1="9.60" x2="7.00" y2="12.20"/><line x1="5.16" y1="8.84" x2="3.32" y2="10.68"/><line x1="4.40" y1="7.00" x2="1.80" y2="7.00"/><line x1="5.16" y1="5.16" x2="3.32" y2="3.32"/><line x1="7.00" y1="4.40" x2="7.00" y2="1.80"/><line x1="8.84" y1="5.16" x2="10.68" y2="3.32"/></g><circle cx="7" cy="7" r="2.9" fill="none" stroke="#fff" stroke-width="1.7"/></g>
<g transform="translate(141 32)"><rect width="14" height="14" fill="rgba(140,140,140,0.36)"/><rect x="6" y="3" width="2" height="8" fill="#fff"/><rect x="3" y="6" width="8" height="2" fill="#fff"/></g>
<g transform="translate(158 32)"><rect width="14" height="14" fill="rgba(140,140,140,0.36)"/><path d="M2.6 2.6 L11.4 11.4 M11.4 2.6 L2.6 11.4" stroke="#fff" stroke-width="1.3" fill="none"/></g>
<text x="180.7" y="42.8" font-family="'Liberation Sans', Arial, sans-serif" font-size="12.6" fill="#3a84b5" textLength="53.5" lengthAdjust="spacingAndGlyphs">1230.5141</text>
<text x="3" y="62.8" font-family="'Liberation Sans', Arial, sans-serif" font-size="12.8" fill="#555" textLength="82" lengthAdjust="spacingAndGlyphs">EMA (20, close)</text>
<path d="M89 57 L97 57 L93 61.5Z" fill="#bbb"/>
<g transform="translate(107 52)"><rect width="14" height="14" fill="rgba(140,140,140,0.36)"/><path d="M2.3 7 C3.9 1.8 10.1 1.8 11.7 7 C10.1 12.2 3.9 12.2 2.3 7Z" fill="none" stroke="#fff" stroke-width="1.4"/><circle cx="7" cy="7" r="1.6" fill="#fff"/></g>
<g transform="translate(124 52)"><rect width="14" height="14" fill="rgba(140,140,140,0.36)"/><g stroke="#fff" stroke-width="2" stroke-linecap="butt"><line x1="9.60" y1="7.00" x2="12.20" y2="7.00"/><line x1="8.84" y1="8.84" x2="10.68" y2="10.68"/><line x1="7.00" y1="9.60" x2="7.00" y2="12.20"/><line x1="5.16" y1="8.84" x2="3.32" y2="10.68"/><line x1="4.40" y1="7.00" x2="1.80" y2="7.00"/><line x1="5.16" y1="5.16" x2="3.32" y2="3.32"/><line x1="7.00" y1="4.40" x2="7.00" y2="1.80"/><line x1="8.84" y1="5.16" x2="10.68" y2="3.32"/></g><circle cx="7" cy="7" r="2.9" fill="none" stroke="#fff" stroke-width="1.7"/></g>
<g transform="translate(141 52)"><rect width="14" height="14" fill="rgba(140,140,140,0.36)"/><rect x="6" y="3" width="2" height="8" fill="#fff"/><rect x="3" y="6" width="8" height="2" fill="#fff"/></g>
<g transform="translate(158 52)"><rect width="14" height="14" fill="rgba(140,140,140,0.36)"/><path d="M2.6 2.6 L11.4 11.4 M11.4 2.6 L2.6 11.4" stroke="#fff" stroke-width="1.3" fill="none"/></g>
<text x="180.7" y="62.8" font-family="'Liberation Sans', Arial, sans-serif" font-size="12.6" fill="#f9e84a" textLength="53.5" lengthAdjust="spacingAndGlyphs">1277.0746</text>
<text x="3" y="82.8" font-family="'Liberation Sans', Arial, sans-serif" font-size="12.8" fill="#555" textLength="82" lengthAdjust="spacingAndGlyphs">EMA (25, close)</text>
<path d="M89 77 L97 77 L93 81.5Z" fill="#bbb"/>
<g transform="translate(107 72)"><rect width="14" height="14" fill="rgba(140,140,140,0.36)"/><path d="M2.3 7 C3.9 1.8 10.1 1.8 11.7 7 C10.1 12.2 3.9 12.2 2.3 7Z" fill="none" stroke="#fff" stroke-width="1.4"/><circle cx="7" cy="7" r="1.6" fill="#fff"/></g>
<g transform="translate(124 72)"><rect width="14" height="14" fill="rgba(140,140,140,0.36)"/><g stroke="#fff" stroke-width="2" stroke-linecap="butt"><line x1="9.60" y1="7.00" x2="12.20" y2="7.00"/><line x1="8.84" y1="8.84" x2="10.68" y2="10.68"/><line x1="7.00" y1="9.60" x2="7.00" y2="12.20"/><line x1="5.16" y1="8.84" x2="3.32" y2="10.68"/><line x1="4.40" y1="7.00" x2="1.80" y2="7.00"/><line x1="5.16" y1="5.16" x2="3.32" y2="3.32"/><line x1="7.00" y1="4.40" x2="7.00" y2="1.80"/><line x1="8.84" y1="5.16" x2="10.68" y2="3.32"/></g><circle cx="7" cy="7" r="2.9" fill="none" stroke="#fff" stroke-width="1.7"/></g>
<g transform="translate(141 72)"><rect width="14" height="14" fill="rgba(140,140,140,0.36)"/><rect x="6" y="3" width="2" height="8" fill="#fff"/><rect x="3" y="6" width="8" height="2" fill="#fff"/></g>
<g transform="translate(158 72)"><rect width="14" height="14" fill="rgba(140,140,140,0.36)"/><path d="M2.6 2.6 L11.4 11.4 M11.4 2.6 L2.6 11.4" stroke="#fff" stroke-width="1.3" fill="none"/></g>
<text x="180.7" y="82.8" font-family="'Liberation Sans', Arial, sans-serif" font-size="12.6" fill="#f6b26b" textLength="53.5" lengthAdjust="spacingAndGlyphs">1271.6231</text>
<text x="3" y="102.8" font-family="'Liberation Sans', Arial, sans-serif" font-size="12.8" fill="#555" textLength="82" lengthAdjust="spacingAndGlyphs">EMA (30, close)</text>
<path d="M89 97 L97 97 L93 101.5Z" fill="#bbb"/>
<g transform="translate(107 92)"><rect width="14" height="14" fill="rgba(140,140,140,0.36)"/><path d="M2.3 7 C3.9 1.8 10.1 1.8 11.7 7 C10.1 12.2 3.9 12.2 2.3 7Z" fill="none" stroke="#fff" stroke-width="1.4"/><circle cx="7" cy="7" r="1.6" fill="#fff"/></g>
<g transform="translate(124 92)"><rect width="14" height="14" fill="rgba(140,140,140,0.36)"/><g stroke="#fff" stroke-width="2" stroke-linecap="butt"><line x1="9.60" y1="7.00" x2="12.20" y2="7.00"/><line x1="8.84" y1="8.84" x2="10.68" y2="10.68"/><line x1="7.00" y1="9.60" x2="7.00" y2="12.20"/><line x1="5.16" y1="8.84" x2="3.32" y2="10.68"/><line x1="4.40" y1="7.00" x2="1.80" y2="7.00"/><line x1="5.16" y1="5.16" x2="3.32" y2="3.32"/><line x1="7.00" y1="4.40" x2="7.00" y2="1.80"/><line x1="8.84" y1="5.16" x2="10.68" y2="3.32"/></g><circle cx="7" cy="7" r="2.9" fill="none" stroke="#fff" stroke-width="1.7"/></g>
<g transform="translate(141 92)"><rect width="14" height="14" fill="rgba(140,140,140,0.36)"/><rect x="6" y="3" width="2" height="8" fill="#fff"/><rect x="3" y="6" width="8" height="2" fill="#fff"/></g>
<g transform="translate(158 92)"><rect width="14" height="14" fill="rgba(140,140,140,0.36)"/><path d="M2.6 2.6 L11.4 11.4 M11.4 2.6 L2.6 11.4" stroke="#fff" stroke-width="1.3" fill="none"/></g>
<text x="180.7" y="102.8" font-family="'Liberation Sans', Arial, sans-serif" font-size="12.6" fill="#f5a142" textLength="53.5" lengthAdjust="spacingAndGlyphs">1267.5444</text>
<text x="3" y="122.8" font-family="'Liberation Sans', Arial, sans-serif" font-size="12.8" fill="#555" textLength="82" lengthAdjust="spacingAndGlyphs">EMA (35, close)</text>
<path d="M89 117 L97 117 L93 121.5Z" fill="#bbb"/>
<g transform="translate(107 112)"><rect width="14" height="14" fill="rgba(140,140,140,0.36)"/><path d="M2.3 7 C3.9 1.8 10.1 1.8 11.7 7 C10.1 12.2 3.9 12.2 2.3 7Z" fill="none" stroke="#fff" stroke-width="1.4"/><circle cx="7" cy="7" r="1.6" fill="#fff"/></g>
<g transform="translate(124 112)"><rect width="14" height="14" fill="rgba(140,140,140,0.36)"/><g stroke="#fff" stroke-width="2" stroke-linecap="butt"><line x1="9.60" y1="7.00" x2="12.20" y2="7.00"/><line x1="8.84" y1="8.84" x2="10.68" y2="10.68"/><line x1="7.00" y1="9.60" x2="7.00" y2="12.20"/><line x1="5.16" y1="8.84" x2="3.32" y2="10.68"/><line x1="4.40" y1="7.00" x2="1.80" y2="7.00"/><line x1="5.16" y1="5.16" x2="3.32" y2="3.32"/><line x1="7.00" y1="4.40" x2="7.00" y2="1.80"/><line x1="8.84" y1="5.16" x2="10.68" y2="3.32"/></g><circle cx="7" cy="7" r="2.9" fill="none" stroke="#fff" stroke-width="1.7"/></g>
<g transform="translate(141 112)"><rect width="14" height="14" fill="rgba(140,140,140,0.36)"/><rect x="6" y="3" width="2" height="8" fill="#fff"/><rect x="3" y="6" width="8" height="2" fill="#fff"/></g>
<g transform="translate(158 112)"><rect width="14" height="14" fill="rgba(140,140,140,0.36)"/><path d="M2.6 2.6 L11.4 11.4 M11.4 2.6 L2.6 11.4" stroke="#fff" stroke-width="1.3" fill="none"/></g>
<text x="180.7" y="122.8" font-family="'Liberation Sans', Arial, sans-serif" font-size="12.6" fill="#f07a4a" textLength="53.5" lengthAdjust="spacingAndGlyphs">1264.3210</text>
<text x="3" y="142.8" font-family="'Liberation Sans', Arial, sans-serif" font-size="12.8" fill="#555" textLength="82" lengthAdjust="spacingAndGlyphs">EMA (40, close)</text>
<path d="M89 137 L97 137 L93 141.5Z" fill="#bbb"/>
<g transform="translate(107 132)"><rect width="14" height="14" fill="rgba(140,140,140,0.36)"/><path d="M2.3 7 C3.9 1.8 10.1 1.8 11.7 7 C10.1 12.2 3.9 12.2 2.3 7Z" fill="none" stroke="#fff" stroke-width="1.4"/><circle cx="7" cy="7" r="1.6" fill="#fff"/></g>
<g transform="translate(124 132)"><rect width="14" height="14" fill="rgba(140,140,140,0.36)"/><g stroke="#fff" stroke-width="2" stroke-linecap="butt"><line x1="9.60" y1="7.00" x2="12.20" y2="7.00"/><line x1="8.84" y1="8.84" x2="10.68" y2="10.68"/><line x1="7.00" y1="9.60" x2="7.00" y2="12.20"/><line x1="5.16" y1="8.84" x2="3.32" y2="10.68"/><line x1="4.40" y1="7.00" x2="1.80" y2="7.00"/><line x1="5.16" y1="5.16" x2="3.32" y2="3.32"/><line x1="7.00" y1="4.40" x2="7.00" y2="1.80"/><line x1="8.84" y1="5.16" x2="10.68" y2="3.32"/></g><circle cx="7" cy="7" r="2.9" fill="none" stroke="#fff" stroke-width="1.7"/></g>
<g transform="translate(141 132)"><rect width="14" height="14" fill="rgba(140,140,140,0.36)"/><rect x="6" y="3" width="2" height="8" fill="#fff"/><rect x="3" y="6" width="8" height="2" fill="#fff"/></g>
<g transform="translate(158 132)"><rect width="14" height="14" fill="rgba(140,140,140,0.36)"/><path d="M2.6 2.6 L11.4 11.4 M11.4 2.6 L2.6 11.4" stroke="#fff" stroke-width="1.3" fill="none"/></g>
<text x="180.7" y="142.8" font-family="'Liberation Sans', Arial, sans-serif" font-size="12.6" fill="#f0564f" textLength="53.5" lengthAdjust="spacingAndGlyphs">1261.6278</text>
<text x="3" y="162.8" font-family="'Liberation Sans', Arial, sans-serif" font-size="12.8" fill="#555" textLength="82" lengthAdjust="spacingAndGlyphs">EMA (45, close)</text>
<path d="M89 157 L97 157 L93 161.5Z" fill="#bbb"/>
<g transform="translate(107 152)"><rect width="14" height="14" fill="rgba(140,140,140,0.36)"/><path d="M2.3 7 C3.9 1.8 10.1 1.8 11.7 7 C10.1 12.2 3.9 12.2 2.3 7Z" fill="none" stroke="#fff" stroke-width="1.4"/><circle cx="7" cy="7" r="1.6" fill="#fff"/></g>
<g transform="translate(124 152)"><rect width="14" height="14" fill="rgba(140,140,140,0.36)"/><g stroke="#fff" stroke-width="2" stroke-linecap="butt"><line x1="9.60" y1="7.00" x2="12.20" y2="7.00"/><line x1="8.84" y1="8.84" x2="10.68" y2="10.68"/><line x1="7.00" y1="9.60" x2="7.00" y2="12.20"/><line x1="5.16" y1="8.84" x2="3.32" y2="10.68"/><line x1="4.40" y1="7.00" x2="1.80" y2="7.00"/><line x1="5.16" y1="5.16" x2="3.32" y2="3.32"/><line x1="7.00" y1="4.40" x2="7.00" y2="1.80"/><line x1="8.84" y1="5.16" x2="10.68" y2="3.32"/></g><circle cx="7" cy="7" r="2.9" fill="none" stroke="#fff" stroke-width="1.7"/></g>
<g transform="translate(141 152)"><rect width="14" height="14" fill="rgba(140,140,140,0.36)"/><rect x="6" y="3" width="2" height="8" fill="#fff"/><rect x="3" y="6" width="8" height="2" fill="#fff"/></g>
<g transform="translate(158 152)"><rect width="14" height="14" fill="rgba(140,140,140,0.36)"/><path d="M2.6 2.6 L11.4 11.4 M11.4 2.6 L2.6 11.4" stroke="#fff" stroke-width="1.3" fill="none"/></g>
<text x="180.7" y="162.8" font-family="'Liberation Sans', Arial, sans-serif" font-size="12.6" fill="#f06f3c" textLength="53.5" lengthAdjust="spacingAndGlyphs">1259.2800</text>
<text x="3" y="182.8" font-family="'Liberation Sans', Arial, sans-serif" font-size="12.8" fill="#555" textLength="82" lengthAdjust="spacingAndGlyphs">EMA (50, close)</text>
<path d="M89 177 L97 177 L93 181.5Z" fill="#bbb"/>
<g transform="translate(107 172)"><rect width="14" height="14" fill="rgba(140,140,140,0.36)"/><path d="M2.3 7 C3.9 1.8 10.1 1.8 11.7 7 C10.1 12.2 3.9 12.2 2.3 7Z" fill="none" stroke="#fff" stroke-width="1.4"/><circle cx="7" cy="7" r="1.6" fill="#fff"/></g>
<g transform="translate(124 172)"><rect width="14" height="14" fill="rgba(140,140,140,0.36)"/><g stroke="#fff" stroke-width="2" stroke-linecap="butt"><line x1="9.60" y1="7.00" x2="12.20" y2="7.00"/><line x1="8.84" y1="8.84" x2="10.68" y2="10.68"/><line x1="7.00" y1="9.60" x2="7.00" y2="12.20"/><line x1="5.16" y1="8.84" x2="3.32" y2="10.68"/><line x1="4.40" y1="7.00" x2="1.80" y2="7.00"/><line x1="5.16" y1="5.16" x2="3.32" y2="3.32"/><line x1="7.00" y1="4.40" x2="7.00" y2="1.80"/><line x1="8.84" y1="5.16" x2="10.68" y2="3.32"/></g><circle cx="7" cy="7" r="2.9" fill="none" stroke="#fff" stroke-width="1.7"/></g>
<g transform="translate(141 172)"><rect width="14" height="14" fill="rgba(140,140,140,0.36)"/><rect x="6" y="3" width="2" height="8" fill="#fff"/><rect x="3" y="6" width="8" height="2" fill="#fff"/></g>
<g transform="translate(158 172)"><rect width="14" height="14" fill="rgba(140,140,140,0.36)"/><path d="M2.6 2.6 L11.4 11.4 M11.4 2.6 L2.6 11.4" stroke="#fff" stroke-width="1.3" fill="none"/></g>
<text x="180.7" y="182.8" font-family="'Liberation Sans', Arial, sans-serif" font-size="12.6" fill="#ee3f47" textLength="53.5" lengthAdjust="spacingAndGlyphs">1257.1837</text>
<text x="3" y="202.8" font-family="'Liberation Sans', Arial, sans-serif" font-size="12.8" fill="#555" textLength="88.5" lengthAdjust="spacingAndGlyphs">EMA (200, close)</text>
<path d="M96 197 L104 197 L100 201.5Z" fill="#bbb"/>
<g transform="translate(114 192)"><rect width="14" height="14" fill="rgba(140,140,140,0.36)"/><path d="M2.3 7 C3.9 1.8 10.1 1.8 11.7 7 C10.1 12.2 3.9 12.2 2.3 7Z" fill="none" stroke="#fff" stroke-width="1.4"/><circle cx="7" cy="7" r="1.6" fill="#fff"/></g>
<g transform="translate(131 192)"><rect width="14" height="14" fill="rgba(140,140,140,0.36)"/><g stroke="#fff" stroke-width="2" stroke-linecap="butt"><line x1="9.60" y1="7.00" x2="12.20" y2="7.00"/><line x1="8.84" y1="8.84" x2="10.68" y2="10.68"/><line x1="7.00" y1="9.60" x2="7.00" y2="12.20"/><line x1="5.16" y1="8.84" x2="3.32" y2="10.68"/><line x1="4.40" y1="7.00" x2="1.80" y2="7.00"/><line x1="5.16" y1="5.16" x2="3.32" y2="3.32"/><line x1="7.00" y1="4.40" x2="7.00" y2="1.80"/><line x1="8.84" y1="5.16" x2="10.68" y2="3.32"/></g><circle cx="7" cy="7" r="2.9" fill="none" stroke="#fff" stroke-width="1.7"/></g>
<g transform="translate(148 192)"><rect width="14" height="14" fill="rgba(140,140,140,0.36)"/><rect x="6" y="3" width="2" height="8" fill="#fff"/><rect x="3" y="6" width="8" height="2" fill="#fff"/></g>
<g transform="translate(165 192)"><rect width="14" height="14" fill="rgba(140,140,140,0.36)"/><path d="M2.6 2.6 L11.4 11.4 M11.4 2.6 L2.6 11.4" stroke="#fff" stroke-width="1.3" fill="none"/></g>
<text x="187.5" y="202.8" font-family="'Liberation Sans', Arial, sans-serif" font-size="12.6" fill="#a61c00" textLength="53.5" lengthAdjust="spacingAndGlyphs">1258.6385</text>
<text x="3" y="222.8" font-family="'Liberation Sans', Arial, sans-serif" font-size="12.8" fill="#ccc" textLength="41" lengthAdjust="spacingAndGlyphs">Vol (20)</text>
<path d="M48 217 L56 217 L52 221.5Z" fill="#ccc"/>
<g transform="translate(66 212)"><rect width="14" height="14" fill="#37a6ef"/><path d="M1.6 7 C3.2 1.2 10.8 1.2 12.4 7 C10.8 12.8 3.2 12.8 1.6 7Z" fill="#fff"/><circle cx="7" cy="7" r="2.4" fill="#37a6ef"/><circle cx="7" cy="7" r="1.1" fill="#fff"/></g>
<g transform="translate(83 212)"><rect width="14" height="14" fill="rgba(140,140,140,0.36)"/><g stroke="#fff" stroke-width="2" stroke-linecap="butt"><line x1="9.60" y1="7.00" x2="12.20" y2="7.00"/><line x1="8.84" y1="8.84" x2="10.68" y2="10.68"/><line x1="7.00" y1="9.60" x2="7.00" y2="12.20"/><line x1="5.16" y1="8.84" x2="3.32" y2="10.68"/><line x1="4.40" y1="7.00" x2="1.80" y2="7.00"/><line x1="5.16" y1="5.16" x2="3.32" y2="3.32"/><line x1="7.00" y1="4.40" x2="7.00" y2="1.80"/><line x1="8.84" y1="5.16" x2="10.68" y2="3.32"/></g><circle cx="7" cy="7" r="2.9" fill="none" stroke="#fff" stroke-width="1.7"/></g>
<g transform="translate(100 212)"><rect width="14" height="14" fill="rgba(140,140,140,0.36)"/><rect x="6" y="3" width="2" height="8" fill="#fff"/><rect x="3" y="6" width="8" height="2" fill="#fff"/></g>
<g transform="translate(117 212)"><rect width="14" height="14" fill="rgba(140,140,140,0.36)"/><path d="M2.6 2.6 L11.4 11.4 M11.4 2.6 L2.6 11.4" stroke="#fff" stroke-width="1.3" fill="none"/></g>
<text x="3" y="242.8" font-family="'Liberation Sans', Arial, sans-serif" font-size="12.8" fill="#555" textLength="48" lengthAdjust="spacingAndGlyphs">SPX, TVC</text>
<path d="M55 237 L63 237 L59 241.5Z" fill="#bbb"/>
<g transform="translate(73 232)"><rect width="14" height="14" fill="rgba(140,140,140,0.36)"/><path d="M2.3 7 C3.9 1.8 10.1 1.8 11.7 7 C10.1 12.2 3.9 12.2 2.3 7Z" fill="none" stroke="#fff" stroke-width="1.4"/><circle cx="7" cy="7" r="1.6" fill="#fff"/></g>
<g transform="translate(90 232)"><rect width="14" height="14" fill="rgba(140,140,140,0.36)"/><g stroke="#fff" stroke-width="2" stroke-linecap="butt"><line x1="9.60" y1="7.00" x2="12.20" y2="7.00"/><line x1="8.84" y1="8.84" x2="10.68" y2="10.68"/><line x1="7.00" y1="9.60" x2="7.00" y2="12.20"/><line x1="5.16" y1="8.84" x2="3.32" y2="10.68"/><line x1="4.40" y1="7.00" x2="1.80" y2="7.00"/><line x1="5.16" y1="5.16" x2="3.32" y2="3.32"/><line x1="7.00" y1="4.40" x2="7.00" y2="1.80"/><line x1="8.84" y1="5.16" x2="10.68" y2="3.32"/></g><circle cx="7" cy="7" r="2.9" fill="none" stroke="#fff" stroke-width="1.7"/></g>
<g transform="translate(107 232)"><rect width="14" height="14" fill="rgba(140,140,140,0.36)"/><rect x="6" y="3" width="2" height="8" fill="#fff"/><rect x="3" y="6" width="8" height="2" fill="#fff"/></g>
<g transform="translate(124 232)"><rect width="14" height="14" fill="rgba(140,140,140,0.36)"/><path d="M2.6 2.6 L11.4 11.4 M11.4 2.6 L2.6 11.4" stroke="#fff" stroke-width="1.3" fill="none"/></g>
<text x="146.7" y="242.8" font-family="'Liberation Sans', Arial, sans-serif" font-size="12.6" fill="#000" textLength="41.5" lengthAdjust="spacingAndGlyphs">2498.37</text>
</svg>
</body></html>
